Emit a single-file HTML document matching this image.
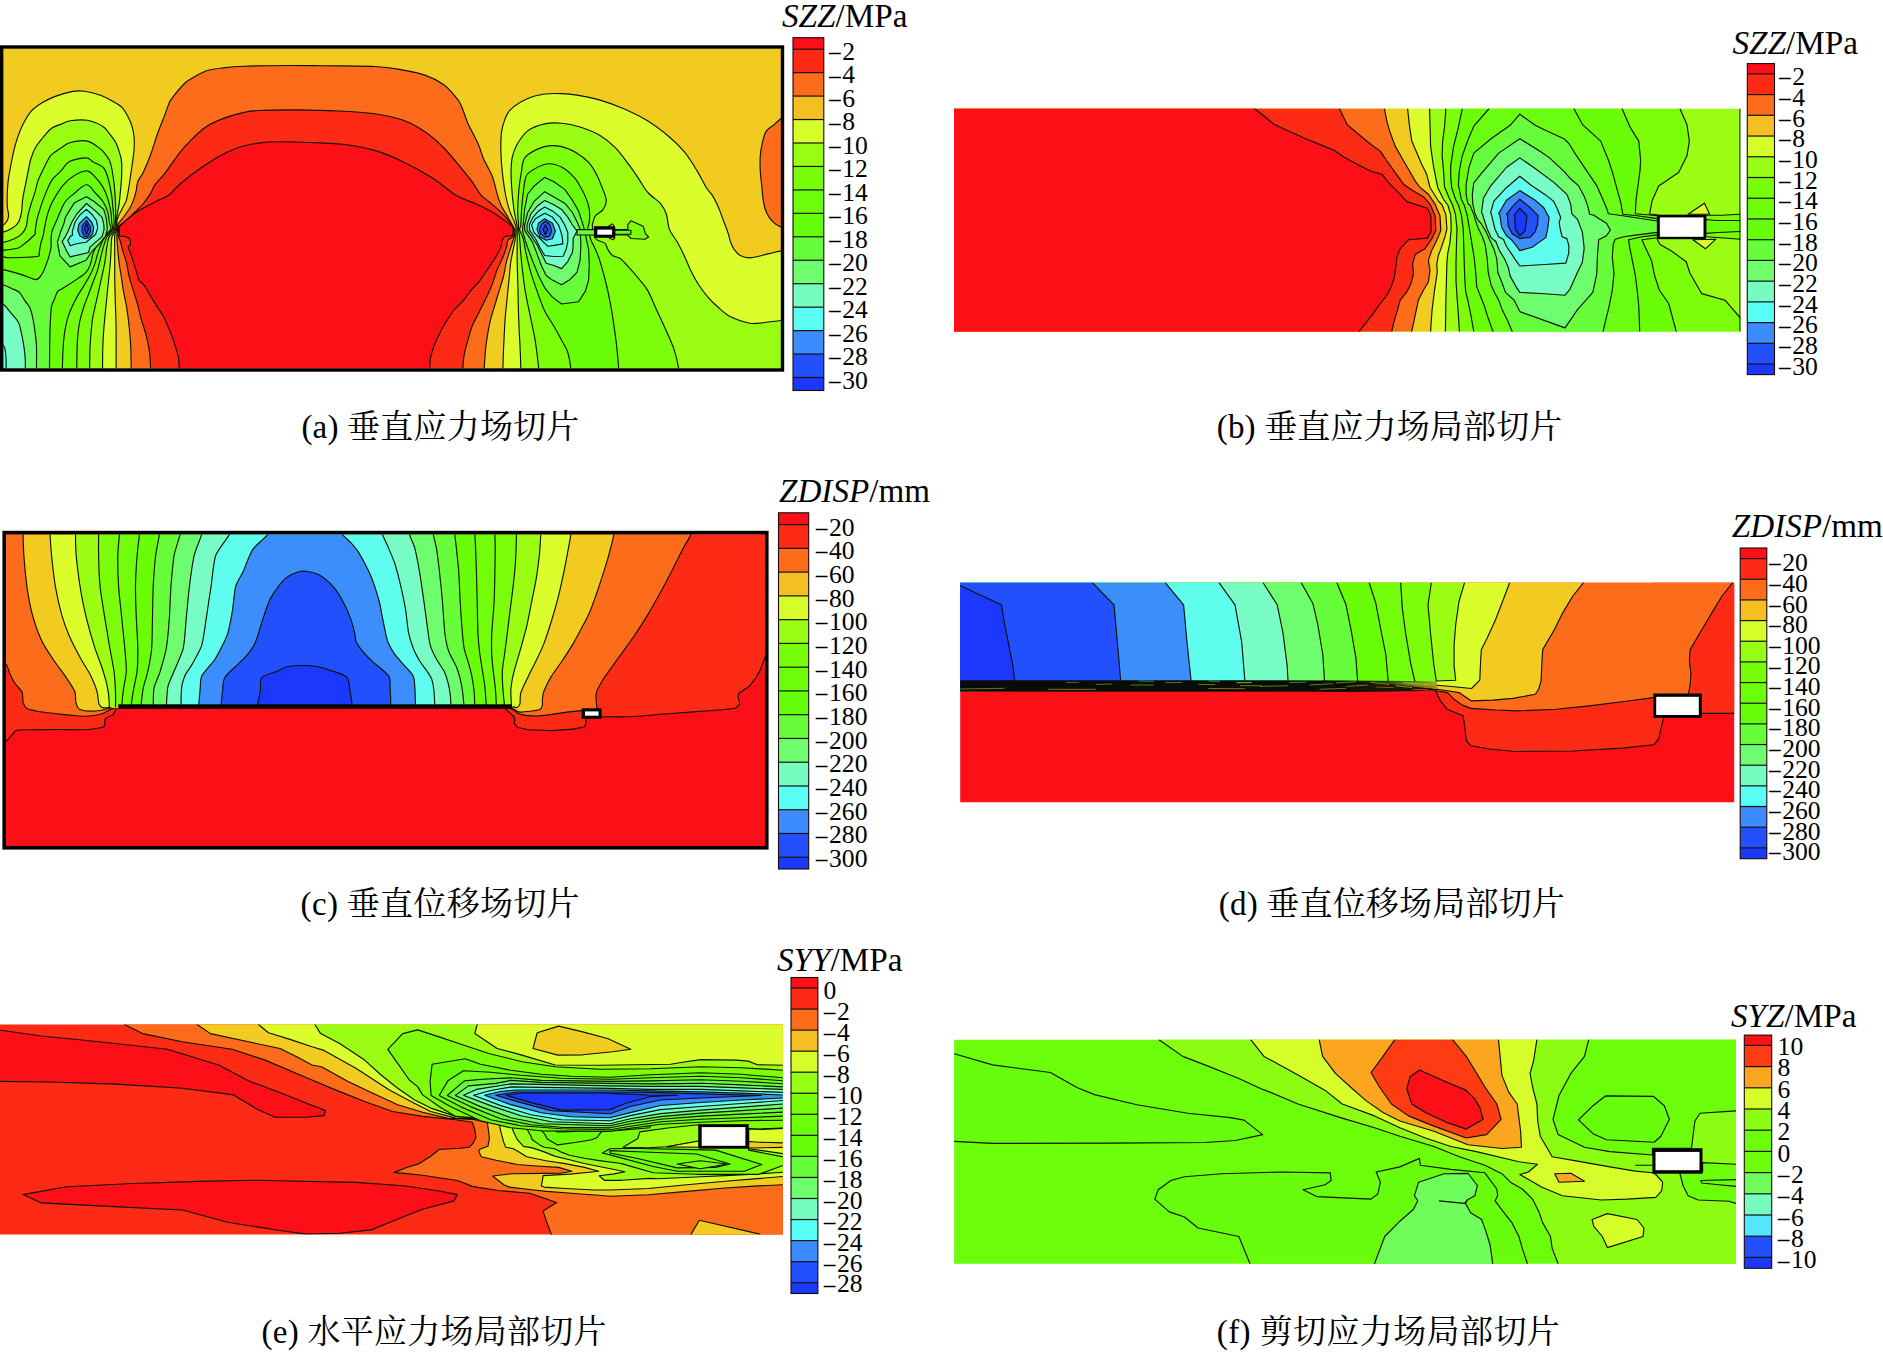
<!DOCTYPE html>
<html lang="zh"><head><meta charset="utf-8"><title>Figure</title>
<style>
html,body{margin:0;padding:0;background:#fff;}
body{width:1883px;height:1354px;overflow:hidden;}
svg{display:block;}
.t{font-family:"Liberation Serif","Noto Serif CJK SC",serif;fill:#000;}
.lab{font-size:23.5px;}
.ttl{font-size:33px;}
.cap{font-size:33px;}
</style></head><body>
<svg xmlns="http://www.w3.org/2000/svg" width="1883" height="1354" viewBox="0 0 1883 1354">
<rect x="0" y="0" width="1883" height="1354" fill="#fff"/>
<g id="panel-a">
<defs><clipPath id="clipA"><rect x="3.2" y="48.6" width="777.8" height="319.7"/></clipPath></defs>
<g clip-path="url(#clipA)">
<rect x="0" y="40" width="790" height="340" fill="#f1cb1f"/>
<path d="M-5.7,225.7 C-4.3,225.6 1.0,225.8 3.1,225.0 C5.3,224.1 6.3,222.3 7.2,220.7 C8.1,219.0 8.6,217.6 8.6,214.9 C8.6,212.3 7.3,210.2 7.2,204.9 C7.1,199.6 7.2,190.6 7.9,183.4 C8.6,176.2 10.2,168.6 11.5,161.9 C12.8,155.2 14.1,149.0 15.8,143.2 C17.4,137.5 19.0,132.7 21.5,127.5 C24.0,122.2 27.5,115.8 30.8,111.7 C34.2,107.6 37.6,105.6 41.6,103.1 C45.5,100.6 49.5,98.6 54.5,96.6 C59.5,94.7 66.7,92.5 71.7,91.6 C76.7,90.7 79.8,90.7 84.6,91.3 C89.4,91.9 95.6,93.5 100.4,95.2 C105.2,96.9 109.7,99.6 113.3,101.7 C116.9,103.7 119.5,105.0 121.9,107.4 C124.3,109.8 125.9,112.9 127.6,116.0 C129.3,119.1 130.8,122.4 131.9,126.0 C133.0,129.6 133.7,133.7 134.1,137.5 C134.4,141.3 134.3,144.9 134.1,149.0 C133.8,153.0 133.2,157.3 132.6,161.9 C132.0,166.4 131.2,171.4 130.5,176.2 C129.8,181.0 129.0,186.5 128.3,190.6 C127.6,194.6 127.3,197.5 126.2,200.6 C125.1,203.7 123.1,206.8 121.9,209.2 C120.7,211.6 119.8,213.0 119.0,214.9 C118.2,216.8 117.2,218.2 116.9,220.7 C116.5,223.1 117.1,227.1 116.7,229.6 C116.3,232.1 115.0,232.9 114.7,235.9 C114.4,238.8 114.7,240.7 114.7,247.4 C114.7,254.1 114.7,268.9 114.7,276.0 C114.8,283.2 114.9,285.6 115.0,290.4 C115.1,295.1 115.3,299.9 115.4,304.7 C115.6,309.5 115.7,314.3 115.9,319.1 C116.0,323.8 116.1,325.1 116.1,333.4 C116.2,341.6 116.1,361.5 116.1,368.5 C116.1,375.6 116.1,374.5 116.1,375.7 L-10.0,380.0 L-5.7,225.7Z" fill="#dcfd2c"/><path d="M-5.7,225.7 C-4.3,225.6 1.0,225.8 3.1,225.0 C5.3,224.1 6.3,222.3 7.2,220.7 C8.1,219.0 8.6,217.6 8.6,214.9 C8.6,212.3 7.3,210.2 7.2,204.9 C7.1,199.6 7.2,190.6 7.9,183.4 C8.6,176.2 10.2,168.6 11.5,161.9 C12.8,155.2 14.1,149.0 15.8,143.2 C17.4,137.5 19.0,132.7 21.5,127.5 C24.0,122.2 27.5,115.8 30.8,111.7 C34.2,107.6 37.6,105.6 41.6,103.1 C45.5,100.6 49.5,98.6 54.5,96.6 C59.5,94.7 66.7,92.5 71.7,91.6 C76.7,90.7 79.8,90.7 84.6,91.3 C89.4,91.9 95.6,93.5 100.4,95.2 C105.2,96.9 109.7,99.6 113.3,101.7 C116.9,103.7 119.5,105.0 121.9,107.4 C124.3,109.8 125.9,112.9 127.6,116.0 C129.3,119.1 130.8,122.4 131.9,126.0 C133.0,129.6 133.7,133.7 134.1,137.5 C134.4,141.3 134.3,144.9 134.1,149.0 C133.8,153.0 133.2,157.3 132.6,161.9 C132.0,166.4 131.2,171.4 130.5,176.2 C129.8,181.0 129.0,186.5 128.3,190.6 C127.6,194.6 127.3,197.5 126.2,200.6 C125.1,203.7 123.1,206.8 121.9,209.2 C120.7,211.6 119.8,213.0 119.0,214.9 C118.2,216.8 117.2,218.2 116.9,220.7 C116.5,223.1 117.1,227.1 116.7,229.6 C116.3,232.1 115.0,232.9 114.7,235.9 C114.4,238.8 114.7,240.7 114.7,247.4 C114.7,254.1 114.7,268.9 114.7,276.0 C114.8,283.2 114.9,285.6 115.0,290.4 C115.1,295.1 115.3,299.9 115.4,304.7 C115.6,309.5 115.7,314.3 115.9,319.1 C116.0,323.8 116.1,325.1 116.1,333.4 C116.2,341.6 116.1,361.5 116.1,368.5 C116.1,375.6 116.1,374.5 116.1,375.7" fill="none" stroke="#0c1200" stroke-width="1.15" stroke-linejoin="round" stroke-linecap="round"/>
<path d="M-5.7,232.9 C-4.3,232.7 0.0,233.0 3.1,232.1 C6.3,231.3 10.3,229.5 12.9,227.8 C15.5,226.2 17.2,224.7 18.6,222.1 C20.1,219.5 20.8,216.1 21.5,212.1 C22.2,208.0 22.0,203.7 22.9,197.7 C23.9,191.8 25.9,182.7 27.2,176.2 C28.6,169.8 29.4,163.9 30.8,159.0 C32.3,154.1 33.8,150.4 35.9,146.8 C37.9,143.2 40.4,140.6 43.0,137.5 C45.6,134.4 48.5,130.5 51.6,128.2 C54.7,125.9 58.6,125.1 61.7,123.9 C64.8,122.6 66.0,121.3 70.3,120.7 C74.6,120.1 82.0,119.3 87.5,120.3 C93.0,121.3 99.7,124.6 103.2,126.8 C106.8,128.9 106.8,130.5 109.0,133.2 C111.1,135.9 114.3,139.9 116.1,143.2 C117.9,146.6 118.8,150.2 119.7,153.3 C120.6,156.4 121.3,158.1 121.6,161.9 C121.9,165.7 121.8,171.4 121.6,176.2 C121.4,181.0 120.9,185.8 120.5,190.6 C120.0,195.3 119.6,200.6 119.0,204.9 C118.4,209.2 117.4,212.3 116.9,216.4 C116.3,220.5 116.4,226.1 115.6,229.6 C114.8,233.1 112.6,234.4 111.8,237.3 C111.1,240.3 111.4,243.3 111.1,247.4 C110.9,251.4 110.8,256.9 110.4,261.7 C110.1,266.5 109.5,271.2 109.0,276.0 C108.5,280.8 108.0,285.6 107.5,290.4 C107.1,295.1 106.6,299.9 106.1,304.7 C105.6,309.5 105.1,314.3 104.7,319.1 C104.2,323.8 103.8,328.6 103.5,333.4 C103.2,338.2 103.0,341.9 102.8,347.7 C102.6,353.6 102.6,363.9 102.5,368.5 C102.5,373.2 102.5,374.5 102.5,375.7 L-10.0,380.0 L-5.7,232.9Z" fill="#9cfd14"/><path d="M-5.7,232.9 C-4.3,232.7 0.0,233.0 3.1,232.1 C6.3,231.3 10.3,229.5 12.9,227.8 C15.5,226.2 17.2,224.7 18.6,222.1 C20.1,219.5 20.8,216.1 21.5,212.1 C22.2,208.0 22.0,203.7 22.9,197.7 C23.9,191.8 25.9,182.7 27.2,176.2 C28.6,169.8 29.4,163.9 30.8,159.0 C32.3,154.1 33.8,150.4 35.9,146.8 C37.9,143.2 40.4,140.6 43.0,137.5 C45.6,134.4 48.5,130.5 51.6,128.2 C54.7,125.9 58.6,125.1 61.7,123.9 C64.8,122.6 66.0,121.3 70.3,120.7 C74.6,120.1 82.0,119.3 87.5,120.3 C93.0,121.3 99.7,124.6 103.2,126.8 C106.8,128.9 106.8,130.5 109.0,133.2 C111.1,135.9 114.3,139.9 116.1,143.2 C117.9,146.6 118.8,150.2 119.7,153.3 C120.6,156.4 121.3,158.1 121.6,161.9 C121.9,165.7 121.8,171.4 121.6,176.2 C121.4,181.0 120.9,185.8 120.5,190.6 C120.0,195.3 119.6,200.6 119.0,204.9 C118.4,209.2 117.4,212.3 116.9,216.4 C116.3,220.5 116.4,226.1 115.6,229.6 C114.8,233.1 112.6,234.4 111.8,237.3 C111.1,240.3 111.4,243.3 111.1,247.4 C110.9,251.4 110.8,256.9 110.4,261.7 C110.1,266.5 109.5,271.2 109.0,276.0 C108.5,280.8 108.0,285.6 107.5,290.4 C107.1,295.1 106.6,299.9 106.1,304.7 C105.6,309.5 105.1,314.3 104.7,319.1 C104.2,323.8 103.8,328.6 103.5,333.4 C103.2,338.2 103.0,341.9 102.8,347.7 C102.6,353.6 102.6,363.9 102.5,368.5 C102.5,373.2 102.5,374.5 102.5,375.7" fill="none" stroke="#0c1200" stroke-width="1.15" stroke-linejoin="round" stroke-linecap="round"/>
<path d="M-4.8,242.6 C-3.3,242.5 0.9,242.8 4.0,242.2 C7.0,241.6 10.6,240.3 13.6,239.0 C16.5,237.6 19.4,236.3 21.5,234.2 C23.7,232.1 25.3,229.3 26.3,226.2 C27.4,223.1 27.1,219.6 27.9,215.8 C28.7,212.1 29.9,207.9 31.1,203.9 C32.3,199.9 33.9,195.9 35.1,191.9 C36.3,187.9 36.8,183.9 38.3,179.9 C39.8,176.0 42.3,171.3 43.9,168.0 C45.5,164.7 46.6,162.2 47.9,160.0 C49.2,157.8 49.3,156.8 51.6,154.7 C53.9,152.6 58.6,149.6 61.7,147.5 C64.8,145.5 66.0,143.6 70.3,142.5 C74.6,141.4 82.5,140.0 87.5,141.1 C92.5,142.2 97.5,146.9 100.4,149.0 C103.2,151.0 103.2,151.4 104.7,153.3 C106.2,155.1 108.1,157.6 109.3,160.0 C110.4,162.4 110.9,164.0 111.7,168.0 C112.5,172.0 113.5,178.6 114.1,183.9 C114.7,189.2 115.0,194.6 115.3,199.9 C115.5,205.2 115.8,210.9 115.7,215.8 C115.5,220.8 115.5,226.0 114.4,229.6 C113.3,233.2 110.2,234.4 109.0,237.3 C107.7,240.3 107.4,243.8 106.8,247.4 C106.2,250.9 106.0,255.0 105.4,258.8 C104.8,262.7 104.1,266.2 103.2,270.3 C102.4,274.4 101.3,278.9 100.4,283.2 C99.4,287.5 98.5,291.8 97.5,296.1 C96.5,300.4 95.5,305.2 94.6,309.0 C93.8,312.8 93.1,315.0 92.5,319.1 C91.9,323.1 91.5,328.6 91.0,333.4 C90.6,338.2 90.3,341.9 90.0,347.7 C89.8,353.6 89.7,363.9 89.6,368.5 C89.5,373.2 89.6,374.5 89.6,375.7 L-10.0,380.0 L-4.8,242.6Z" fill="#7cfd0a"/><path d="M-4.8,242.6 C-3.3,242.5 0.9,242.8 4.0,242.2 C7.0,241.6 10.6,240.3 13.6,239.0 C16.5,237.6 19.4,236.3 21.5,234.2 C23.7,232.1 25.3,229.3 26.3,226.2 C27.4,223.1 27.1,219.6 27.9,215.8 C28.7,212.1 29.9,207.9 31.1,203.9 C32.3,199.9 33.9,195.9 35.1,191.9 C36.3,187.9 36.8,183.9 38.3,179.9 C39.8,176.0 42.3,171.3 43.9,168.0 C45.5,164.7 46.6,162.2 47.9,160.0 C49.2,157.8 49.3,156.8 51.6,154.7 C53.9,152.6 58.6,149.6 61.7,147.5 C64.8,145.5 66.0,143.6 70.3,142.5 C74.6,141.4 82.5,140.0 87.5,141.1 C92.5,142.2 97.5,146.9 100.4,149.0 C103.2,151.0 103.2,151.4 104.7,153.3 C106.2,155.1 108.1,157.6 109.3,160.0 C110.4,162.4 110.9,164.0 111.7,168.0 C112.5,172.0 113.5,178.6 114.1,183.9 C114.7,189.2 115.0,194.6 115.3,199.9 C115.5,205.2 115.8,210.9 115.7,215.8 C115.5,220.8 115.5,226.0 114.4,229.6 C113.3,233.2 110.2,234.4 109.0,237.3 C107.7,240.3 107.4,243.8 106.8,247.4 C106.2,250.9 106.0,255.0 105.4,258.8 C104.8,262.7 104.1,266.2 103.2,270.3 C102.4,274.4 101.3,278.9 100.4,283.2 C99.4,287.5 98.5,291.8 97.5,296.1 C96.5,300.4 95.5,305.2 94.6,309.0 C93.8,312.8 93.1,315.0 92.5,319.1 C91.9,323.1 91.5,328.6 91.0,333.4 C90.6,338.2 90.3,341.9 90.0,347.7 C89.8,353.6 89.7,363.9 89.6,368.5 C89.5,373.2 89.6,374.5 89.6,375.7" fill="none" stroke="#0c1200" stroke-width="1.15" stroke-linejoin="round" stroke-linecap="round"/>
<path d="M-4.8,250.1 C-3.3,250.1 0.5,250.4 4.0,250.1 C7.4,249.9 13.0,249.2 15.9,248.5 C18.9,247.9 18.5,248.4 21.5,246.1 C24.6,243.9 32.0,237.4 34.3,235.0 C36.6,232.6 34.7,234.2 35.1,231.8 C35.5,229.4 35.9,224.3 36.7,220.6 C37.5,216.9 38.8,212.9 39.9,209.4 C40.9,206.0 41.7,203.5 43.1,199.9 C44.4,196.3 46.3,191.4 47.9,187.9 C49.5,184.5 50.4,182.1 52.6,179.1 C54.9,176.2 58.6,173.3 61.4,170.4 C64.2,167.4 65.3,163.7 69.4,161.6 C73.5,159.5 82.1,157.8 86.0,157.9 C90.0,157.9 90.3,160.2 93.2,161.9 C96.1,163.6 101.1,165.0 103.7,168.0 C106.2,171.0 107.2,175.3 108.5,179.9 C109.8,184.6 110.9,190.6 111.7,195.9 C112.5,201.2 112.9,207.5 113.3,211.8 C113.7,216.2 114.1,219.3 114.1,222.2 C114.0,225.2 114.4,227.1 113.2,229.6 C112.0,232.1 108.5,234.4 106.8,237.3 C105.2,240.3 104.3,243.8 103.2,247.4 C102.2,250.9 101.3,255.0 100.4,258.8 C99.4,262.7 98.7,266.5 97.5,270.3 C96.3,274.1 94.6,277.9 93.2,281.8 C91.8,285.6 90.3,289.4 88.9,293.2 C87.5,297.1 85.9,300.9 84.6,304.7 C83.3,308.5 82.0,312.6 81.0,316.2 C80.1,319.8 79.5,322.2 78.9,326.2 C78.3,330.3 77.8,333.5 77.4,340.6 C77.1,347.6 76.8,362.7 76.7,368.5 C76.6,374.4 76.7,374.5 76.7,375.7 L-10.0,380.0 L-4.8,250.1Z" fill="#72fd0a"/><path d="M-4.8,250.1 C-3.3,250.1 0.5,250.4 4.0,250.1 C7.4,249.9 13.0,249.2 15.9,248.5 C18.9,247.9 18.5,248.4 21.5,246.1 C24.6,243.9 32.0,237.4 34.3,235.0 C36.6,232.6 34.7,234.2 35.1,231.8 C35.5,229.4 35.9,224.3 36.7,220.6 C37.5,216.9 38.8,212.9 39.9,209.4 C40.9,206.0 41.7,203.5 43.1,199.9 C44.4,196.3 46.3,191.4 47.9,187.9 C49.5,184.5 50.4,182.1 52.6,179.1 C54.9,176.2 58.6,173.3 61.4,170.4 C64.2,167.4 65.3,163.7 69.4,161.6 C73.5,159.5 82.1,157.8 86.0,157.9 C90.0,157.9 90.3,160.2 93.2,161.9 C96.1,163.6 101.1,165.0 103.7,168.0 C106.2,171.0 107.2,175.3 108.5,179.9 C109.8,184.6 110.9,190.6 111.7,195.9 C112.5,201.2 112.9,207.5 113.3,211.8 C113.7,216.2 114.1,219.3 114.1,222.2 C114.0,225.2 114.4,227.1 113.2,229.6 C112.0,232.1 108.5,234.4 106.8,237.3 C105.2,240.3 104.3,243.8 103.2,247.4 C102.2,250.9 101.3,255.0 100.4,258.8 C99.4,262.7 98.7,266.5 97.5,270.3 C96.3,274.1 94.6,277.9 93.2,281.8 C91.8,285.6 90.3,289.4 88.9,293.2 C87.5,297.1 85.9,300.9 84.6,304.7 C83.3,308.5 82.0,312.6 81.0,316.2 C80.1,319.8 79.5,322.2 78.9,326.2 C78.3,330.3 77.8,333.5 77.4,340.6 C77.1,347.6 76.8,362.7 76.7,368.5 C76.6,374.4 76.7,374.5 76.7,375.7" fill="none" stroke="#0c1200" stroke-width="1.15" stroke-linejoin="round" stroke-linecap="round"/>
<path d="M-4.8,256.9 C-3.3,256.9 1.6,256.8 4.0,256.9 C6.4,257.0 4.1,257.8 9.6,257.7 C15.0,257.6 31.8,257.2 36.7,256.5 C41.6,255.8 38.4,255.4 39.1,253.3 C39.7,251.2 40.0,246.7 40.7,243.8 C41.3,240.8 42.4,238.6 43.1,235.8 C43.7,233.0 44.0,230.3 44.7,227.0 C45.3,223.7 46.0,219.6 47.1,215.8 C48.1,212.1 49.6,208.0 51.0,204.7 C52.5,201.3 54.0,198.9 55.8,195.9 C57.7,192.8 59.6,189.4 62.2,186.3 C64.9,183.2 67.7,179.7 71.8,177.2 C75.8,174.6 82.6,170.7 86.5,170.8 C90.5,170.8 93.0,174.8 95.7,177.6 C98.4,180.3 100.9,183.7 102.9,187.1 C104.9,190.6 106.4,194.2 107.7,198.3 C109.0,202.4 110.2,207.9 110.9,211.8 C111.5,215.8 111.5,219.3 111.7,222.2 C111.9,225.2 113.2,227.1 112.0,229.6 C110.8,232.1 106.6,234.6 104.7,237.3 C102.7,240.0 101.6,243.1 100.4,245.9 C99.2,248.8 98.5,251.4 97.5,254.5 C96.5,257.6 95.8,261.2 94.6,264.6 C93.4,267.9 92.0,271.3 90.3,274.6 C88.7,277.9 86.8,281.1 84.6,284.6 C82.4,288.2 79.6,292.3 77.4,296.1 C75.3,299.9 73.4,303.8 71.7,307.6 C70.0,311.4 68.6,314.7 67.4,319.1 C66.2,323.4 65.2,328.6 64.5,333.4 C63.8,338.2 63.4,341.9 63.1,347.7 C62.7,353.6 62.5,363.9 62.4,368.5 C62.2,373.2 62.4,374.5 62.4,375.7 L-10.0,380.0 L-4.8,256.9Z" fill="#6afd08"/><path d="M-4.8,256.9 C-3.3,256.9 1.6,256.8 4.0,256.9 C6.4,257.0 4.1,257.8 9.6,257.7 C15.0,257.6 31.8,257.2 36.7,256.5 C41.6,255.8 38.4,255.4 39.1,253.3 C39.7,251.2 40.0,246.7 40.7,243.8 C41.3,240.8 42.4,238.6 43.1,235.8 C43.7,233.0 44.0,230.3 44.7,227.0 C45.3,223.7 46.0,219.6 47.1,215.8 C48.1,212.1 49.6,208.0 51.0,204.7 C52.5,201.3 54.0,198.9 55.8,195.9 C57.7,192.8 59.6,189.4 62.2,186.3 C64.9,183.2 67.7,179.7 71.8,177.2 C75.8,174.6 82.6,170.7 86.5,170.8 C90.5,170.8 93.0,174.8 95.7,177.6 C98.4,180.3 100.9,183.7 102.9,187.1 C104.9,190.6 106.4,194.2 107.7,198.3 C109.0,202.4 110.2,207.9 110.9,211.8 C111.5,215.8 111.5,219.3 111.7,222.2 C111.9,225.2 113.2,227.1 112.0,229.6 C110.8,232.1 106.6,234.6 104.7,237.3 C102.7,240.0 101.6,243.1 100.4,245.9 C99.2,248.8 98.5,251.4 97.5,254.5 C96.5,257.6 95.8,261.2 94.6,264.6 C93.4,267.9 92.0,271.3 90.3,274.6 C88.7,277.9 86.8,281.1 84.6,284.6 C82.4,288.2 79.6,292.3 77.4,296.1 C75.3,299.9 73.4,303.8 71.7,307.6 C70.0,311.4 68.6,314.7 67.4,319.1 C66.2,323.4 65.2,328.6 64.5,333.4 C63.8,338.2 63.4,341.9 63.1,347.7 C62.7,353.6 62.5,363.9 62.4,368.5 C62.2,373.2 62.4,374.5 62.4,375.7" fill="none" stroke="#0c1200" stroke-width="1.15" stroke-linejoin="round" stroke-linecap="round"/>
<path d="M-5.7,268.9 C-4.3,269.0 -1.4,268.6 3.1,269.6 C7.7,270.5 16.1,272.9 21.5,274.6 C27.0,276.3 32.5,279.6 35.9,279.6 C39.2,279.6 40.1,276.4 41.6,274.6 C43.0,272.8 43.4,271.3 44.5,268.9 C45.5,266.4 46.8,263.2 47.9,259.7 C49.0,256.2 50.5,250.8 51.0,247.7 C51.6,244.7 50.9,244.0 51.0,241.4 C51.2,238.7 51.1,235.0 51.9,231.8 C52.6,228.6 54.4,225.7 55.8,222.2 C57.3,218.8 59.0,214.5 60.6,211.1 C62.2,207.6 63.1,204.4 65.4,201.5 C67.7,198.6 70.7,196.3 74.2,193.5 C77.7,190.7 83.0,184.7 86.5,184.7 C90.1,184.7 93.0,190.7 95.7,193.5 C98.4,196.3 100.9,198.4 102.9,201.5 C104.9,204.5 106.6,208.4 107.7,211.8 C108.7,215.3 108.8,219.3 109.3,222.2 C109.8,225.2 111.7,227.1 110.6,229.6 C109.5,232.1 104.7,234.8 102.5,237.3 C100.3,239.8 99.1,241.9 97.5,244.5 C95.9,247.1 94.4,249.7 93.2,253.1 C92.0,256.4 91.5,261.3 90.3,264.6 C89.1,267.8 88.2,270.1 86.0,272.4 C83.9,274.8 80.3,276.9 77.4,278.9 C74.6,280.9 71.5,283.0 68.8,284.6 C66.2,286.3 63.6,287.7 61.7,288.9 C59.7,290.1 58.6,290.1 57.4,291.8 C56.2,293.5 55.4,296.6 54.5,299.0 C53.5,301.4 52.3,302.8 51.6,306.1 C50.9,309.5 50.8,314.5 50.5,319.1 C50.2,323.6 50.1,325.1 49.9,333.4 C49.7,341.6 49.5,361.5 49.5,368.5 C49.4,375.6 49.5,374.5 49.5,375.7 L-10.0,380.0 L-5.7,268.9Z" fill="#68fd3a"/><path d="M-5.7,268.9 C-4.3,269.0 -1.4,268.6 3.1,269.6 C7.7,270.5 16.1,272.9 21.5,274.6 C27.0,276.3 32.5,279.6 35.9,279.6 C39.2,279.6 40.1,276.4 41.6,274.6 C43.0,272.8 43.4,271.3 44.5,268.9 C45.5,266.4 46.8,263.2 47.9,259.7 C49.0,256.2 50.5,250.8 51.0,247.7 C51.6,244.7 50.9,244.0 51.0,241.4 C51.2,238.7 51.1,235.0 51.9,231.8 C52.6,228.6 54.4,225.7 55.8,222.2 C57.3,218.8 59.0,214.5 60.6,211.1 C62.2,207.6 63.1,204.4 65.4,201.5 C67.7,198.6 70.7,196.3 74.2,193.5 C77.7,190.7 83.0,184.7 86.5,184.7 C90.1,184.7 93.0,190.7 95.7,193.5 C98.4,196.3 100.9,198.4 102.9,201.5 C104.9,204.5 106.6,208.4 107.7,211.8 C108.7,215.3 108.8,219.3 109.3,222.2 C109.8,225.2 111.7,227.1 110.6,229.6 C109.5,232.1 104.7,234.8 102.5,237.3 C100.3,239.8 99.1,241.9 97.5,244.5 C95.9,247.1 94.4,249.7 93.2,253.1 C92.0,256.4 91.5,261.3 90.3,264.6 C89.1,267.8 88.2,270.1 86.0,272.4 C83.9,274.8 80.3,276.9 77.4,278.9 C74.6,280.9 71.5,283.0 68.8,284.6 C66.2,286.3 63.6,287.7 61.7,288.9 C59.7,290.1 58.6,290.1 57.4,291.8 C56.2,293.5 55.4,296.6 54.5,299.0 C53.5,301.4 52.3,302.8 51.6,306.1 C50.9,309.5 50.8,314.5 50.5,319.1 C50.2,323.6 50.1,325.1 49.9,333.4 C49.7,341.6 49.5,361.5 49.5,368.5 C49.4,375.6 49.5,374.5 49.5,375.7" fill="none" stroke="#0c1200" stroke-width="1.15" stroke-linejoin="round" stroke-linecap="round"/>
<path d="M-5.8,283.6 C-4.2,283.8 1.0,284.2 3.8,285.0 C6.7,285.8 9.0,287.2 11.5,288.4 C14.1,289.6 17.0,290.2 19.2,292.2 C21.4,294.3 23.2,298.3 25.0,300.9 C26.7,303.4 28.5,304.9 29.8,307.6 C31.0,310.3 31.8,313.2 32.6,317.2 C33.5,321.2 34.4,326.8 35.0,331.6 C35.7,336.4 36.2,339.9 36.5,346.0 C36.7,352.1 36.5,363.3 36.5,368.1 C36.5,372.9 36.5,373.7 36.5,374.8 L-10.0,380.0 L-5.8,283.6Z" fill="#6efd6e"/><path d="M-5.8,283.6 C-4.2,283.8 1.0,284.2 3.8,285.0 C6.7,285.8 9.0,287.2 11.5,288.4 C14.1,289.6 17.0,290.2 19.2,292.2 C21.4,294.3 23.2,298.3 25.0,300.9 C26.7,303.4 28.5,304.9 29.8,307.6 C31.0,310.3 31.8,313.2 32.6,317.2 C33.5,321.2 34.4,326.8 35.0,331.6 C35.7,336.4 36.2,339.9 36.5,346.0 C36.7,352.1 36.5,363.3 36.5,368.1 C36.5,372.9 36.5,373.7 36.5,374.8" fill="none" stroke="#0c1200" stroke-width="1.15" stroke-linejoin="round" stroke-linecap="round"/>
<path d="M-5.8,301.9 C-4.2,302.3 1.3,303.1 3.8,304.7 C6.4,306.3 7.2,308.6 9.6,311.4 C12.0,314.3 16.4,319.0 18.2,322.0 C20.1,325.1 19.8,326.5 20.6,329.7 C21.4,332.9 22.3,336.9 23.0,341.2 C23.8,345.5 24.6,351.1 25.0,355.6 C25.4,360.1 25.4,364.9 25.4,368.1 C25.5,371.3 25.4,373.7 25.4,374.8 L-10.0,380.0 L-5.8,301.9Z" fill="#78fdc6"/><path d="M-5.8,301.9 C-4.2,302.3 1.3,303.1 3.8,304.7 C6.4,306.3 7.2,308.6 9.6,311.4 C12.0,314.3 16.4,319.0 18.2,322.0 C20.1,325.1 19.8,326.5 20.6,329.7 C21.4,332.9 22.3,336.9 23.0,341.2 C23.8,345.5 24.6,351.1 25.0,355.6 C25.4,360.1 25.4,364.9 25.4,368.1 C25.5,371.3 25.4,373.7 25.4,374.8" fill="none" stroke="#0c1200" stroke-width="1.15" stroke-linejoin="round" stroke-linecap="round"/>
<path d="M-5.8,336.4 C-4.2,338.0 1.9,342.8 3.8,346.0 C5.8,349.2 5.4,351.9 5.8,355.6 C6.2,359.3 6.2,364.9 6.2,368.1 C6.3,371.3 6.2,373.7 6.2,374.8 L-10.0,380.0 L-5.8,336.4Z" fill="#5efdee"/><path d="M-5.8,336.4 C-4.2,338.0 1.9,342.8 3.8,346.0 C5.8,349.2 5.4,351.9 5.8,355.6 C6.2,359.3 6.2,364.9 6.2,368.1 C6.3,371.3 6.2,373.7 6.2,374.8" fill="none" stroke="#0c1200" stroke-width="1.15" stroke-linejoin="round" stroke-linecap="round"/>
<path d="M86.5,196.7 L79.8,199.9 L74.2,203.1 L70.2,209.4 L65.4,217.4 L63.8,223.8 L60.6,231.8 L57.4,242.2 L59.8,255.7 L70.2,266.9 L86.0,260.3 L91.8,251.7 L100.0,243.0 L105.5,236.0 L107.3,229.4 L106.9,223.8 L106.1,217.4 L103.7,209.4 L94.1,201.5Z" fill="#6efd6e" stroke="#0c1200" stroke-width="1.15" stroke-linejoin="round"/>
<path d="M86.5,203.5 L76.6,214.2 L71.8,222.2 L67.8,231.8 L65.4,236.6 L62.2,241.4 L67.0,251.7 L70.2,256.9 L88.5,252.5 L90.1,246.9 L102.1,236.6 L104.1,229.4 L103.7,223.8 L102.1,217.4 L95.7,211.1Z" fill="#78fdc6" stroke="#0c1200" stroke-width="1.15" stroke-linejoin="round"/>
<path d="M86.5,209.4 L79.8,215.0 L75.0,222.2 L72.2,231.8 L72.6,235.0 L70.2,236.6 L67.8,240.6 L70.2,245.8 L76.6,243.8 L86.1,242.2 L90.1,239.0 L95.7,234.2 L97.7,227.8 L96.5,220.6 L92.5,215.0Z" fill="#5efdee" stroke="#0c1200" stroke-width="1.15" stroke-linejoin="round"/>
<path d="M86.5,216.6 L83.0,219.8 L79.0,223.8 L77.8,230.2 L79.8,235.8 L84.5,238.6 L89.3,237.8 L92.5,234.2 L93.7,227.8 L91.7,222.2Z" fill="#3c8efd" stroke="#0c1200" stroke-width="1.15" stroke-linejoin="round"/>
<path d="M86.5,220.6 L82.2,226.2 L82.2,231.8 L84.5,236.6 L87.7,236.6 L90.5,231.8 L90.1,226.2Z" fill="#2250fd" stroke="#0c1200" stroke-width="1.15" stroke-linejoin="round"/>
<path d="M86.5,223.8 L84.5,228.6 L86.5,234.2 L88.5,228.6Z" fill="#1c38fd" stroke="#0c1200" stroke-width="1.15" stroke-linejoin="round"/>
<path d="M117.7,229.6 C117.7,228.8 116.9,226.7 117.6,225.0 C118.3,223.2 120.0,221.9 121.9,219.2 C123.8,216.6 127.1,212.3 129.1,209.2 C131.0,206.1 132.2,203.7 133.3,200.6 C134.5,197.5 135.5,193.7 136.2,190.6 C136.9,187.5 136.5,185.1 137.7,181.9 C138.8,178.8 141.2,176.5 143.4,171.9 C145.5,167.4 148.2,161.2 150.6,154.7 C152.9,148.3 155.3,139.9 157.7,133.2 C160.1,126.5 163.0,119.6 164.9,114.6 C166.8,109.5 168.0,105.8 169.2,103.1 C170.4,100.3 169.4,101.4 172.1,98.1 C174.7,94.7 181.4,86.5 185.0,83.0 C188.6,79.6 190.0,79.3 193.6,77.3 C197.2,75.2 201.7,72.4 206.5,70.8 C211.3,69.3 216.0,68.7 222.2,68.0 C228.5,67.2 232.7,66.6 243.8,66.2 C254.8,65.8 275.5,65.6 288.7,65.5 C301.9,65.4 308.8,65.6 323.1,65.8 C337.4,66.0 361.3,65.8 374.7,66.5 C388.1,67.2 395.0,68.7 403.4,70.1 C411.8,71.5 418.2,72.7 424.9,75.1 C431.6,77.5 438.8,81.2 443.5,84.5 C448.3,87.7 450.7,91.1 453.6,94.5 C456.4,97.8 458.4,99.7 460.7,104.5 C463.1,109.3 465.0,116.7 467.9,123.2 C470.8,129.6 475.3,137.3 477.9,143.2 C480.6,149.2 481.3,153.5 483.7,159.0 C486.1,164.5 490.1,170.7 492.3,176.2 C494.4,181.7 495.2,187.2 496.6,192.0 C498.0,196.8 499.2,201.1 500.9,204.9 C502.6,208.7 504.7,211.6 506.6,214.9 C508.5,218.3 511.0,222.5 512.4,225.0 C513.8,227.4 514.6,229.0 515.0,229.8 C514.9,230.8 515.1,233.0 514.4,235.9 C513.7,238.8 512.1,243.1 510.8,247.4 C509.5,251.7 507.7,256.9 506.5,261.7 C505.3,266.5 504.8,271.2 503.6,276.0 C502.4,280.8 500.7,285.6 499.3,290.4 C497.9,295.1 496.4,299.9 495.0,304.7 C493.6,309.5 491.9,314.3 490.7,319.1 C489.5,323.8 488.7,328.6 487.8,333.4 C487.0,338.2 486.3,341.9 485.7,347.7 C485.1,353.6 484.5,363.9 484.2,368.5 C484.0,373.2 484.2,374.5 484.2,375.7 L131.2,375.7 C131.2,374.5 131.3,373.2 131.2,368.5 C131.1,363.9 131.0,353.6 130.8,347.7 C130.5,341.9 130.2,338.2 129.8,333.4 C129.4,328.6 128.9,323.8 128.3,319.1 C127.7,314.3 127.0,309.5 126.2,304.7 C125.3,299.9 124.1,295.1 123.3,290.4 C122.5,285.6 121.9,280.8 121.2,276.0 C120.4,271.2 119.6,266.5 119.0,261.7 C118.4,256.9 117.9,251.7 117.6,247.4 C117.2,243.1 116.8,238.8 116.9,235.9 C116.9,232.9 117.6,230.6 117.7,229.6Z" fill="#fd6c1a"/><path d="M117.7,229.6 C117.7,228.8 116.9,226.7 117.6,225.0 C118.3,223.2 120.0,221.9 121.9,219.2 C123.8,216.6 127.1,212.3 129.1,209.2 C131.0,206.1 132.2,203.7 133.3,200.6 C134.5,197.5 135.5,193.7 136.2,190.6 C136.9,187.5 136.5,185.1 137.7,181.9 C138.8,178.8 141.2,176.5 143.4,171.9 C145.5,167.4 148.2,161.2 150.6,154.7 C152.9,148.3 155.3,139.9 157.7,133.2 C160.1,126.5 163.0,119.6 164.9,114.6 C166.8,109.5 168.0,105.8 169.2,103.1 C170.4,100.3 169.4,101.4 172.1,98.1 C174.7,94.7 181.4,86.5 185.0,83.0 C188.6,79.6 190.0,79.3 193.6,77.3 C197.2,75.2 201.7,72.4 206.5,70.8 C211.3,69.3 216.0,68.7 222.2,68.0 C228.5,67.2 232.7,66.6 243.8,66.2 C254.8,65.8 275.5,65.6 288.7,65.5 C301.9,65.4 308.8,65.6 323.1,65.8 C337.4,66.0 361.3,65.8 374.7,66.5 C388.1,67.2 395.0,68.7 403.4,70.1 C411.8,71.5 418.2,72.7 424.9,75.1 C431.6,77.5 438.8,81.2 443.5,84.5 C448.3,87.7 450.7,91.1 453.6,94.5 C456.4,97.8 458.4,99.7 460.7,104.5 C463.1,109.3 465.0,116.7 467.9,123.2 C470.8,129.6 475.3,137.3 477.9,143.2 C480.6,149.2 481.3,153.5 483.7,159.0 C486.1,164.5 490.1,170.7 492.3,176.2 C494.4,181.7 495.2,187.2 496.6,192.0 C498.0,196.8 499.2,201.1 500.9,204.9 C502.6,208.7 504.7,211.6 506.6,214.9 C508.5,218.3 511.0,222.5 512.4,225.0 C513.8,227.4 514.6,229.0 515.0,229.8 M515.0,229.8 C514.9,230.8 515.1,233.0 514.4,235.9 C513.7,238.8 512.1,243.1 510.8,247.4 C509.5,251.7 507.7,256.9 506.5,261.7 C505.3,266.5 504.8,271.2 503.6,276.0 C502.4,280.8 500.7,285.6 499.3,290.4 C497.9,295.1 496.4,299.9 495.0,304.7 C493.6,309.5 491.9,314.3 490.7,319.1 C489.5,323.8 488.7,328.6 487.8,333.4 C487.0,338.2 486.3,341.9 485.7,347.7 C485.1,353.6 484.5,363.9 484.2,368.5 C484.0,373.2 484.2,374.5 484.2,375.7 M131.2,375.7 C131.2,374.5 131.3,373.2 131.2,368.5 C131.1,363.9 131.0,353.6 130.8,347.7 C130.5,341.9 130.2,338.2 129.8,333.4 C129.4,328.6 128.9,323.8 128.3,319.1 C127.7,314.3 127.0,309.5 126.2,304.7 C125.3,299.9 124.1,295.1 123.3,290.4 C122.5,285.6 121.9,280.8 121.2,276.0 C120.4,271.2 119.6,266.5 119.0,261.7 C118.4,256.9 117.9,251.7 117.6,247.4 C117.2,243.1 116.8,238.8 116.9,235.9 C116.9,232.9 117.6,230.6 117.7,229.6" fill="none" stroke="#0c1200" stroke-width="1.15" stroke-linejoin="round" stroke-linecap="round"/>
<path d="M118.6,229.6 C118.7,228.9 117.7,227.2 119.0,225.7 C120.3,224.2 123.6,222.9 126.2,220.7 C128.8,218.4 131.9,214.9 134.8,212.1 C137.6,209.2 140.8,206.6 143.4,203.5 C146.0,200.4 148.6,196.5 150.6,193.4 C152.5,190.3 152.5,188.2 154.9,184.8 C157.2,181.5 160.8,178.6 164.9,173.3 C169.0,168.1 175.2,158.5 179.2,153.3 C183.3,148.0 185.0,146.1 189.3,141.8 C193.6,137.5 199.6,131.3 205.1,127.5 C210.5,123.6 216.3,121.2 222.2,118.9 C228.2,116.5 234.9,114.5 240.9,113.1 C246.9,111.7 248.9,111.1 258.1,110.5 C267.3,110.0 282.4,109.8 295.9,109.8 C309.3,109.9 325.7,110.3 338.9,111.0 C352.0,111.6 364.0,112.3 374.7,113.8 C385.5,115.4 395.0,117.3 403.4,120.3 C411.8,123.3 418.2,127.2 424.9,131.8 C431.6,136.3 437.6,141.6 443.5,147.5 C449.5,153.5 456.0,161.9 460.7,167.6 C465.5,173.4 468.9,177.4 472.2,181.9 C475.6,186.5 478.0,191.5 480.8,194.9 C483.7,198.2 486.1,199.2 489.4,202.0 C492.8,204.9 497.3,208.5 500.9,212.1 C504.5,215.7 508.7,220.6 510.9,223.5 C513.1,226.5 513.5,228.8 514.0,229.8 C513.9,230.8 514.7,234.1 513.6,235.9 C512.6,237.6 509.1,238.3 507.9,240.2 C506.7,242.1 507.4,244.3 506.5,247.4 C505.5,250.5 503.9,254.8 502.2,258.8 C500.5,262.9 498.1,267.4 496.4,271.7 C494.8,276.0 493.8,280.3 492.1,284.6 C490.5,288.9 488.5,293.0 486.4,297.5 C484.2,302.1 481.6,307.1 479.2,311.9 C476.9,316.7 474.0,321.4 472.1,326.2 C470.2,331.0 469.1,335.8 467.8,340.6 C466.4,345.3 465.0,350.2 464.2,354.9 C463.3,359.6 463.0,365.1 462.8,368.5 C462.5,372.0 462.8,374.5 462.8,375.7 L150.6,375.7 C150.6,374.5 150.7,372.0 150.6,368.5 C150.4,365.1 150.3,359.3 149.8,354.9 C149.4,350.5 148.5,346.1 147.7,342.0 C146.9,337.9 145.9,334.3 144.8,330.5 C143.7,326.7 142.4,323.4 141.2,319.1 C140.0,314.7 139.0,309.5 137.7,304.7 C136.3,299.9 134.8,295.1 133.3,290.4 C131.9,285.6 130.2,280.8 129.1,276.0 C127.9,271.2 127.3,266.0 126.2,261.7 C125.1,257.4 123.6,253.6 122.6,250.2 C121.6,246.9 121.2,244.0 120.5,241.6 C119.7,239.2 118.6,237.9 118.3,235.9 C118.0,233.9 118.5,230.6 118.6,229.6Z" fill="#fd2a16"/><path d="M118.6,229.6 C118.7,228.9 117.7,227.2 119.0,225.7 C120.3,224.2 123.6,222.9 126.2,220.7 C128.8,218.4 131.9,214.9 134.8,212.1 C137.6,209.2 140.8,206.6 143.4,203.5 C146.0,200.4 148.6,196.5 150.6,193.4 C152.5,190.3 152.5,188.2 154.9,184.8 C157.2,181.5 160.8,178.6 164.9,173.3 C169.0,168.1 175.2,158.5 179.2,153.3 C183.3,148.0 185.0,146.1 189.3,141.8 C193.6,137.5 199.6,131.3 205.1,127.5 C210.5,123.6 216.3,121.2 222.2,118.9 C228.2,116.5 234.9,114.5 240.9,113.1 C246.9,111.7 248.9,111.1 258.1,110.5 C267.3,110.0 282.4,109.8 295.9,109.8 C309.3,109.9 325.7,110.3 338.9,111.0 C352.0,111.6 364.0,112.3 374.7,113.8 C385.5,115.4 395.0,117.3 403.4,120.3 C411.8,123.3 418.2,127.2 424.9,131.8 C431.6,136.3 437.6,141.6 443.5,147.5 C449.5,153.5 456.0,161.9 460.7,167.6 C465.5,173.4 468.9,177.4 472.2,181.9 C475.6,186.5 478.0,191.5 480.8,194.9 C483.7,198.2 486.1,199.2 489.4,202.0 C492.8,204.9 497.3,208.5 500.9,212.1 C504.5,215.7 508.7,220.6 510.9,223.5 C513.1,226.5 513.5,228.8 514.0,229.8 M514.0,229.8 C513.9,230.8 514.7,234.1 513.6,235.9 C512.6,237.6 509.1,238.3 507.9,240.2 C506.7,242.1 507.4,244.3 506.5,247.4 C505.5,250.5 503.9,254.8 502.2,258.8 C500.5,262.9 498.1,267.4 496.4,271.7 C494.8,276.0 493.8,280.3 492.1,284.6 C490.5,288.9 488.5,293.0 486.4,297.5 C484.2,302.1 481.6,307.1 479.2,311.9 C476.9,316.7 474.0,321.4 472.1,326.2 C470.2,331.0 469.1,335.8 467.8,340.6 C466.4,345.3 465.0,350.2 464.2,354.9 C463.3,359.6 463.0,365.1 462.8,368.5 C462.5,372.0 462.8,374.5 462.8,375.7 M150.6,375.7 C150.6,374.5 150.7,372.0 150.6,368.5 C150.4,365.1 150.3,359.3 149.8,354.9 C149.4,350.5 148.5,346.1 147.7,342.0 C146.9,337.9 145.9,334.3 144.8,330.5 C143.7,326.7 142.4,323.4 141.2,319.1 C140.0,314.7 139.0,309.5 137.7,304.7 C136.3,299.9 134.8,295.1 133.3,290.4 C131.9,285.6 130.2,280.8 129.1,276.0 C127.9,271.2 127.3,266.0 126.2,261.7 C125.1,257.4 123.6,253.6 122.6,250.2 C121.6,246.9 121.2,244.0 120.5,241.6 C119.7,239.2 118.6,237.9 118.3,235.9 C118.0,233.9 118.5,230.6 118.6,229.6" fill="none" stroke="#0c1200" stroke-width="1.15" stroke-linejoin="round" stroke-linecap="round"/>
<path d="M119.6,229.6 C119.6,229.1 118.2,228.4 119.7,226.4 C121.3,224.4 125.8,220.4 129.1,217.8 C132.3,215.2 134.3,213.5 139.1,210.6 C143.9,207.8 152.7,203.2 157.7,200.6 C162.7,198.0 165.6,197.5 169.2,194.9 C172.8,192.2 175.2,188.4 179.2,184.8 C183.3,181.2 188.8,176.9 193.6,173.3 C198.3,169.8 203.1,166.4 207.9,163.3 C212.7,160.2 216.8,157.5 222.2,154.7 C227.7,152.0 234.9,148.7 240.9,146.8 C246.9,144.9 252.5,144.1 258.1,143.2 C263.7,142.4 265.7,141.9 274.3,141.8 C283.0,141.7 298.2,142.0 310.2,142.5 C322.1,143.0 335.3,143.4 346.0,144.7 C356.8,146.0 365.1,147.5 374.7,150.4 C384.3,153.3 393.8,157.3 403.4,161.9 C412.9,166.4 423.2,172.0 432.1,177.7 C440.9,183.3 449.3,191.3 456.4,195.6 C463.6,199.9 469.1,200.7 475.1,203.5 C481.1,206.2 487.5,209.3 492.3,212.1 C497.1,214.8 500.4,217.6 503.8,219.9 C507.1,222.3 510.8,224.8 512.4,226.4 C513.9,228.0 512.9,229.2 513.0,229.8 C512.9,230.7 513.5,234.0 512.2,235.2 C510.9,236.3 506.7,235.8 505.1,236.6 C503.4,237.4 502.9,238.4 502.2,240.2 C501.5,242.0 501.7,244.7 500.7,247.4 C499.8,250.0 498.1,253.1 496.4,256.0 C494.8,258.8 492.6,261.7 490.7,264.6 C488.8,267.4 487.1,270.1 485.0,273.2 C482.8,276.3 480.0,280.6 477.8,283.2 C475.6,285.8 474.5,286.1 472.1,288.9 C469.7,291.8 466.3,297.1 463.5,300.4 C460.6,303.8 457.5,305.9 454.9,309.0 C452.2,312.1 449.6,316.2 447.7,319.1 C445.8,321.9 445.1,323.1 443.4,326.2 C441.7,329.3 439.3,334.1 437.6,337.7 C436.0,341.3 434.5,344.4 433.4,347.7 C432.2,351.1 431.1,354.3 430.5,357.8 C429.9,361.2 429.9,365.5 429.8,368.5 C429.7,371.5 429.8,374.5 429.8,375.7 L179.2,375.7 C179.2,374.5 179.4,371.5 179.2,368.5 C179.1,365.5 179.1,361.2 178.5,357.8 C177.9,354.3 176.7,351.3 175.7,347.7 C174.6,344.1 173.4,339.8 172.1,336.3 C170.8,332.7 169.2,329.6 167.8,326.2 C166.3,322.9 165.1,319.3 163.5,316.2 C161.8,313.1 159.9,310.9 157.7,307.6 C155.6,304.2 152.7,299.7 150.6,296.1 C148.4,292.5 146.7,288.7 144.8,286.1 C142.9,283.4 140.3,282.0 139.1,280.3 C137.9,278.7 138.6,279.1 137.7,276.0 C136.7,272.9 134.5,265.5 133.3,261.7 C132.2,257.9 131.3,255.5 130.5,253.1 C129.6,250.7 128.3,248.8 128.3,247.4 C128.3,245.9 130.2,245.8 130.5,244.5 C130.7,243.2 130.5,240.8 129.8,239.5 C129.1,238.2 127.9,237.2 126.2,236.6 C124.5,236.0 120.8,237.0 119.7,235.9 C118.6,234.7 119.6,230.6 119.6,229.6Z" fill="#fd0f18"/><path d="M119.6,229.6 C119.6,229.1 118.2,228.4 119.7,226.4 C121.3,224.4 125.8,220.4 129.1,217.8 C132.3,215.2 134.3,213.5 139.1,210.6 C143.9,207.8 152.7,203.2 157.7,200.6 C162.7,198.0 165.6,197.5 169.2,194.9 C172.8,192.2 175.2,188.4 179.2,184.8 C183.3,181.2 188.8,176.9 193.6,173.3 C198.3,169.8 203.1,166.4 207.9,163.3 C212.7,160.2 216.8,157.5 222.2,154.7 C227.7,152.0 234.9,148.7 240.9,146.8 C246.9,144.9 252.5,144.1 258.1,143.2 C263.7,142.4 265.7,141.9 274.3,141.8 C283.0,141.7 298.2,142.0 310.2,142.5 C322.1,143.0 335.3,143.4 346.0,144.7 C356.8,146.0 365.1,147.5 374.7,150.4 C384.3,153.3 393.8,157.3 403.4,161.9 C412.9,166.4 423.2,172.0 432.1,177.7 C440.9,183.3 449.3,191.3 456.4,195.6 C463.6,199.9 469.1,200.7 475.1,203.5 C481.1,206.2 487.5,209.3 492.3,212.1 C497.1,214.8 500.4,217.6 503.8,219.9 C507.1,222.3 510.8,224.8 512.4,226.4 C513.9,228.0 512.9,229.2 513.0,229.8 M513.0,229.8 C512.9,230.7 513.5,234.0 512.2,235.2 C510.9,236.3 506.7,235.8 505.1,236.6 C503.4,237.4 502.9,238.4 502.2,240.2 C501.5,242.0 501.7,244.7 500.7,247.4 C499.8,250.0 498.1,253.1 496.4,256.0 C494.8,258.8 492.6,261.7 490.7,264.6 C488.8,267.4 487.1,270.1 485.0,273.2 C482.8,276.3 480.0,280.6 477.8,283.2 C475.6,285.8 474.5,286.1 472.1,288.9 C469.7,291.8 466.3,297.1 463.5,300.4 C460.6,303.8 457.5,305.9 454.9,309.0 C452.2,312.1 449.6,316.2 447.7,319.1 C445.8,321.9 445.1,323.1 443.4,326.2 C441.7,329.3 439.3,334.1 437.6,337.7 C436.0,341.3 434.5,344.4 433.4,347.7 C432.2,351.1 431.1,354.3 430.5,357.8 C429.9,361.2 429.9,365.5 429.8,368.5 C429.7,371.5 429.8,374.5 429.8,375.7 M179.2,375.7 C179.2,374.5 179.4,371.5 179.2,368.5 C179.1,365.5 179.1,361.2 178.5,357.8 C177.9,354.3 176.7,351.3 175.7,347.7 C174.6,344.1 173.4,339.8 172.1,336.3 C170.8,332.7 169.2,329.6 167.8,326.2 C166.3,322.9 165.1,319.3 163.5,316.2 C161.8,313.1 159.9,310.9 157.7,307.6 C155.6,304.2 152.7,299.7 150.6,296.1 C148.4,292.5 146.7,288.7 144.8,286.1 C142.9,283.4 140.3,282.0 139.1,280.3 C137.9,278.7 138.6,279.1 137.7,276.0 C136.7,272.9 134.5,265.5 133.3,261.7 C132.2,257.9 131.3,255.5 130.5,253.1 C129.6,250.7 128.3,248.8 128.3,247.4 C128.3,245.9 130.2,245.8 130.5,244.5 C130.7,243.2 130.5,240.8 129.8,239.5 C129.1,238.2 127.9,237.2 126.2,236.6 C124.5,236.0 120.8,237.0 119.7,235.9 C118.6,234.7 119.6,230.6 119.6,229.6" fill="none" stroke="#0c1200" stroke-width="1.15" stroke-linejoin="round" stroke-linecap="round"/>
<path d="M502.9,375.7 C502.9,374.5 502.8,373.2 502.9,368.5 C503.0,363.9 503.4,353.6 503.6,347.7 C503.9,341.9 504.1,338.2 504.3,333.4 C504.6,328.6 504.7,323.8 505.1,319.1 C505.4,314.3 506.0,309.5 506.5,304.7 C507.0,299.9 507.4,295.1 507.9,290.4 C508.4,285.6 508.9,280.8 509.4,276.0 C509.8,271.2 510.1,266.5 510.8,261.7 C511.5,256.9 512.8,251.7 513.6,247.4 C514.5,243.1 515.4,238.8 515.8,235.9 C516.2,233.0 516.1,231.6 516.0,229.8 C515.9,228.0 516.5,228.2 515.4,224.8 C514.3,221.4 510.9,214.5 509.2,209.4 C507.6,204.3 506.4,199.1 505.4,194.0 C504.4,188.9 503.7,183.7 503.1,178.6 C502.4,173.5 501.9,168.3 501.5,163.2 C501.2,158.1 500.8,152.9 500.8,147.8 C500.8,142.7 500.9,137.0 501.5,132.4 C502.2,127.8 503.1,123.9 504.6,120.1 C506.2,116.2 506.9,112.9 510.8,109.3 C514.6,105.7 522.3,101.0 527.7,98.5 C533.1,96.0 537.5,95.0 543.1,94.2 C548.8,93.4 556.0,93.4 561.6,93.6 C567.2,93.8 570.6,94.1 577.0,95.1 C583.4,96.2 592.4,97.8 600.1,100.1 C607.8,102.3 615.5,105.2 623.2,108.5 C630.9,111.9 638.6,115.3 646.3,120.1 C654.0,124.8 663.0,131.6 669.4,137.0 C675.8,142.4 680.2,146.8 684.8,152.4 C689.4,158.1 693.5,165.0 697.1,170.9 C700.7,176.8 703.8,183.7 706.4,187.8 C708.9,192.0 710.5,192.2 712.5,195.6 C714.6,198.9 716.9,203.8 718.7,207.9 C720.5,212.0 721.8,216.1 723.3,220.2 C724.8,224.3 726.6,228.7 727.9,232.5 C729.2,236.4 730.0,240.5 731.0,243.3 C732.0,246.1 732.6,247.3 734.1,249.3 C735.6,251.3 737.7,254.0 740.2,255.5 C742.8,256.9 745.9,257.8 749.5,257.8 C753.1,257.8 756.6,256.6 761.8,255.5 C767.1,254.3 774.7,252.1 781.1,250.8 C787.5,249.6 797.1,248.3 800.3,247.8 L800.0,380.0 L502.9,375.7Z" fill="#dcfd2c"/><path d="M502.9,375.7 C502.9,374.5 502.8,373.2 502.9,368.5 C503.0,363.9 503.4,353.6 503.6,347.7 C503.9,341.9 504.1,338.2 504.3,333.4 C504.6,328.6 504.7,323.8 505.1,319.1 C505.4,314.3 506.0,309.5 506.5,304.7 C507.0,299.9 507.4,295.1 507.9,290.4 C508.4,285.6 508.9,280.8 509.4,276.0 C509.8,271.2 510.1,266.5 510.8,261.7 C511.5,256.9 512.8,251.7 513.6,247.4 C514.5,243.1 515.4,238.8 515.8,235.9 C516.2,233.0 516.1,231.6 516.0,229.8 C515.9,228.0 516.5,228.2 515.4,224.8 C514.3,221.4 510.9,214.5 509.2,209.4 C507.6,204.3 506.4,199.1 505.4,194.0 C504.4,188.9 503.7,183.7 503.1,178.6 C502.4,173.5 501.9,168.3 501.5,163.2 C501.2,158.1 500.8,152.9 500.8,147.8 C500.8,142.7 500.9,137.0 501.5,132.4 C502.2,127.8 503.1,123.9 504.6,120.1 C506.2,116.2 506.9,112.9 510.8,109.3 C514.6,105.7 522.3,101.0 527.7,98.5 C533.1,96.0 537.5,95.0 543.1,94.2 C548.8,93.4 556.0,93.4 561.6,93.6 C567.2,93.8 570.6,94.1 577.0,95.1 C583.4,96.2 592.4,97.8 600.1,100.1 C607.8,102.3 615.5,105.2 623.2,108.5 C630.9,111.9 638.6,115.3 646.3,120.1 C654.0,124.8 663.0,131.6 669.4,137.0 C675.8,142.4 680.2,146.8 684.8,152.4 C689.4,158.1 693.5,165.0 697.1,170.9 C700.7,176.8 703.8,183.7 706.4,187.8 C708.9,192.0 710.5,192.2 712.5,195.6 C714.6,198.9 716.9,203.8 718.7,207.9 C720.5,212.0 721.8,216.1 723.3,220.2 C724.8,224.3 726.6,228.7 727.9,232.5 C729.2,236.4 730.0,240.5 731.0,243.3 C732.0,246.1 732.6,247.3 734.1,249.3 C735.6,251.3 737.7,254.0 740.2,255.5 C742.8,256.9 745.9,257.8 749.5,257.8 C753.1,257.8 756.6,256.6 761.8,255.5 C767.1,254.3 774.7,252.1 781.1,250.8 C787.5,249.6 797.1,248.3 800.3,247.8" fill="none" stroke="#0c1200" stroke-width="1.15" stroke-linejoin="round" stroke-linecap="round"/>
<path d="M520.8,375.7 C520.8,374.5 520.9,373.2 520.8,368.5 C520.7,363.9 520.5,356.0 520.1,347.7 C519.7,339.5 519.0,328.6 518.7,319.1 C518.3,309.5 518.2,299.9 518.0,290.4 C517.7,280.8 517.4,270.8 517.2,261.7 C517.1,252.6 517.2,241.2 517.2,235.9 C517.2,230.6 517.2,231.6 517.2,229.8 C517.2,228.0 517.5,228.2 516.9,224.8 C516.4,221.4 514.8,215.8 513.9,209.4 C513.0,203.0 512.0,192.7 511.6,186.3 C511.1,179.9 511.0,175.8 511.1,170.9 C511.2,166.0 511.3,161.4 512.3,157.1 C513.3,152.7 514.4,149.1 516.9,144.7 C519.5,140.4 523.1,134.3 527.7,130.9 C532.3,127.4 539.0,125.2 544.7,123.9 C550.3,122.7 555.7,122.7 561.6,123.2 C567.5,123.7 573.7,125.0 580.1,127.0 C586.5,129.1 594.2,132.0 600.1,135.5 C606.0,139.0 610.9,143.2 615.5,147.8 C620.1,152.4 624.0,158.1 627.8,163.2 C631.7,168.3 635.3,173.7 638.6,178.6 C641.9,183.5 644.3,188.4 647.9,192.5 C651.4,196.6 657.1,199.7 660.2,203.2 C663.2,206.8 664.8,209.7 666.3,214.0 C667.9,218.4 667.6,224.8 669.4,229.4 C671.2,234.1 674.5,237.2 677.1,241.8 C679.7,246.3 682.5,252.1 684.8,257.0 C687.1,261.9 688.7,266.2 691.0,270.9 C693.3,275.5 695.8,280.4 698.7,284.7 C701.5,289.1 704.6,293.2 707.9,297.1 C711.2,300.9 714.8,304.5 718.7,307.8 C722.5,311.2 725.9,314.5 731.0,317.1 C736.1,319.6 743.9,322.3 749.5,323.2 C755.1,324.1 759.6,322.9 764.9,322.5 C770.2,322.0 775.2,321.1 781.1,320.5 C787.0,319.8 797.1,318.9 800.3,318.6 L800.0,380.0 L520.8,375.7Z" fill="#9cfd14"/><path d="M520.8,375.7 C520.8,374.5 520.9,373.2 520.8,368.5 C520.7,363.9 520.5,356.0 520.1,347.7 C519.7,339.5 519.0,328.6 518.7,319.1 C518.3,309.5 518.2,299.9 518.0,290.4 C517.7,280.8 517.4,270.8 517.2,261.7 C517.1,252.6 517.2,241.2 517.2,235.9 C517.2,230.6 517.2,231.6 517.2,229.8 C517.2,228.0 517.5,228.2 516.9,224.8 C516.4,221.4 514.8,215.8 513.9,209.4 C513.0,203.0 512.0,192.7 511.6,186.3 C511.1,179.9 511.0,175.8 511.1,170.9 C511.2,166.0 511.3,161.4 512.3,157.1 C513.3,152.7 514.4,149.1 516.9,144.7 C519.5,140.4 523.1,134.3 527.7,130.9 C532.3,127.4 539.0,125.2 544.7,123.9 C550.3,122.7 555.7,122.7 561.6,123.2 C567.5,123.7 573.7,125.0 580.1,127.0 C586.5,129.1 594.2,132.0 600.1,135.5 C606.0,139.0 610.9,143.2 615.5,147.8 C620.1,152.4 624.0,158.1 627.8,163.2 C631.7,168.3 635.3,173.7 638.6,178.6 C641.9,183.5 644.3,188.4 647.9,192.5 C651.4,196.6 657.1,199.7 660.2,203.2 C663.2,206.8 664.8,209.7 666.3,214.0 C667.9,218.4 667.6,224.8 669.4,229.4 C671.2,234.1 674.5,237.2 677.1,241.8 C679.7,246.3 682.5,252.1 684.8,257.0 C687.1,261.9 688.7,266.2 691.0,270.9 C693.3,275.5 695.8,280.4 698.7,284.7 C701.5,289.1 704.6,293.2 707.9,297.1 C711.2,300.9 714.8,304.5 718.7,307.8 C722.5,311.2 725.9,314.5 731.0,317.1 C736.1,319.6 743.9,322.3 749.5,323.2 C755.1,324.1 759.6,322.9 764.9,322.5 C770.2,322.0 775.2,321.1 781.1,320.5 C787.0,319.8 797.1,318.9 800.3,318.6" fill="none" stroke="#0c1200" stroke-width="1.15" stroke-linejoin="round" stroke-linecap="round"/>
<path d="M539.2,375.7 C539.1,374.5 539.4,374.4 538.7,368.5 C538.1,362.7 536.5,348.8 535.2,340.6 C533.8,332.3 532.5,327.4 530.9,319.1 C529.2,310.7 526.7,299.9 525.1,290.4 C523.6,280.8 522.5,270.8 521.5,261.7 C520.6,252.6 519.9,241.2 519.4,235.9 C518.9,230.6 518.5,231.6 518.4,229.8 C518.2,228.0 518.6,228.2 518.5,224.8 C518.4,221.4 517.6,215.8 517.7,209.4 C517.8,203.0 518.6,192.7 519.2,186.3 C519.9,179.9 520.9,175.0 521.6,170.9 C522.2,166.8 522.1,164.4 523.1,161.7 C524.1,159.0 524.1,157.3 527.7,154.7 C531.3,152.2 539.0,147.9 544.7,146.6 C550.3,145.2 556.2,145.5 561.6,146.6 C567.0,147.7 572.4,150.4 577.0,153.2 C581.6,156.0 586.0,159.5 589.3,163.2 C592.7,166.9 595.0,171.7 597.0,175.5 C599.1,179.4 600.1,182.2 601.6,186.3 C603.2,190.4 606.0,196.3 606.3,200.2 C606.5,204.0 605.0,206.8 603.2,209.4 C601.4,212.0 597.2,213.5 595.5,215.6 C593.8,217.6 593.7,219.9 593.2,221.7 C592.7,223.5 592.0,223.6 592.4,226.3 C592.8,229.1 593.4,235.7 595.5,238.5 C597.5,241.3 602.7,241.3 604.7,243.1 C606.8,244.9 606.5,247.2 607.8,249.3 C609.1,251.4 610.4,253.9 612.4,255.5 C614.5,257.0 617.3,256.5 620.1,258.5 C623.0,260.6 626.3,264.5 629.4,267.8 C632.5,271.1 635.5,274.7 638.6,278.6 C641.7,282.4 644.8,285.5 647.9,290.9 C650.9,296.3 654.0,304.2 657.1,310.9 C660.2,317.6 663.5,324.5 666.3,330.9 C669.2,337.3 672.0,343.2 674.0,349.4 C676.1,355.6 677.8,363.3 678.6,368.2 C679.5,373.1 679.3,376.9 679.4,378.7 L539.2,375.7Z" fill="#7cfd0a"/><path d="M539.2,375.7 C539.1,374.5 539.4,374.4 538.7,368.5 C538.1,362.7 536.5,348.8 535.2,340.6 C533.8,332.3 532.5,327.4 530.9,319.1 C529.2,310.7 526.7,299.9 525.1,290.4 C523.6,280.8 522.5,270.8 521.5,261.7 C520.6,252.6 519.9,241.2 519.4,235.9 C518.9,230.6 518.5,231.6 518.4,229.8 C518.2,228.0 518.6,228.2 518.5,224.8 C518.4,221.4 517.6,215.8 517.7,209.4 C517.8,203.0 518.6,192.7 519.2,186.3 C519.9,179.9 520.9,175.0 521.6,170.9 C522.2,166.8 522.1,164.4 523.1,161.7 C524.1,159.0 524.1,157.3 527.7,154.7 C531.3,152.2 539.0,147.9 544.7,146.6 C550.3,145.2 556.2,145.5 561.6,146.6 C567.0,147.7 572.4,150.4 577.0,153.2 C581.6,156.0 586.0,159.5 589.3,163.2 C592.7,166.9 595.0,171.7 597.0,175.5 C599.1,179.4 600.1,182.2 601.6,186.3 C603.2,190.4 606.0,196.3 606.3,200.2 C606.5,204.0 605.0,206.8 603.2,209.4 C601.4,212.0 597.2,213.5 595.5,215.6 C593.8,217.6 593.7,219.9 593.2,221.7 C592.7,223.5 592.0,223.6 592.4,226.3 C592.8,229.1 593.4,235.7 595.5,238.5 C597.5,241.3 602.7,241.3 604.7,243.1 C606.8,244.9 606.5,247.2 607.8,249.3 C609.1,251.4 610.4,253.9 612.4,255.5 C614.5,257.0 617.3,256.5 620.1,258.5 C623.0,260.6 626.3,264.5 629.4,267.8 C632.5,271.1 635.5,274.7 638.6,278.6 C641.7,282.4 644.8,285.5 647.9,290.9 C650.9,296.3 654.0,304.2 657.1,310.9 C660.2,317.6 663.5,324.5 666.3,330.9 C669.2,337.3 672.0,343.2 674.0,349.4 C676.1,355.6 677.8,363.3 678.6,368.2 C679.5,373.1 679.3,376.9 679.4,378.7" fill="none" stroke="#0c1200" stroke-width="1.15" stroke-linejoin="round" stroke-linecap="round"/>
<path d="M571.6,378.7 C571.5,376.9 571.5,372.6 570.8,368.2 C570.2,363.8 569.3,357.2 567.8,352.5 C566.2,347.8 563.9,344.5 561.6,340.2 C559.3,335.8 556.7,331.2 553.9,326.3 C551.1,321.4 547.5,316.8 544.7,310.9 C541.8,305.0 539.3,297.3 537.0,290.9 C534.7,284.5 532.6,278.6 530.8,272.4 C529.0,266.2 527.5,259.6 526.2,253.9 C524.9,248.3 524.2,242.5 523.1,238.5 C522.0,234.5 520.0,232.1 519.6,229.8 C519.2,227.5 520.5,228.2 520.8,224.8 C521.1,221.4 521.2,214.5 521.6,209.4 C521.9,204.3 522.5,199.1 523.1,194.0 C523.7,188.9 524.4,182.2 525.4,178.6 C526.4,175.0 525.8,174.9 529.3,172.4 C532.7,170.0 540.8,164.9 546.2,164.0 C551.6,163.1 557.0,164.9 561.6,167.1 C566.2,169.2 570.8,173.9 573.9,177.1 C577.0,180.3 578.0,182.7 580.1,186.3 C582.1,189.9 584.7,194.8 586.2,198.6 C587.8,202.5 588.8,205.6 589.3,209.4 C589.8,213.3 589.6,218.6 589.3,221.7 C589.1,224.8 587.9,226.4 587.8,227.9 C587.7,229.4 588.0,228.8 588.6,230.8 C589.1,232.8 590.0,237.5 590.9,240.1 C591.8,242.6 592.7,243.4 594.0,246.2 C595.2,249.0 597.0,252.6 598.6,257.0 C600.1,261.4 601.7,266.8 603.2,272.4 C604.7,278.1 606.4,284.5 607.8,290.9 C609.2,297.3 610.5,304.2 611.7,310.9 C612.8,317.6 613.8,324.5 614.7,330.9 C615.6,337.3 616.4,343.2 617.0,349.4 C617.7,355.6 618.3,363.3 618.6,368.2 C618.9,373.1 618.8,376.9 618.9,378.7 L571.6,378.7Z" fill="#6afd08"/><path d="M571.6,378.7 C571.5,376.9 571.5,372.6 570.8,368.2 C570.2,363.8 569.3,357.2 567.8,352.5 C566.2,347.8 563.9,344.5 561.6,340.2 C559.3,335.8 556.7,331.2 553.9,326.3 C551.1,321.4 547.5,316.8 544.7,310.9 C541.8,305.0 539.3,297.3 537.0,290.9 C534.7,284.5 532.6,278.6 530.8,272.4 C529.0,266.2 527.5,259.6 526.2,253.9 C524.9,248.3 524.2,242.5 523.1,238.5 C522.0,234.5 520.0,232.1 519.6,229.8 C519.2,227.5 520.5,228.2 520.8,224.8 C521.1,221.4 521.2,214.5 521.6,209.4 C521.9,204.3 522.5,199.1 523.1,194.0 C523.7,188.9 524.4,182.2 525.4,178.6 C526.4,175.0 525.8,174.9 529.3,172.4 C532.7,170.0 540.8,164.9 546.2,164.0 C551.6,163.1 557.0,164.9 561.6,167.1 C566.2,169.2 570.8,173.9 573.9,177.1 C577.0,180.3 578.0,182.7 580.1,186.3 C582.1,189.9 584.7,194.8 586.2,198.6 C587.8,202.5 588.8,205.6 589.3,209.4 C589.8,213.3 589.6,218.6 589.3,221.7 C589.1,224.8 587.9,226.4 587.8,227.9 C587.7,229.4 588.0,228.8 588.6,230.8 C589.1,232.8 590.0,237.5 590.9,240.1 C591.8,242.6 592.7,243.4 594.0,246.2 C595.2,249.0 597.0,252.6 598.6,257.0 C600.1,261.4 601.7,266.8 603.2,272.4 C604.7,278.1 606.4,284.5 607.8,290.9 C609.2,297.3 610.5,304.2 611.7,310.9 C612.8,317.6 613.8,324.5 614.7,330.9 C615.6,337.3 616.4,343.2 617.0,349.4 C617.7,355.6 618.3,363.3 618.6,368.2 C618.9,373.1 618.8,376.9 618.9,378.7" fill="none" stroke="#0c1200" stroke-width="1.15" stroke-linejoin="round" stroke-linecap="round"/>
<path d="M522.5,230.4 L523.1,224.8 L524.6,209.4 L527.7,194.0 L533.9,186.3 L544.7,177.4 L553.9,181.7 L564.7,189.4 L572.4,200.2 L578.5,210.9 L581.6,220.2 L583.9,227.9 L586.2,238.5 L588.6,249.3 L589.3,264.7 L588.6,280.1 L585.5,290.9 L578.5,301.7 L561.6,304.0 L552.4,297.1 L544.7,287.8 L538.5,275.5 L532.3,260.1 L527.7,247.8 L524.6,238.5Z" fill="#68fd3a" stroke="#0c1200" stroke-width="1.15" stroke-linejoin="round"/>
<path d="M524.6,230.4 L524.6,224.8 L527.7,212.5 L533.9,201.7 L544.7,191.7 L553.9,197.1 L564.7,203.2 L572.4,212.5 L577.0,221.7 L580.1,228.7 L580.9,244.7 L580.1,260.1 L577.0,272.4 L569.3,280.1 L561.6,284.7 L552.4,280.1 L546.2,275.5 L541.6,266.2 L537.0,253.9 L532.3,241.6Z" fill="#6efd6e" stroke="#0c1200" stroke-width="1.15" stroke-linejoin="round"/>
<path d="M527.1,230.4 L527.0,224.8 L530.8,214.0 L537.0,206.3 L544.7,200.5 L553.9,204.8 L561.6,209.4 L567.8,217.1 L572.4,224.8 L577.0,231.0 L573.1,238.5 L573.1,246.2 L572.4,252.4 L567.8,261.6 L561.6,268.6 L553.9,265.5 L546.2,263.2 L541.6,253.9 L537.0,244.7 L530.8,235.4Z" fill="#78fdc6" stroke="#0c1200" stroke-width="1.15" stroke-linejoin="round"/>
<path d="M529.6,230.4 L529.3,224.8 L533.1,217.1 L538.5,210.9 L544.7,207.1 L552.4,210.9 L560.1,217.1 L564.7,224.8 L567.8,232.5 L567.8,241.6 L566.2,249.3 L563.1,256.2 L553.9,256.5 L544.7,255.5 L540.0,247.8 L535.4,238.5Z" fill="#66fdd8" stroke="#0c1200" stroke-width="1.15" stroke-linejoin="round"/>
<path d="M531.6,224.8 L535.4,218.7 L544.7,213.3 L552.4,217.1 L558.5,224.8 L561.6,234.1 L562.4,238.5 L562.8,243.9 L553.9,245.4 L547.7,246.2 L543.1,241.6 L538.5,237.0 L533.9,232.4Z" fill="#5efdee" stroke="#0c1200" stroke-width="1.15" stroke-linejoin="round"/>
<path d="M537.0,229.4 L538.5,223.3 L544.7,218.7 L552.4,223.3 L555.4,231.0 L552.4,238.7 L546.2,240.2 L540.0,237.1Z" fill="#3c8efd" stroke="#0c1200" stroke-width="1.15" stroke-linejoin="round"/>
<path d="M539.3,229.4 L541.6,224.0 L545.4,221.0 L550.0,224.8 L551.6,231.0 L549.3,236.4 L544.7,237.1 L540.8,234.1Z" fill="#2250fd" stroke="#0c1200" stroke-width="1.15" stroke-linejoin="round"/>
<path d="M543.1,229.4 L545.4,224.8 L547.7,229.4 L545.4,234.8Z" fill="#1c38fd" stroke="#0c1200" stroke-width="1.15" stroke-linejoin="round"/>
<path d="M792.6,113.9 C790.7,114.7 784.2,116.7 781.1,118.5 C778.0,120.3 776.6,122.7 774.1,124.7 C771.7,126.8 768.4,128.0 766.4,130.9 C764.5,133.7 763.6,137.5 762.6,141.7 C761.6,145.8 760.7,150.6 760.3,155.5 C759.9,160.4 760.0,165.8 760.3,170.9 C760.5,176.0 761.3,181.2 761.8,186.3 C762.3,191.4 762.6,197.3 763.4,201.7 C764.1,206.1 764.9,209.2 766.4,212.5 C768.0,215.8 770.2,219.3 772.6,221.7 C775.0,224.2 777.7,225.8 781.1,227.1 C784.4,228.4 790.7,229.0 792.6,229.4Z" fill="#fd6c1a"/><path d="M792.6,113.9 C790.7,114.7 784.2,116.7 781.1,118.5 C778.0,120.3 776.6,122.7 774.1,124.7 C771.7,126.8 768.4,128.0 766.4,130.9 C764.5,133.7 763.6,137.5 762.6,141.7 C761.6,145.8 760.7,150.6 760.3,155.5 C759.9,160.4 760.0,165.8 760.3,170.9 C760.5,176.0 761.3,181.2 761.8,186.3 C762.3,191.4 762.6,197.3 763.4,201.7 C764.1,206.1 764.9,209.2 766.4,212.5 C768.0,215.8 770.2,219.3 772.6,221.7 C775.0,224.2 777.7,225.8 781.1,227.1 C784.4,228.4 790.7,229.0 792.6,229.4" fill="none" stroke="#0c1200" stroke-width="1.15" stroke-linejoin="round" stroke-linecap="round"/>
<path d="M577.0,229.6 L630.9,229.6 L630.9,235.0 L577.0,235.0Z" fill="#68fd3a" stroke="#0c1200" stroke-width="1.15" stroke-linejoin="round"/>
<path d="M627.8,224.7 L630.9,220.8 L643.2,226.2 L645.5,233.9 L648.6,237.0 L644.8,239.3 L630.9,238.5 L627.8,235.4Z" fill="#7cfd0a" stroke="#0c1200" stroke-width="1.15" stroke-linejoin="round"/>
<path d="M614.7,230.2 L630.9,230.2 L630.9,234.2 L614.7,234.2Z" fill="#68fd3a" stroke="#0c1200" stroke-width="1.15" stroke-linejoin="round"/>
<path d="M608.6,226.2 L612.4,223.9 L614.7,227.0 L614.7,237.8 L613.2,239.8 L609.6,238.2Z" fill="#dcfd2c" stroke="#0c1200" stroke-width="1.15" stroke-linejoin="round"/>
</g>
<rect x="594.0" y="226.2" width="20.8" height="11.6" fill="#000"/>
<rect x="597.3" y="229.6" width="14.8" height="5.1" fill="#fff"/>
<rect x="1.7" y="47" width="780.8" height="323" fill="none" stroke="#000" stroke-width="3.4"/>
</g>
<g id="panel-b">
<defs><clipPath id="clipB"><rect x="954.0" y="108.8" width="786.4" height="222.6"/></clipPath></defs>
<g clip-path="url(#clipB)">
<rect x="949.0" y="103.8" width="796.4" height="232.6" fill="#9cfd14"/>
<path d="M1445.9,102.8 L1445.9,109.0 L1444.5,127.2 L1442.6,141.6 L1442.1,156.0 L1443.5,170.4 L1444.5,186.7 L1448.8,197.3 L1452.6,205.0 L1455.5,214.6 L1457.0,229.0 L1456.5,243.4 L1456.0,262.6 L1456.0,281.8 L1457.0,296.2 L1458.4,315.4 L1459.4,331.5 L1459.4,337.4 L1760.0,337.4 L1748.2,326.7 L1740.7,318.4 L1725.0,300.2 L1701.8,293.6 L1699.6,290.0 L1690.0,273.3 L1686.2,261.8 L1671.8,251.2 L1660.2,244.5 L1657.4,239.7 L1657.4,214.7 L1649.6,214.0 L1652.1,200.8 L1658.7,185.9 L1678.6,172.6 L1686.9,156.1 L1689.4,141.1 L1686.9,124.6 L1680.2,109.3 L1680.3,102.8Z" fill="#7cfd0a" stroke="#0c1200" stroke-width="1.15" stroke-linejoin="round"/>
<path d="M1462.2,102.8 L1462.2,109.0 L1458.4,127.2 L1453.6,146.4 L1450.7,165.6 L1450.7,177.1 L1451.7,187.7 L1455.5,199.2 L1458.4,205.0 L1461.3,214.6 L1463.2,229.0 L1463.7,243.4 L1464.2,262.6 L1464.7,277.0 L1465.6,291.4 L1468.0,301.0 L1470.9,315.4 L1473.8,331.5 L1473.8,337.4 L1676.6,336.7 L1676.1,330.9 L1668.7,303.5 L1659.3,290.0 L1654.5,275.2 L1651.6,260.8 L1644.9,246.4 L1642.0,239.7 L1657.4,237.8 L1657.4,215.7 L1646.8,214.7 L1635.3,213.8 L1636.2,198.4 L1638.2,184.0 L1640.1,169.6 L1640.6,160.0 L1638.8,141.1 L1630.5,127.9 L1622.3,109.3 L1622.3,102.8Z" fill="#6afd08" stroke="#0c1200" stroke-width="1.15" stroke-linejoin="round"/>
<path d="M1488.7,102.8 L1488.7,109.0 L1473.8,126.2 L1468.0,139.7 L1462.2,156.0 L1459.4,170.4 L1458.4,184.8 L1461.3,199.2 L1464.2,205.0 L1467.0,214.6 L1469.5,229.0 L1471.8,243.4 L1474.2,257.8 L1475.7,272.2 L1476.7,286.6 L1480.5,296.2 L1484.3,305.8 L1488.2,318.3 L1493.0,331.5 L1493.0,337.4 L1639.8,336.7 L1639.7,330.9 L1638.8,306.8 L1637.2,290.0 L1635.3,275.2 L1632.4,260.8 L1629.5,246.4 L1628.6,239.7 L1642.0,236.8 L1657.4,234.9 L1657.4,218.6 L1637.2,215.7 L1622.8,214.2 L1620.9,203.2 L1617.0,188.8 L1612.2,171.5 L1608.4,160.0 L1600.7,141.1 L1582.5,124.6 L1574.2,109.3 L1574.2,102.8Z" fill="#6afd12" stroke="#0c1200" stroke-width="1.15" stroke-linejoin="round"/>
<path d="M1513.6,335.6 L1512.2,331.5 L1507.4,320.2 L1502.6,310.6 L1498.7,300.1 L1494.9,293.3 L1491.0,284.7 L1488.2,272.2 L1487.2,258.8 L1485.3,245.3 L1482.4,236.7 L1478.6,229.0 L1476.7,224.2 L1473.8,214.6 L1469.9,205.0 L1468.0,204.0 L1466.1,194.4 L1466.1,184.8 L1469.0,167.5 L1473.8,153.1 L1491.0,138.7 L1510.2,125.3 L1519.8,114.2 L1535.2,125.3 L1544.8,130.1 L1564.0,138.7 L1568.8,143.5 L1575.5,154.1 L1583.2,165.6 L1589.1,174.4 L1596.9,185.9 L1602.5,198.5 L1606.5,207.9 L1608.3,213.7 L1622.8,215.7 L1657.4,221.0 L1657.4,232.4 L1637.2,234.9 L1623.8,236.7 L1615.1,239.2 L1613.2,244.5 L1612.3,257.1 L1614.0,273.7 L1612.3,290.3 L1609.0,306.8 L1605.7,320.1 L1603.2,330.9 L1602.4,336.7Z" fill="#68fd3a" stroke="#0c1200" stroke-width="1.15" stroke-linejoin="round"/>
<path d="M1519.8,138.7 L1498.7,153.1 L1481.5,173.3 L1473.8,182.9 L1472.3,194.4 L1472.8,204.0 L1474.7,212.7 L1477.6,219.4 L1481.5,224.2 L1486.2,231.9 L1489.1,238.6 L1493.9,249.2 L1496.8,258.8 L1497.8,272.2 L1501.6,281.8 L1505.5,292.4 L1514.1,300.1 L1519.8,311.6 L1565.0,327.9 L1577.5,309.6 L1592.8,292.4 L1596.7,274.1 L1597.6,253.0 L1598.2,246.3 L1598.7,239.7 L1606.5,235.8 L1610.3,230.1 L1606.5,223.3 L1598.7,218.5 L1593.9,215.2 L1589.6,214.2 L1587.8,206.1 L1584.3,196.5 L1578.7,185.9 L1569.9,178.2 L1564.0,171.4 L1549.6,157.9 L1540.0,151.2Z" fill="#6efd6e" stroke="#0c1200" stroke-width="1.15" stroke-linejoin="round"/>
<path d="M1519.8,157.9 L1506.4,167.5 L1490.1,186.7 L1483.4,198.2 L1481.5,212.7 L1482.4,213.6 L1483.4,217.5 L1487.2,229.0 L1491.0,237.6 L1495.8,241.5 L1499.7,251.1 L1504.5,258.8 L1508.3,267.4 L1510.2,276.1 L1516.0,286.6 L1519.8,292.4 L1544.8,293.8 L1565.0,295.2 L1569.8,289.5 L1577.5,272.2 L1582.3,262.6 L1584.2,248.2 L1582.3,231.9 L1577.5,219.4 L1571.7,213.6 L1570.7,204.0 L1566.9,194.4 L1554.4,182.9 L1535.2,168.5Z" fill="#78fdc6" stroke="#0c1200" stroke-width="1.15" stroke-linejoin="round"/>
<path d="M1519.8,176.2 L1506.4,187.7 L1493.9,201.1 L1490.6,212.7 L1491.5,214.6 L1494.9,229.0 L1498.7,236.7 L1503.5,239.6 L1506.4,246.3 L1512.2,254.9 L1516.0,260.7 L1519.8,266.0 L1544.8,264.5 L1565.9,263.1 L1568.8,253.0 L1568.8,245.3 L1566.9,238.6 L1562.1,236.7 L1560.2,229.0 L1559.2,222.3 L1560.7,217.5 L1557.3,208.8 L1553.5,201.1 L1544.8,194.4 L1530.4,184.8Z" fill="#5efdee" stroke="#0c1200" stroke-width="1.15" stroke-linejoin="round"/>
<path d="M1519.8,190.6 L1506.4,200.2 L1498.7,213.6 L1499.7,214.6 L1501.6,227.1 L1506.4,235.7 L1512.2,240.5 L1519.8,250.6 L1532.3,247.2 L1539.0,242.4 L1545.8,237.6 L1547.7,229.0 L1549.1,217.5 L1543.9,207.8 L1535.2,200.2Z" fill="#3c8efd" stroke="#0c1200" stroke-width="1.15" stroke-linejoin="round"/>
<path d="M1519.8,199.2 L1512.2,206.9 L1506.4,214.6 L1507.4,214.6 L1508.3,226.1 L1512.2,233.8 L1519.8,238.6 L1530.4,237.2 L1535.2,231.9 L1537.6,224.2 L1538.1,215.6 L1530.4,207.8Z" fill="#2250fd" stroke="#0c1200" stroke-width="1.15" stroke-linejoin="round"/>
<path d="M1519.8,208.4 L1514.6,214.6 L1515.5,230.0 L1519.8,235.7 L1525.1,230.9 L1527.0,215.6Z" fill="#1c38fd" stroke="#0c1200" stroke-width="1.15" stroke-linejoin="round"/>
<path d="M940.0,102.8 L1429.6,102.8 L1429.6,109.0 L1430.6,146.4 L1433.4,165.6 L1436.8,182.9 L1437.8,187.7 L1444.0,200.2 L1447.8,205.0 L1450.7,214.6 L1451.2,229.0 L1449.8,243.4 L1447.8,253.0 L1446.9,262.6 L1446.4,281.8 L1445.9,301.0 L1445.4,331.5 L1445.4,337.4 L940.0,337.4Z" fill="#dcfd2c" stroke="#0c1200" stroke-width="1.15" stroke-linejoin="round"/>
<path d="M940.0,102.8 L1407.7,102.8 L1407.7,109.3 L1409.3,124.6 L1411.8,141.1 L1416.8,152.7 L1421.7,164.3 L1426.7,174.3 L1430.0,187.5 L1438.3,200.8 L1442.1,205.0 L1445.9,214.6 L1446.9,229.0 L1445.0,236.7 L1441.1,248.2 L1438.2,255.9 L1436.8,264.5 L1437.3,272.2 L1435.8,281.8 L1434.4,291.4 L1432.0,310.6 L1431.0,325.0 L1430.6,331.5 L1430.6,337.4 L940.0,337.4Z" fill="#f1cb1f" stroke="#0c1200" stroke-width="1.15" stroke-linejoin="round"/>
<path d="M940.0,102.8 L1384.5,102.8 L1384.5,109.3 L1386.9,121.3 L1390.2,132.8 L1395.2,146.1 L1401.8,157.7 L1408.5,169.3 L1415.1,180.9 L1420.1,187.5 L1428.4,194.2 L1435.0,204.1 L1440.0,215.7 L1440.8,230.6 L1436.7,240.6 L1431.7,250.5 L1428.4,260.4 L1430.0,270.4 L1428.4,282.0 L1423.4,290.3 L1418.4,300.2 L1415.9,311.8 L1413.5,323.4 L1411.8,330.9 L1411.8,337.4 L940.0,337.4Z" fill="#fd6c1a" stroke="#0c1200" stroke-width="1.15" stroke-linejoin="round"/>
<path d="M940.0,102.8 L1339.7,102.8 L1339.7,109.3 L1343.9,117.9 L1347.2,124.6 L1358.8,134.5 L1368.7,142.8 L1380.3,151.1 L1386.9,161.0 L1395.2,172.6 L1403.5,184.2 L1411.8,190.0 L1423.4,196.7 L1430.0,204.1 L1435.0,215.7 L1435.8,230.6 L1431.7,238.9 L1425.0,248.8 L1415.1,254.6 L1412.6,263.8 L1413.5,273.7 L1411.0,283.6 L1406.8,291.9 L1400.2,300.2 L1396.9,311.8 L1393.6,323.4 L1391.9,330.9 L1391.9,337.4 L940.0,337.4Z" fill="#fd2a16" stroke="#0c1200" stroke-width="1.15" stroke-linejoin="round"/>
<path d="M940.0,102.8 L1255.2,102.8 L1255.2,109.3 L1264.3,116.3 L1274.3,124.6 L1290.8,132.0 L1307.4,139.5 L1324.0,146.1 L1333.9,150.2 L1343.9,156.9 L1357.1,164.3 L1370.4,171.0 L1382.0,174.3 L1388.6,182.6 L1396.9,190.8 L1406.8,201.6 L1416.8,204.9 L1427.5,208.2 L1430.8,215.7 L1431.2,231.4 L1427.5,238.1 L1408.5,239.7 L1400.2,248.8 L1396.9,257.1 L1396.0,265.4 L1394.4,277.0 L1391.1,286.9 L1386.9,295.2 L1380.3,303.5 L1372.0,315.1 L1365.4,323.4 L1359.6,330.9 L1359.6,337.4 L940.0,337.4Z" fill="#fd0f18" stroke="#0c1200" stroke-width="1.15" stroke-linejoin="round"/>
<path d="M1705.9,215.2 L1721.2,215.2 L1740.4,214.2 L1742.8,214.2 L1742.8,239.2 L1740.4,239.2 L1727.5,238.2 L1705.9,236.8Z" fill="#7cfd0a" stroke="#0c1200" stroke-width="1.15" stroke-linejoin="round"/>
<path d="M1705.9,219.5 L1715.9,220.5 L1740.4,220.5 L1742.8,220.5 L1742.8,231.5 L1740.4,231.5 L1717.9,232.5 L1705.9,233.4Z" fill="#6afd08" stroke="#0c1200" stroke-width="1.15" stroke-linejoin="round"/>
<path d="M1688.1,214.2 L1704.4,203.2 L1709.7,214.2Z" fill="#dcfd2c" stroke="#0c1200" stroke-width="1.15" stroke-linejoin="round"/>
<path d="M1692.9,239.7 L1715.9,239.2 L1705.4,248.8Z" fill="#dcfd2c" stroke="#0c1200" stroke-width="1.15" stroke-linejoin="round"/>
</g>
<line x1="1739.9" x2="1739.9" y1="108.8" y2="331.4" stroke="#1a1a00" stroke-width="1"/>
<rect x="1657.4" y="214.7" width="48.5" height="24.5" fill="#000"/>
<rect x="1659.8" y="217.4" width="43.7" height="19.4" fill="#fff"/>
</g>
<g id="panel-c">
<defs><clipPath id="clipC"><rect x="6.0" y="534.4" width="759.2" height="311.8"/></clipPath></defs>
<g clip-path="url(#clipC)">
<rect x="0" y="525" width="775" height="330" fill="#fd0f18"/>
<path d="M-5.8,747.0 C-4.6,746.4 4.0,742.8 6.2,741.2 C8.4,739.6 14.1,731.8 16.3,730.6 C18.6,729.5 24.7,729.8 28.8,729.7 C32.9,729.6 51.8,729.5 57.6,729.5 C63.4,729.5 81.8,730.0 86.4,729.7 C91.0,729.4 101.8,727.9 103.7,726.8 C105.6,725.8 104.2,720.4 105.1,719.1 C106.1,717.9 112.2,715.4 113.3,714.3 C114.4,713.3 115.9,709.1 116.2,708.6 L118.0,702.4 L-10.0,702.4 L-5.8,747.0Z" fill="#fd2a16"/><path d="M-5.8,747.0 C-4.6,746.4 4.0,742.8 6.2,741.2 C8.4,739.6 14.1,731.8 16.3,730.6 C18.6,729.5 24.7,729.8 28.8,729.7 C32.9,729.6 51.8,729.5 57.6,729.5 C63.4,729.5 81.8,730.0 86.4,729.7 C91.0,729.4 101.8,727.9 103.7,726.8 C105.6,725.8 104.2,720.4 105.1,719.1 C106.1,717.9 112.2,715.4 113.3,714.3 C114.4,713.3 115.9,709.1 116.2,708.6" fill="none" stroke="#0c1200" stroke-width="1.15" stroke-linejoin="round" stroke-linecap="round"/>
<rect x="0" y="525" width="775" height="181.39999999999998" fill="#fd2a16"/>
<path d="M596.3,700.6 L597.8,716.7 L601.7,716.7 L628.6,716.7 L659.4,714.4 L690.2,712.1 L721.0,709.8 L734.9,708.3 L739.5,703.6 L739.5,700.6Z" fill="#fd2a16" stroke="#0c1200" stroke-width="0" stroke-linejoin="round"/>
<path d="M601.7,716.7 C604.4,716.7 622.8,717.0 628.6,716.7 C634.4,716.5 653.2,714.9 659.4,714.4 C665.6,714.0 684.1,712.6 690.2,712.1 C696.4,711.7 716.5,710.2 721.0,709.8 C725.5,709.4 733.0,708.9 734.9,708.3 C736.7,707.7 739.2,704.9 739.5,703.6 C739.8,702.4 738.0,697.0 738.0,696.0 C738.0,694.9 738.4,693.8 739.5,692.9 C740.6,691.9 747.2,688.1 748.7,686.7 C750.3,685.3 753.8,680.5 754.9,679.0 C756.0,677.5 758.8,672.8 759.5,671.3 C760.3,669.8 762.1,665.0 762.6,663.6 C763.1,662.2 764.0,659.6 764.9,657.5 C765.8,655.3 771.1,643.6 771.8,642.0 L782.6,642.0 L782.6,740.6 L601.7,740.6Z" fill="#fd0f18"/><path d="M601.7,716.7 C604.4,716.7 622.8,717.0 628.6,716.7 C634.4,716.5 653.2,714.9 659.4,714.4 C665.6,714.0 684.1,712.6 690.2,712.1 C696.4,711.7 716.5,710.2 721.0,709.8 C725.5,709.4 733.0,708.9 734.9,708.3 C736.7,707.7 739.2,704.9 739.5,703.6 C739.8,702.4 738.0,697.0 738.0,696.0 C738.0,694.9 738.4,693.8 739.5,692.9 C740.6,691.9 747.2,688.1 748.7,686.7 C750.3,685.3 753.8,680.5 754.9,679.0 C756.0,677.5 758.8,672.8 759.5,671.3 C760.3,669.8 762.1,665.0 762.6,663.6 C763.1,662.2 764.0,659.6 764.9,657.5 C765.8,655.3 771.1,643.6 771.8,642.0" fill="none" stroke="#0c1200" stroke-width="1.15" stroke-linejoin="round" stroke-linecap="round"/>
<path d="M504.6,707.5 L505.4,709.0 L510.0,712.9 L514.6,717.5 L514.6,723.7 L517.7,727.5 L528.5,729.8 L551.6,730.6 L573.2,729.1 L584.7,726.8 L586.3,722.1 L585.5,718.7 L585.5,709.8 L520.8,708.3Z" fill="#fd2a16" stroke="#0c1200" stroke-width="1.15" stroke-linejoin="round"/>
<path d="M-5.8,655.8 C-4.4,656.8 4.4,662.4 6.2,664.4 C8.0,666.4 8.6,670.9 9.6,673.0 C10.6,675.2 12.9,680.4 14.4,682.6 C15.9,684.9 21.1,690.0 22.1,692.2 C23.1,694.5 22.5,699.9 23.0,701.9 C23.6,703.8 25.1,707.5 26.9,708.6 C28.7,709.7 34.8,710.8 38.4,711.5 C42.0,712.1 53.1,713.3 57.6,713.9 C62.1,714.4 73.5,715.5 76.8,715.8 C80.2,716.0 83.6,716.4 86.4,716.2 C89.2,716.1 98.2,715.0 100.8,714.3 C103.4,713.7 106.8,711.3 108.5,710.5 C110.2,709.7 114.4,707.9 115.2,707.6 L118.0,706.4 L512.0,706.4 L508.5,707.5 C509.0,707.8 511.7,709.0 513.1,709.8 C514.5,710.6 518.1,713.7 520.8,714.4 C523.5,715.1 532.6,716.0 536.2,716.0 C539.8,716.0 548.0,714.9 551.6,714.4 C555.2,714.0 563.5,712.6 567.0,712.1 C570.5,711.7 579.9,710.8 581.6,710.6 L597.0,709.0 C597.0,708.2 596.4,704.0 596.3,702.1 C596.2,700.2 595.6,695.4 596.3,692.9 C597.0,690.4 600.5,683.8 602.4,680.5 C604.4,677.3 610.5,668.9 613.2,665.1 C615.9,661.4 622.8,652.0 625.5,648.2 C628.2,644.4 633.8,636.6 636.3,632.8 C638.8,629.0 644.4,620.4 647.1,615.9 C649.8,611.4 656.5,599.5 659.4,594.3 C662.3,589.1 669.0,576.4 671.7,571.2 C674.4,566.0 680.3,554.0 682.5,549.6 C684.8,545.3 690.0,537.1 691.0,534.2 C692.0,531.4 691.0,526.1 691.0,525.0 L-10.0,525.0 L-5.8,655.8Z" fill="#fd6c1a"/><path d="M-5.8,655.8 C-4.4,656.8 4.4,662.4 6.2,664.4 C8.0,666.4 8.6,670.9 9.6,673.0 C10.6,675.2 12.9,680.4 14.4,682.6 C15.9,684.9 21.1,690.0 22.1,692.2 C23.1,694.5 22.5,699.9 23.0,701.9 C23.6,703.8 25.1,707.5 26.9,708.6 C28.7,709.7 34.8,710.8 38.4,711.5 C42.0,712.1 53.1,713.3 57.6,713.9 C62.1,714.4 73.5,715.5 76.8,715.8 C80.2,716.0 83.6,716.4 86.4,716.2 C89.2,716.1 98.2,715.0 100.8,714.3 C103.4,713.7 106.8,711.3 108.5,710.5 C110.2,709.7 114.4,707.9 115.2,707.6 M508.5,707.5 C509.0,707.8 511.7,709.0 513.1,709.8 C514.5,710.6 518.1,713.7 520.8,714.4 C523.5,715.1 532.6,716.0 536.2,716.0 C539.8,716.0 548.0,714.9 551.6,714.4 C555.2,714.0 563.5,712.6 567.0,712.1 C570.5,711.7 579.9,710.8 581.6,710.6 M597.0,709.0 C597.0,708.2 596.4,704.0 596.3,702.1 C596.2,700.2 595.6,695.4 596.3,692.9 C597.0,690.4 600.5,683.8 602.4,680.5 C604.4,677.3 610.5,668.9 613.2,665.1 C615.9,661.4 622.8,652.0 625.5,648.2 C628.2,644.4 633.8,636.6 636.3,632.8 C638.8,629.0 644.4,620.4 647.1,615.9 C649.8,611.4 656.5,599.5 659.4,594.3 C662.3,589.1 669.0,576.4 671.7,571.2 C674.4,566.0 680.3,554.0 682.5,549.6 C684.8,545.3 690.0,537.1 691.0,534.2 C692.0,531.4 691.0,526.1 691.0,525.0" fill="none" stroke="#0c1200" stroke-width="1.15" stroke-linejoin="round" stroke-linecap="round"/>
<path d="M23.1,525.0 C23.1,526.1 23.0,530.6 23.1,534.2 C23.2,537.8 23.4,549.7 23.9,555.8 C24.3,561.9 26.0,579.8 26.9,586.6 C27.9,593.4 30.6,608.0 32.3,614.3 C34.0,620.6 39.1,635.1 41.6,640.5 C44.1,645.9 51.0,656.2 53.9,660.5 C56.8,664.8 63.8,673.9 66.2,677.5 C68.6,681.1 73.6,688.5 74.7,691.3 C75.8,694.2 75.4,699.8 75.8,701.9 C76.3,703.9 77.5,707.5 78.7,708.6 C80.0,709.6 84.4,710.7 86.4,711.0 C88.4,711.2 93.9,711.1 96.0,711.0 C98.1,710.8 102.9,709.9 104.7,709.5 C106.4,709.1 110.6,707.8 111.4,707.6 L511.6,707.5 C512.1,707.9 515.1,710.0 516.2,710.6 C517.3,711.1 518.1,712.2 520.8,712.1 C523.5,712.0 536.8,710.6 539.3,709.8 C541.8,709.0 542.0,706.4 542.4,705.2 C542.7,703.9 542.2,700.6 542.4,699.0 C542.5,697.4 542.8,694.0 543.9,691.3 C545.0,688.6 549.4,679.5 551.6,675.9 C553.8,672.3 559.9,664.3 562.4,660.5 C564.9,656.8 570.8,647.5 573.2,643.6 C575.5,639.6 580.4,630.4 582.4,626.6 C584.4,622.9 588.5,615.0 590.1,611.2 C591.7,607.5 594.8,598.4 596.3,594.3 C597.7,590.2 601.0,580.3 602.4,575.8 C603.9,571.3 607.2,560.7 608.6,555.8 C609.9,550.9 613.4,537.8 614.0,534.2 C614.6,530.6 614.0,526.1 614.0,525.0Z" fill="#f1cb1f"/><path d="M23.1,525.0 C23.1,526.1 23.0,530.6 23.1,534.2 C23.2,537.8 23.4,549.7 23.9,555.8 C24.3,561.9 26.0,579.8 26.9,586.6 C27.9,593.4 30.6,608.0 32.3,614.3 C34.0,620.6 39.1,635.1 41.6,640.5 C44.1,645.9 51.0,656.2 53.9,660.5 C56.8,664.8 63.8,673.9 66.2,677.5 C68.6,681.1 73.6,688.5 74.7,691.3 C75.8,694.2 75.4,699.8 75.8,701.9 C76.3,703.9 77.5,707.5 78.7,708.6 C80.0,709.6 84.4,710.7 86.4,711.0 C88.4,711.2 93.9,711.1 96.0,711.0 C98.1,710.8 102.9,709.9 104.7,709.5 C106.4,709.1 110.6,707.8 111.4,707.6 M511.6,707.5 C512.1,707.9 515.1,710.0 516.2,710.6 C517.3,711.1 518.1,712.2 520.8,712.1 C523.5,712.0 536.8,710.6 539.3,709.8 C541.8,709.0 542.0,706.4 542.4,705.2 C542.7,703.9 542.2,700.6 542.4,699.0 C542.5,697.4 542.8,694.0 543.9,691.3 C545.0,688.6 549.4,679.5 551.6,675.9 C553.8,672.3 559.9,664.3 562.4,660.5 C564.9,656.8 570.8,647.5 573.2,643.6 C575.5,639.6 580.4,630.4 582.4,626.6 C584.4,622.9 588.5,615.0 590.1,611.2 C591.7,607.5 594.8,598.4 596.3,594.3 C597.7,590.2 601.0,580.3 602.4,575.8 C603.9,571.3 607.2,560.7 608.6,555.8 C609.9,550.9 613.4,537.8 614.0,534.2 C614.6,530.6 614.0,526.1 614.0,525.0" fill="none" stroke="#0c1200" stroke-width="1.15" stroke-linejoin="round" stroke-linecap="round"/>
<path d="M50.1,525.0 C50.1,526.1 49.9,530.6 50.0,534.2 C50.2,537.8 51.0,549.7 51.6,555.8 C52.2,561.9 54.3,579.8 55.4,586.6 C56.6,593.4 60.0,608.6 61.6,614.3 C63.2,620.1 67.1,630.9 69.3,635.9 C71.5,640.9 77.6,652.8 80.1,657.5 C82.6,662.1 88.9,672.0 90.9,675.9 C92.8,679.9 96.1,688.1 97.0,691.3 C98.0,694.6 98.2,701.9 98.9,703.8 C99.6,705.7 101.4,707.2 102.7,707.6 C104.1,708.1 109.5,707.6 110.4,707.6 L513.1,706.7 C513.5,706.8 516.1,707.9 517.0,707.5 C517.8,707.1 519.6,705.4 520.0,703.6 C520.5,701.9 519.8,696.1 520.8,692.9 C521.8,689.6 526.7,679.7 528.5,675.9 C530.3,672.2 534.4,664.3 536.2,660.5 C538.0,656.8 542.1,648.3 543.9,643.6 C545.7,638.9 550.0,625.7 551.6,620.5 C553.2,615.3 556.5,603.8 557.8,598.9 C559.0,594.1 561.3,583.9 562.4,578.9 C563.5,573.9 566.0,561.0 567.0,555.8 C568.0,550.6 570.4,537.8 570.9,534.2 C571.3,530.6 570.9,526.1 570.9,525.0Z" fill="#dcfd2c"/><path d="M50.1,525.0 C50.1,526.1 49.9,530.6 50.0,534.2 C50.2,537.8 51.0,549.7 51.6,555.8 C52.2,561.9 54.3,579.8 55.4,586.6 C56.6,593.4 60.0,608.6 61.6,614.3 C63.2,620.1 67.1,630.9 69.3,635.9 C71.5,640.9 77.6,652.8 80.1,657.5 C82.6,662.1 88.9,672.0 90.9,675.9 C92.8,679.9 96.1,688.1 97.0,691.3 C98.0,694.6 98.2,701.9 98.9,703.8 C99.6,705.7 101.4,707.2 102.7,707.6 C104.1,708.1 109.5,707.6 110.4,707.6 M513.1,706.7 C513.5,706.8 516.1,707.9 517.0,707.5 C517.8,707.1 519.6,705.4 520.0,703.6 C520.5,701.9 519.8,696.1 520.8,692.9 C521.8,689.6 526.7,679.7 528.5,675.9 C530.3,672.2 534.4,664.3 536.2,660.5 C538.0,656.8 542.1,648.3 543.9,643.6 C545.7,638.9 550.0,625.7 551.6,620.5 C553.2,615.3 556.5,603.8 557.8,598.9 C559.0,594.1 561.3,583.9 562.4,578.9 C563.5,573.9 566.0,561.0 567.0,555.8 C568.0,550.6 570.4,537.8 570.9,534.2 C571.3,530.6 570.9,526.1 570.9,525.0" fill="none" stroke="#0c1200" stroke-width="1.15" stroke-linejoin="round" stroke-linecap="round"/>
<path d="M75.5,525.0 C75.5,526.1 75.4,530.6 75.5,534.2 C75.5,537.8 75.7,549.7 76.2,555.8 C76.8,561.9 78.9,579.4 80.1,586.6 C81.2,593.8 84.6,610.6 86.2,617.4 C87.9,624.2 92.2,639.4 94.0,645.1 C95.7,650.9 100.2,662.4 101.7,666.7 C103.1,671.0 105.5,678.9 106.3,682.1 C107.1,685.3 108.2,691.5 108.6,694.4 C108.9,697.3 109.3,705.3 109.3,706.7 L511.6,706.7 C511.5,704.9 510.7,694.6 510.8,691.3 C510.9,688.1 511.8,681.9 512.3,679.0 C512.9,676.1 514.4,670.3 515.4,666.7 C516.4,663.1 519.5,653.1 520.8,648.2 C522.1,643.4 525.7,630.5 527.0,625.1 C528.2,619.7 530.5,607.4 531.6,602.0 C532.7,596.6 535.3,584.3 536.2,578.9 C537.1,573.5 538.7,561.0 539.3,555.8 C539.8,550.6 540.6,537.8 540.8,534.2 C541.0,530.6 540.8,526.1 540.8,525.0Z" fill="#9cfd14"/><path d="M75.5,525.0 C75.5,526.1 75.4,530.6 75.5,534.2 C75.5,537.8 75.7,549.7 76.2,555.8 C76.8,561.9 78.9,579.4 80.1,586.6 C81.2,593.8 84.6,610.6 86.2,617.4 C87.9,624.2 92.2,639.4 94.0,645.1 C95.7,650.9 100.2,662.4 101.7,666.7 C103.1,671.0 105.5,678.9 106.3,682.1 C107.1,685.3 108.2,691.5 108.6,694.4 C108.9,697.3 109.3,705.3 109.3,706.7 M511.6,706.7 C511.5,704.9 510.7,694.6 510.8,691.3 C510.9,688.1 511.8,681.9 512.3,679.0 C512.9,676.1 514.4,670.3 515.4,666.7 C516.4,663.1 519.5,653.1 520.8,648.2 C522.1,643.4 525.7,630.5 527.0,625.1 C528.2,619.7 530.5,607.4 531.6,602.0 C532.7,596.6 535.3,584.3 536.2,578.9 C537.1,573.5 538.7,561.0 539.3,555.8 C539.8,550.6 540.6,537.8 540.8,534.2 C541.0,530.6 540.8,526.1 540.8,525.0" fill="none" stroke="#0c1200" stroke-width="1.15" stroke-linejoin="round" stroke-linecap="round"/>
<path d="M98.6,525.0 C98.6,526.1 98.6,530.6 98.6,534.2 C98.6,537.8 98.4,549.7 98.6,555.8 C98.7,561.9 99.4,579.4 100.1,586.6 C100.8,593.8 103.7,610.6 104.7,617.4 C105.8,624.2 108.3,638.8 109.3,645.1 C110.4,651.4 113.3,665.9 114.0,671.3 C114.7,676.7 115.3,687.2 115.5,691.3 C115.7,695.5 115.5,704.9 115.5,706.7 L504.6,706.7 C504.5,704.9 503.4,695.5 503.1,691.3 C502.8,687.2 502.1,676.3 502.3,671.3 C502.6,666.3 504.6,654.5 505.4,648.2 C506.2,641.9 508.4,624.6 509.2,617.4 C510.1,610.2 512.4,592.9 513.1,586.6 C513.8,580.3 515.0,569.6 515.4,563.5 C515.8,557.4 516.4,538.7 516.5,534.2 C516.6,529.7 516.5,526.1 516.5,525.0Z" fill="#7cfd0a"/><path d="M98.6,525.0 C98.6,526.1 98.6,530.6 98.6,534.2 C98.6,537.8 98.4,549.7 98.6,555.8 C98.7,561.9 99.4,579.4 100.1,586.6 C100.8,593.8 103.7,610.6 104.7,617.4 C105.8,624.2 108.3,638.8 109.3,645.1 C110.4,651.4 113.3,665.9 114.0,671.3 C114.7,676.7 115.3,687.2 115.5,691.3 C115.7,695.5 115.5,704.9 115.5,706.7 M504.6,706.7 C504.5,704.9 503.4,695.5 503.1,691.3 C502.8,687.2 502.1,676.3 502.3,671.3 C502.6,666.3 504.6,654.5 505.4,648.2 C506.2,641.9 508.4,624.6 509.2,617.4 C510.1,610.2 512.4,592.9 513.1,586.6 C513.8,580.3 515.0,569.6 515.4,563.5 C515.8,557.4 516.4,538.7 516.5,534.2 C516.6,529.7 516.5,526.1 516.5,525.0" fill="none" stroke="#0c1200" stroke-width="1.15" stroke-linejoin="round" stroke-linecap="round"/>
<path d="M119.4,525.0 C119.4,526.1 119.5,530.6 119.4,534.2 C119.2,537.8 117.9,549.7 117.8,555.8 C117.7,561.9 118.1,579.4 118.6,586.6 C119.0,593.8 121.0,610.2 121.7,617.4 C122.4,624.6 124.2,641.9 124.8,648.2 C125.3,654.5 126.5,666.3 126.3,671.3 C126.1,676.3 123.7,687.2 123.2,691.3 C122.7,695.5 121.8,704.9 121.7,706.7 L496.4,706.7 C496.3,704.9 496.0,695.5 495.6,691.3 C495.3,687.2 493.8,675.4 493.3,671.3 C492.9,667.2 492.0,660.4 491.8,655.9 C491.6,651.4 491.5,639.1 491.8,632.8 C492.1,626.5 493.8,609.2 494.1,602.0 C494.5,594.8 494.8,577.5 494.9,571.2 C495.0,564.9 495.2,552.4 495.2,548.1 C495.2,543.8 494.9,536.9 494.9,534.2 C494.8,531.5 494.9,526.1 494.9,525.0Z" fill="#72fd0a"/><path d="M119.4,525.0 C119.4,526.1 119.5,530.6 119.4,534.2 C119.2,537.8 117.9,549.7 117.8,555.8 C117.7,561.9 118.1,579.4 118.6,586.6 C119.0,593.8 121.0,610.2 121.7,617.4 C122.4,624.6 124.2,641.9 124.8,648.2 C125.3,654.5 126.5,666.3 126.3,671.3 C126.1,676.3 123.7,687.2 123.2,691.3 C122.7,695.5 121.8,704.9 121.7,706.7 M496.4,706.7 C496.3,704.9 496.0,695.5 495.6,691.3 C495.3,687.2 493.8,675.4 493.3,671.3 C492.9,667.2 492.0,660.4 491.8,655.9 C491.6,651.4 491.5,639.1 491.8,632.8 C492.1,626.5 493.8,609.2 494.1,602.0 C494.5,594.8 494.8,577.5 494.9,571.2 C495.0,564.9 495.2,552.4 495.2,548.1 C495.2,543.8 494.9,536.9 494.9,534.2 C494.8,531.5 494.9,526.1 494.9,525.0" fill="none" stroke="#0c1200" stroke-width="1.15" stroke-linejoin="round" stroke-linecap="round"/>
<path d="M139.4,525.0 C139.4,526.1 139.6,530.6 139.4,534.2 C139.1,537.8 137.5,549.7 137.1,555.8 C136.6,561.9 135.6,579.4 135.5,586.6 C135.4,593.8 136.0,610.2 136.3,617.4 C136.6,624.6 137.8,641.9 137.8,648.2 C137.9,654.5 137.6,666.3 137.1,671.3 C136.5,676.3 133.9,687.2 133.2,691.3 C132.5,695.5 131.2,704.9 130.9,706.7 L486.4,706.7 C486.2,704.4 485.3,690.8 484.9,686.7 C484.4,682.6 483.2,675.4 482.6,671.3 C481.9,667.2 480.0,655.8 479.5,651.3 C478.9,646.8 478.2,638.6 477.9,632.8 C477.7,627.1 477.3,609.2 477.2,602.0 C477.0,594.8 476.6,577.5 476.4,571.2 C476.2,564.9 475.8,552.4 475.6,548.1 C475.4,543.8 474.9,536.9 474.9,534.2 C474.8,531.5 474.9,526.1 474.9,525.0Z" fill="#6afd08"/><path d="M139.4,525.0 C139.4,526.1 139.6,530.6 139.4,534.2 C139.1,537.8 137.5,549.7 137.1,555.8 C136.6,561.9 135.6,579.4 135.5,586.6 C135.4,593.8 136.0,610.2 136.3,617.4 C136.6,624.6 137.8,641.9 137.8,648.2 C137.9,654.5 137.6,666.3 137.1,671.3 C136.5,676.3 133.9,687.2 133.2,691.3 C132.5,695.5 131.2,704.9 130.9,706.7 M486.4,706.7 C486.2,704.4 485.3,690.8 484.9,686.7 C484.4,682.6 483.2,675.4 482.6,671.3 C481.9,667.2 480.0,655.8 479.5,651.3 C478.9,646.8 478.2,638.6 477.9,632.8 C477.7,627.1 477.3,609.2 477.2,602.0 C477.0,594.8 476.6,577.5 476.4,571.2 C476.2,564.9 475.8,552.4 475.6,548.1 C475.4,543.8 474.9,536.9 474.9,534.2 C474.8,531.5 474.9,526.1 474.9,525.0" fill="none" stroke="#0c1200" stroke-width="1.15" stroke-linejoin="round" stroke-linecap="round"/>
<path d="M159.4,525.0 C159.4,526.1 159.8,530.6 159.4,534.2 C159.0,537.8 156.3,549.7 155.6,555.8 C154.8,561.9 153.6,579.4 153.2,586.6 C152.9,593.8 152.6,610.2 152.5,617.4 C152.3,624.6 152.2,641.9 151.7,648.2 C151.2,654.5 148.8,666.6 147.8,671.3 C146.9,676.0 144.0,684.1 143.2,688.2 C142.4,692.4 141.2,704.6 140.9,706.7 L474.9,706.7 C474.8,704.9 474.4,694.9 474.1,691.3 C473.7,687.7 472.4,679.2 471.8,675.9 C471.1,672.7 469.6,666.8 468.7,663.6 C467.8,660.4 464.9,652.7 464.1,648.2 C463.3,643.7 462.2,630.5 461.8,625.1 C461.3,619.7 460.6,608.3 460.2,602.0 C459.9,595.7 459.1,577.5 458.7,571.2 C458.2,564.9 456.8,552.4 456.4,548.1 C455.9,543.8 455.0,536.9 454.8,534.2 C454.7,531.5 454.8,526.1 454.8,525.0Z" fill="#68fd3a"/><path d="M159.4,525.0 C159.4,526.1 159.8,530.6 159.4,534.2 C159.0,537.8 156.3,549.7 155.6,555.8 C154.8,561.9 153.6,579.4 153.2,586.6 C152.9,593.8 152.6,610.2 152.5,617.4 C152.3,624.6 152.2,641.9 151.7,648.2 C151.2,654.5 148.8,666.6 147.8,671.3 C146.9,676.0 144.0,684.1 143.2,688.2 C142.4,692.4 141.2,704.6 140.9,706.7 M474.9,706.7 C474.8,704.9 474.4,694.9 474.1,691.3 C473.7,687.7 472.4,679.2 471.8,675.9 C471.1,672.7 469.6,666.8 468.7,663.6 C467.8,660.4 464.9,652.7 464.1,648.2 C463.3,643.7 462.2,630.5 461.8,625.1 C461.3,619.7 460.6,608.3 460.2,602.0 C459.9,595.7 459.1,577.5 458.7,571.2 C458.2,564.9 456.8,552.4 456.4,548.1 C455.9,543.8 455.0,536.9 454.8,534.2 C454.7,531.5 454.8,526.1 454.8,525.0" fill="none" stroke="#0c1200" stroke-width="1.15" stroke-linejoin="round" stroke-linecap="round"/>
<path d="M180.2,525.0 C180.2,526.1 180.9,530.6 180.2,534.2 C179.5,537.8 175.1,549.7 174.0,555.8 C173.0,561.9 171.5,579.4 170.9,586.6 C170.4,593.8 169.9,610.2 169.4,617.4 C168.9,624.6 167.4,641.9 166.3,648.2 C165.3,654.5 161.6,666.6 160.2,671.3 C158.7,676.0 154.8,684.1 154.0,688.2 C153.2,692.4 153.3,704.6 153.2,706.7 L464.1,706.7 C463.9,704.9 463.0,694.6 462.5,691.3 C462.1,688.1 460.9,681.9 460.2,679.0 C459.5,676.1 457.7,669.9 456.4,666.7 C455.0,663.5 450.0,655.2 448.7,651.3 C447.3,647.3 445.5,638.6 444.8,632.8 C444.1,627.1 443.1,609.2 442.5,602.0 C441.9,594.8 440.1,577.5 439.4,571.2 C438.7,564.9 437.1,552.4 436.4,548.1 C435.6,543.8 433.6,536.9 433.3,534.2 C432.9,531.5 433.3,526.1 433.3,525.0Z" fill="#6efd6e"/><path d="M180.2,525.0 C180.2,526.1 180.9,530.6 180.2,534.2 C179.5,537.8 175.1,549.7 174.0,555.8 C173.0,561.9 171.5,579.4 170.9,586.6 C170.4,593.8 169.9,610.2 169.4,617.4 C168.9,624.6 167.4,641.9 166.3,648.2 C165.3,654.5 161.6,666.6 160.2,671.3 C158.7,676.0 154.8,684.1 154.0,688.2 C153.2,692.4 153.3,704.6 153.2,706.7 M464.1,706.7 C463.9,704.9 463.0,694.6 462.5,691.3 C462.1,688.1 460.9,681.9 460.2,679.0 C459.5,676.1 457.7,669.9 456.4,666.7 C455.0,663.5 450.0,655.2 448.7,651.3 C447.3,647.3 445.5,638.6 444.8,632.8 C444.1,627.1 443.1,609.2 442.5,602.0 C441.9,594.8 440.1,577.5 439.4,571.2 C438.7,564.9 437.1,552.4 436.4,548.1 C435.6,543.8 433.6,536.9 433.3,534.2 C432.9,531.5 433.3,526.1 433.3,525.0" fill="none" stroke="#0c1200" stroke-width="1.15" stroke-linejoin="round" stroke-linecap="round"/>
<path d="M201.8,525.0 C201.8,526.1 202.6,530.6 201.8,534.2 C200.9,537.8 195.5,549.7 194.1,555.8 C192.6,561.9 190.3,579.4 189.4,586.6 C188.5,593.8 187.1,610.2 186.3,617.4 C185.6,624.6 184.7,641.9 183.3,648.2 C181.8,654.5 175.8,666.8 174.0,671.3 C172.2,675.8 168.8,682.6 167.9,686.7 C167.0,690.8 166.5,704.4 166.3,706.7 L451.0,706.7 C450.9,705.3 450.6,697.3 450.2,694.4 C449.9,691.5 448.6,684.8 447.9,682.1 C447.2,679.4 445.4,674.0 444.1,671.3 C442.7,668.6 438.0,662.0 436.4,659.0 C434.7,655.9 431.3,649.1 430.2,645.1 C429.1,641.2 427.8,630.1 427.1,625.1 C426.4,620.1 424.9,608.3 424.0,602.0 C423.1,595.7 420.5,577.5 419.4,571.2 C418.3,564.9 416.0,552.4 414.8,548.1 C413.6,543.8 410.0,536.9 409.4,534.2 C408.8,531.5 409.4,526.1 409.4,525.0Z" fill="#78fdc6"/><path d="M201.8,525.0 C201.8,526.1 202.6,530.6 201.8,534.2 C200.9,537.8 195.5,549.7 194.1,555.8 C192.6,561.9 190.3,579.4 189.4,586.6 C188.5,593.8 187.1,610.2 186.3,617.4 C185.6,624.6 184.7,641.9 183.3,648.2 C181.8,654.5 175.8,666.8 174.0,671.3 C172.2,675.8 168.8,682.6 167.9,686.7 C167.0,690.8 166.5,704.4 166.3,706.7 M451.0,706.7 C450.9,705.3 450.6,697.3 450.2,694.4 C449.9,691.5 448.6,684.8 447.9,682.1 C447.2,679.4 445.4,674.0 444.1,671.3 C442.7,668.6 438.0,662.0 436.4,659.0 C434.7,655.9 431.3,649.1 430.2,645.1 C429.1,641.2 427.8,630.1 427.1,625.1 C426.4,620.1 424.9,608.3 424.0,602.0 C423.1,595.7 420.5,577.5 419.4,571.2 C418.3,564.9 416.0,552.4 414.8,548.1 C413.6,543.8 410.0,536.9 409.4,534.2 C408.8,531.5 409.4,526.1 409.4,525.0" fill="none" stroke="#0c1200" stroke-width="1.15" stroke-linejoin="round" stroke-linecap="round"/>
<path d="M229.5,525.0 C229.5,526.1 231.1,530.6 229.5,534.2 C227.9,537.8 217.8,549.7 215.6,555.8 C213.5,561.9 212.1,579.4 211.0,586.6 C209.9,593.8 207.4,610.6 206.4,617.4 C205.3,624.2 203.4,639.7 201.8,645.1 C200.1,650.5 194.5,660.0 192.5,663.6 C190.5,667.2 186.1,673.2 184.8,675.9 C183.6,678.6 182.2,683.1 181.7,686.7 C181.3,690.3 181.0,704.4 181.0,706.7 L434.8,706.7 C434.7,704.9 434.4,694.6 434.0,691.3 C433.7,688.1 432.5,681.3 431.7,679.0 C430.9,676.7 428.5,673.5 427.1,671.3 C425.7,669.2 421.0,663.2 419.4,660.5 C417.8,657.8 414.5,651.4 413.2,648.2 C412.0,645.0 409.5,637.3 408.6,632.8 C407.7,628.3 406.4,615.1 405.6,609.7 C404.7,604.3 402.2,592.0 400.9,586.6 C399.7,581.2 396.2,568.0 394.8,563.5 C393.3,559.0 390.0,551.5 388.6,548.1 C387.2,544.7 383.2,536.9 382.4,534.2 C381.7,531.5 382.4,526.1 382.4,525.0Z" fill="#5efdee"/><path d="M229.5,525.0 C229.5,526.1 231.1,530.6 229.5,534.2 C227.9,537.8 217.8,549.7 215.6,555.8 C213.5,561.9 212.1,579.4 211.0,586.6 C209.9,593.8 207.4,610.6 206.4,617.4 C205.3,624.2 203.4,639.7 201.8,645.1 C200.1,650.5 194.5,660.0 192.5,663.6 C190.5,667.2 186.1,673.2 184.8,675.9 C183.6,678.6 182.2,683.1 181.7,686.7 C181.3,690.3 181.0,704.4 181.0,706.7 M434.8,706.7 C434.7,704.9 434.4,694.6 434.0,691.3 C433.7,688.1 432.5,681.3 431.7,679.0 C430.9,676.7 428.5,673.5 427.1,671.3 C425.7,669.2 421.0,663.2 419.4,660.5 C417.8,657.8 414.5,651.4 413.2,648.2 C412.0,645.0 409.5,637.3 408.6,632.8 C407.7,628.3 406.4,615.1 405.6,609.7 C404.7,604.3 402.2,592.0 400.9,586.6 C399.7,581.2 396.2,568.0 394.8,563.5 C393.3,559.0 390.0,551.5 388.6,548.1 C387.2,544.7 383.2,536.9 382.4,534.2 C381.7,531.5 382.4,526.1 382.4,525.0" fill="none" stroke="#0c1200" stroke-width="1.15" stroke-linejoin="round" stroke-linecap="round"/>
<path d="M268.0,525.0 C268.0,526.1 269.8,531.4 268.0,534.2 C266.2,537.1 255.5,545.3 252.6,549.6 C249.7,554.0 245.3,566.9 243.3,571.2 C241.4,575.5 236.9,582.1 235.6,586.6 C234.4,591.1 233.4,604.3 232.6,609.7 C231.7,615.1 229.2,628.5 227.9,632.8 C226.7,637.1 223.4,643.4 221.8,646.7 C220.2,649.9 216.4,657.1 214.1,660.5 C211.7,663.9 203.4,672.7 201.8,675.9 C200.1,679.2 200.6,684.7 200.2,688.2 C199.9,691.8 198.8,704.6 198.7,706.7 L415.6,706.7 C415.5,704.4 415.1,690.3 414.8,686.7 C414.5,683.1 414.5,678.4 413.2,675.9 C412.0,673.4 406.2,667.7 404.0,665.1 C401.9,662.6 396.6,656.9 394.8,654.4 C393.0,651.9 389.7,646.1 388.6,643.6 C387.5,641.1 386.2,635.9 385.5,632.8 C384.8,629.8 383.2,621.0 382.4,617.4 C381.7,613.8 380.3,605.6 379.4,602.0 C378.5,598.4 375.8,589.8 374.8,586.6 C373.7,583.4 371.4,577.2 370.1,574.3 C368.9,571.4 365.4,564.7 364.0,562.0 C362.5,559.3 359.4,553.5 357.8,551.2 C356.2,548.8 351.9,543.9 350.1,541.9 C348.3,540.0 343.3,536.2 342.4,534.2 C341.5,532.3 342.4,526.1 342.4,525.0Z" fill="#3c8efd"/><path d="M268.0,525.0 C268.0,526.1 269.8,531.4 268.0,534.2 C266.2,537.1 255.5,545.3 252.6,549.6 C249.7,554.0 245.3,566.9 243.3,571.2 C241.4,575.5 236.9,582.1 235.6,586.6 C234.4,591.1 233.4,604.3 232.6,609.7 C231.7,615.1 229.2,628.5 227.9,632.8 C226.7,637.1 223.4,643.4 221.8,646.7 C220.2,649.9 216.4,657.1 214.1,660.5 C211.7,663.9 203.4,672.7 201.8,675.9 C200.1,679.2 200.6,684.7 200.2,688.2 C199.9,691.8 198.8,704.6 198.7,706.7 M415.6,706.7 C415.5,704.4 415.1,690.3 414.8,686.7 C414.5,683.1 414.5,678.4 413.2,675.9 C412.0,673.4 406.2,667.7 404.0,665.1 C401.9,662.6 396.6,656.9 394.8,654.4 C393.0,651.9 389.7,646.1 388.6,643.6 C387.5,641.1 386.2,635.9 385.5,632.8 C384.8,629.8 383.2,621.0 382.4,617.4 C381.7,613.8 380.3,605.6 379.4,602.0 C378.5,598.4 375.8,589.8 374.8,586.6 C373.7,583.4 371.4,577.2 370.1,574.3 C368.9,571.4 365.4,564.7 364.0,562.0 C362.5,559.3 359.4,553.5 357.8,551.2 C356.2,548.8 351.9,543.9 350.1,541.9 C348.3,540.0 343.3,536.2 342.4,534.2 C341.5,532.3 342.4,526.1 342.4,525.0" fill="none" stroke="#0c1200" stroke-width="1.15" stroke-linejoin="round" stroke-linecap="round"/>
<path d="M221.0,706.7 C221.2,704.7 222.0,695.2 222.5,691.3 C223.1,687.4 222.7,681.2 224.8,677.5 C227.0,673.8 235.8,666.5 238.7,663.6 C241.6,660.7 244.4,658.4 246.4,655.9 C248.5,653.4 252.5,648.2 254.1,645.1 C255.8,642.0 257.5,636.5 258.7,632.8 C260.0,629.1 261.7,622.1 263.4,617.4 C265.0,612.7 268.2,602.5 271.1,597.4 C273.9,592.2 281.0,582.4 284.9,578.9 C288.9,575.4 296.4,571.8 300.8,571.2 C305.2,570.6 313.4,572.2 317.8,574.3 C322.1,576.3 329.9,583.1 333.2,586.6 C336.5,590.1 340.2,596.4 342.4,600.5 C344.7,604.6 348.5,613.1 350.1,617.4 C351.8,621.7 353.9,629.5 354.7,632.8 C355.6,636.1 355.0,639.4 356.3,642.0 C357.5,644.7 361.7,650.2 364.0,652.8 C366.2,655.5 369.9,659.0 373.2,662.1 C376.5,665.2 386.4,672.4 388.6,675.9 C390.9,679.4 389.8,684.1 390.1,688.2 C390.5,692.4 390.8,704.3 390.9,706.7Z" fill="#2250fd"/><path d="M221.0,706.7 C221.2,704.7 222.0,695.2 222.5,691.3 C223.1,687.4 222.7,681.2 224.8,677.5 C227.0,673.8 235.8,666.5 238.7,663.6 C241.6,660.7 244.4,658.4 246.4,655.9 C248.5,653.4 252.5,648.2 254.1,645.1 C255.8,642.0 257.5,636.5 258.7,632.8 C260.0,629.1 261.7,622.1 263.4,617.4 C265.0,612.7 268.2,602.5 271.1,597.4 C273.9,592.2 281.0,582.4 284.9,578.9 C288.9,575.4 296.4,571.8 300.8,571.2 C305.2,570.6 313.4,572.2 317.8,574.3 C322.1,576.3 329.9,583.1 333.2,586.6 C336.5,590.1 340.2,596.4 342.4,600.5 C344.7,604.6 348.5,613.1 350.1,617.4 C351.8,621.7 353.9,629.5 354.7,632.8 C355.6,636.1 355.0,639.4 356.3,642.0 C357.5,644.7 361.7,650.2 364.0,652.8 C366.2,655.5 369.9,659.0 373.2,662.1 C376.5,665.2 386.4,672.4 388.6,675.9 C390.9,679.4 389.8,684.1 390.1,688.2 C390.5,692.4 390.8,704.3 390.9,706.7" fill="none" stroke="#0c1200" stroke-width="1.15" stroke-linejoin="round" stroke-linecap="round"/>
<path d="M257.2,706.7 C257.6,704.7 259.7,695.2 260.3,691.3 C260.9,687.4 259.6,680.1 261.8,677.5 C264.1,674.8 273.9,672.7 277.2,671.3 C280.6,669.9 283.6,667.5 287.0,666.7 C290.3,665.9 298.3,665.5 302.4,665.5 C306.5,665.5 313.7,665.9 317.8,666.7 C321.9,667.5 329.3,669.9 333.2,671.3 C337.1,672.7 344.8,674.8 347.0,677.5 C349.3,680.1 349.4,687.4 350.1,691.3 C350.8,695.2 352.1,704.7 352.4,706.7Z" fill="#1c38fd"/><path d="M257.2,706.7 C257.6,704.7 259.7,695.2 260.3,691.3 C260.9,687.4 259.6,680.1 261.8,677.5 C264.1,674.8 273.9,672.7 277.2,671.3 C280.6,669.9 283.6,667.5 287.0,666.7 C290.3,665.9 298.3,665.5 302.4,665.5 C306.5,665.5 313.7,665.9 317.8,666.7 C321.9,667.5 329.3,669.9 333.2,671.3 C337.1,672.7 344.8,674.8 347.0,677.5 C349.3,680.1 349.4,687.4 350.1,691.3 C350.8,695.2 352.1,704.7 352.4,706.7" fill="none" stroke="#0c1200" stroke-width="1.15" stroke-linejoin="round" stroke-linecap="round"/>
<rect x="118.3" y="704.3" width="393.7" height="4.6" fill="#000"/>
</g>
<rect x="581.6" y="708.3" width="20.0" height="10.5" fill="#000"/>
<rect x="585.0" y="711.4" width="13.6" height="4.3" fill="#fff"/>
<rect x="4.2" y="532.6" width="762.6" height="315.2" fill="none" stroke="#000" stroke-width="3.6"/>
</g>
<g id="panel-d">
<defs><clipPath id="clipD"><rect x="960.2" y="582.7" width="774.0" height="219.6"/></clipPath></defs>
<g clip-path="url(#clipD)">
<rect x="955.2" y="577.7" width="784.0" height="229.6" fill="#fd0f18"/>
<path d="M1653.0,576.7 L1745.0,576.7 L1736.6,713.4 L1701.8,713.4 L1653.0,713.4Z" fill="#fd2a16"/><path d="M1736.6,713.4 L1701.8,713.4" fill="none" stroke="#0c1200" stroke-width="1.15" stroke-linejoin="round" stroke-linecap="round"/>
<path d="M1435.5,690.2 L1440.4,700.9 L1447.1,709.2 L1463.2,715.8 L1464.8,727.4 L1466.5,740.7 L1470.7,745.7 L1489.7,749.0 L1514.6,751.5 L1572.5,751.0 L1622.3,748.1 L1653.7,744.8 L1658.7,739.0 L1661.2,727.4 L1663.7,717.8 L1663.7,691.0 L1435.5,690.2Z" fill="#fd2a16"/><path d="M1435.5,690.2 L1440.4,700.9 L1447.1,709.2 L1463.2,715.8 L1464.8,727.4 L1466.5,740.7 L1470.7,745.7 L1489.7,749.0 L1514.6,751.5 L1572.5,751.0 L1622.3,748.1 L1653.7,744.8 L1658.7,739.0 L1661.2,727.4 L1663.7,717.8" fill="none" stroke="#0c1200" stroke-width="1.15" stroke-linejoin="round" stroke-linecap="round"/>
<path d="M950.0,691.6 L950.0,576.7 L1732.5,576.7 L1732.5,582.8 L1721.7,596.5 L1711.7,613.1 L1701.8,629.7 L1690.2,649.6 L1689.4,661.2 L1691.0,674.4 L1690.2,684.4 L1688.5,693.5 L1653.4,697.6 L1622.3,701.8 L1589.1,705.9 L1556.0,709.2 L1517.0,710.9 L1495.5,710.0 L1470.7,708.4 L1462.4,705.1 L1454.1,699.3 L1447.5,692.6 L1437.1,691.0 L950.0,691.6Z" fill="#fd6c1a"/><path d="M1732.5,576.7 L1732.5,582.8 L1721.7,596.5 L1711.7,613.1 L1701.8,629.7 L1690.2,649.6 L1689.4,661.2 L1691.0,674.4 L1690.2,684.4 L1688.5,693.5 M1653.4,697.6 L1622.3,701.8 L1589.1,705.9 L1556.0,709.2 L1517.0,710.9 L1495.5,710.0 L1470.7,708.4 L1462.4,705.1 L1454.1,699.3 L1447.5,692.6 L1437.1,691.0" fill="none" stroke="#0c1200" stroke-width="1.15" stroke-linejoin="round" stroke-linecap="round"/>
<path d="M950.0,691.6 L950.0,576.7 L1583.3,576.7 L1583.3,582.8 L1572.5,596.5 L1562.6,613.1 L1554.3,629.7 L1542.7,649.6 L1541.9,662.8 L1541.1,681.0 L1538.6,689.3 L1535.3,694.3 L1512.9,698.4 L1493.0,700.1 L1471.5,700.9 L1459.0,692.6 L1449.1,691.0 L1437.1,689.3 L950.0,691.6Z" fill="#f1cb1f"/><path d="M1583.3,576.7 L1583.3,582.8 L1572.5,596.5 L1562.6,613.1 L1554.3,629.7 L1542.7,649.6 L1541.9,662.8 L1541.1,681.0 L1538.6,689.3 L1535.3,694.3 L1512.9,698.4 L1493.0,700.1 L1471.5,700.9 L1459.0,692.6 L1449.1,691.0 L1437.1,689.3" fill="none" stroke="#0c1200" stroke-width="1.15" stroke-linejoin="round" stroke-linecap="round"/>
<path d="M950.0,691.6 L950.0,576.7 L1509.6,576.7 L1509.6,582.8 L1503.8,598.2 L1495.5,619.7 L1487.2,638.0 L1481.4,649.6 L1480.6,661.2 L1479.8,680.2 L1471.5,688.5 L1454.1,686.8 L1437.1,685.2 L950.0,691.6Z" fill="#dcfd2c"/><path d="M1509.6,576.7 L1509.6,582.8 L1503.8,598.2 L1495.5,619.7 L1487.2,638.0 L1481.4,649.6 L1480.6,661.2 L1479.8,680.2 L1471.5,688.5 L1454.1,686.8 L1437.1,685.2" fill="none" stroke="#0c1200" stroke-width="1.15" stroke-linejoin="round" stroke-linecap="round"/>
<path d="M950.0,691.6 L950.0,576.7 L1464.5,576.7 L1464.5,582.8 L1459.0,601.5 L1455.7,624.7 L1454.1,644.6 L1454.1,666.1 L1455.7,680.2 L1436.3,681.0 L950.0,691.6Z" fill="#9cfd14"/><path d="M1464.5,576.7 L1464.5,582.8 L1459.0,601.5 L1455.7,624.7 L1454.1,644.6 L1454.1,666.1 L1455.7,680.2 L1436.3,681.0" fill="none" stroke="#0c1200" stroke-width="1.15" stroke-linejoin="round" stroke-linecap="round"/>
<path d="M950.0,691.6 L950.0,576.7 L1431.3,576.7 L1431.3,582.8 L1428.0,604.8 L1430.5,633.0 L1433.8,664.5 L1436.3,681.0 L950.0,691.6Z" fill="#7cfd0a"/><path d="M1431.3,576.7 L1431.3,582.8 L1428.0,604.8 L1430.5,633.0 L1433.8,664.5 L1436.3,681.0" fill="none" stroke="#0c1200" stroke-width="1.15" stroke-linejoin="round" stroke-linecap="round"/>
<path d="M950.0,691.6 L950.0,576.7 L1400.7,576.7 L1400.7,582.8 L1402.3,608.1 L1405.6,633.0 L1410.6,662.8 L1414.8,681.0 L950.0,691.6Z" fill="#72fd0a"/><path d="M1400.7,576.7 L1400.7,582.8 L1402.3,608.1 L1405.6,633.0 L1410.6,662.8 L1414.8,681.0" fill="none" stroke="#0c1200" stroke-width="1.15" stroke-linejoin="round" stroke-linecap="round"/>
<path d="M950.0,691.6 L950.0,576.7 L1369.2,576.7 L1369.2,582.8 L1375.8,603.2 L1380.8,629.7 L1385.8,654.5 L1388.2,681.0 L950.0,691.6Z" fill="#6afd08"/><path d="M1369.2,576.7 L1369.2,582.8 L1375.8,603.2 L1380.8,629.7 L1385.8,654.5 L1388.2,681.0" fill="none" stroke="#0c1200" stroke-width="1.15" stroke-linejoin="round" stroke-linecap="round"/>
<path d="M950.0,691.6 L950.0,576.7 L1336.9,576.7 L1336.9,582.8 L1346.0,604.8 L1351.0,629.7 L1355.9,657.9 L1357.6,681.0 L950.0,691.6Z" fill="#68fd3a"/><path d="M1336.9,576.7 L1336.9,582.8 L1346.0,604.8 L1351.0,629.7 L1355.9,657.9 L1357.6,681.0" fill="none" stroke="#0c1200" stroke-width="1.15" stroke-linejoin="round" stroke-linecap="round"/>
<path d="M950.0,691.6 L950.0,576.7 L1301.2,576.7 L1301.2,582.8 L1312.8,603.2 L1317.8,624.7 L1322.8,654.5 L1324.5,681.0 L950.0,691.6Z" fill="#6efd6e"/><path d="M1301.2,576.7 L1301.2,582.8 L1312.8,603.2 L1317.8,624.7 L1322.8,654.5 L1324.5,681.0" fill="none" stroke="#0c1200" stroke-width="1.15" stroke-linejoin="round" stroke-linecap="round"/>
<path d="M950.0,691.6 L950.0,576.7 L1263.1,576.7 L1263.1,582.8 L1277.2,604.8 L1283.0,633.0 L1287.2,666.1 L1288.0,681.0 L950.0,691.6Z" fill="#78fdc6"/><path d="M1263.1,576.7 L1263.1,582.8 L1277.2,604.8 L1283.0,633.0 L1287.2,666.1 L1288.0,681.0" fill="none" stroke="#0c1200" stroke-width="1.15" stroke-linejoin="round" stroke-linecap="round"/>
<path d="M950.0,691.6 L950.0,576.7 L1219.2,576.7 L1219.2,582.8 L1235.0,604.8 L1241.6,641.3 L1244.9,681.0 L950.0,691.6Z" fill="#5efdee"/><path d="M1219.2,576.7 L1219.2,582.8 L1235.0,604.8 L1241.6,641.3 L1244.9,681.0" fill="none" stroke="#0c1200" stroke-width="1.15" stroke-linejoin="round" stroke-linecap="round"/>
<path d="M950.0,691.6 L950.0,576.7 L1165.4,576.7 L1165.4,582.8 L1183.6,604.8 L1186.9,641.3 L1191.1,681.0 L950.0,691.6Z" fill="#3c8efd"/><path d="M1165.4,576.7 L1165.4,582.8 L1183.6,604.8 L1186.9,641.3 L1191.1,681.0" fill="none" stroke="#0c1200" stroke-width="1.15" stroke-linejoin="round" stroke-linecap="round"/>
<path d="M950.0,691.6 L950.0,576.7 L1092.5,576.7 L1092.5,582.8 L1114.0,604.8 L1117.3,641.3 L1120.7,681.0 L950.0,691.6Z" fill="#2250fd"/><path d="M1092.5,576.7 L1092.5,582.8 L1114.0,604.8 L1117.3,641.3 L1120.7,681.0" fill="none" stroke="#0c1200" stroke-width="1.15" stroke-linejoin="round" stroke-linecap="round"/>
<path d="M950.0,691.6 L946.7,580.0 L960.3,585.8 L1001.4,604.8 L1004.7,624.7 L1013.0,666.1 L1014.6,681.0 L950.0,691.6Z" fill="#1c38fd"/><path d="M946.7,580.0 L960.3,585.8 L1001.4,604.8 L1004.7,624.7 L1013.0,666.1 L1014.6,681.0" fill="none" stroke="#0c1200" stroke-width="1.15" stroke-linejoin="round" stroke-linecap="round"/>
<defs><linearGradient id="gD" gradientUnits="userSpaceOnUse" x1="1346.0" y1="0" x2="1437.1" y2="0"><stop offset="0" stop-color="#0a0d05" stop-opacity="1"/><stop offset="0.45" stop-color="#141a05" stop-opacity="0.8"/><stop offset="1" stop-color="#1e2005" stop-opacity="0.35"/></linearGradient></defs>
<path d="M950.0,680.2 L1262.0,680.2 L1346.0,680.4 L1436.3,681.2 L1437.9,690.0 L1412.3,691.5 L1346.0,691.8 L1262.0,691.8 L950.0,691.8Z" fill="url(#gD)" stroke="#0c1200" stroke-width="0" stroke-linejoin="round"/>
<path d="M1322.8,681.0 L1379.1,683.2 L1437.1,689.7" fill="none" stroke="#0c1004" stroke-width="1.1" opacity="0.8"/>
<path d="M1322.8,682.4 L1379.1,684.2 L1437.1,689.7" fill="none" stroke="#0c1004" stroke-width="1.1" opacity="0.8"/>
<path d="M1322.8,683.7 L1379.1,685.2 L1437.1,689.7" fill="none" stroke="#0c1004" stroke-width="1.1" opacity="0.8"/>
<path d="M1322.8,685.0 L1379.1,686.2 L1437.1,689.7" fill="none" stroke="#0c1004" stroke-width="1.1" opacity="0.8"/>
<path d="M1322.8,686.4 L1379.1,687.2 L1437.1,689.7" fill="none" stroke="#0c1004" stroke-width="1.1" opacity="0.8"/>
<path d="M1322.8,687.7 L1379.1,688.2 L1437.1,689.7" fill="none" stroke="#0c1004" stroke-width="1.1" opacity="0.8"/>
<path d="M1322.8,689.0 L1379.1,689.2 L1437.1,689.7" fill="none" stroke="#0c1004" stroke-width="1.1" opacity="0.8"/>
<path d="M1322.8,690.3 L1379.1,690.2 L1437.1,689.7" fill="none" stroke="#0c1004" stroke-width="1.1" opacity="0.8"/>
<path d="M1322.8,691.5 L1379.1,691.0 L1437.1,689.7" fill="none" stroke="#0c1004" stroke-width="1.1" opacity="0.8"/>
<line x1="959.9" y1="689.0" x2="1004.7" y2="688.3" stroke="#9aa044" stroke-width="0.9" opacity="0.75"/>
<line x1="1047.8" y1="689.3" x2="1095.8" y2="689.3" stroke="#c8963c" stroke-width="0.9" opacity="0.75"/>
<line x1="1066.0" y1="682.4" x2="1079.2" y2="682.4" stroke="#3aa0a0" stroke-width="0.9" opacity="0.75"/>
<line x1="1095.8" y1="684.4" x2="1112.4" y2="684.0" stroke="#70b020" stroke-width="0.9" opacity="0.75"/>
<line x1="1130.6" y1="685.0" x2="1153.8" y2="685.0" stroke="#70b020" stroke-width="0.9" opacity="0.75"/>
<line x1="1138.9" y1="681.0" x2="1153.8" y2="681.4" stroke="#3ab0a0" stroke-width="0.9" opacity="0.75"/>
<line x1="1165.4" y1="682.7" x2="1182.0" y2="682.4" stroke="#58c040" stroke-width="0.9" opacity="0.75"/>
<line x1="1198.5" y1="684.4" x2="1215.1" y2="684.7" stroke="#80b828" stroke-width="0.9" opacity="0.75"/>
<line x1="1208.5" y1="681.0" x2="1220.1" y2="681.4" stroke="#50c070" stroke-width="0.9" opacity="0.75"/>
<line x1="1236.7" y1="682.7" x2="1251.6" y2="682.7" stroke="#80c020" stroke-width="0.9" opacity="0.75"/>
<line x1="1208.5" y1="688.5" x2="1244.9" y2="688.7" stroke="#c89030" stroke-width="0.9" opacity="0.75"/>
<line x1="1240.0" y1="685.7" x2="1261.5" y2="685.7" stroke="#90b020" stroke-width="0.9" opacity="0.75"/>
<line x1="1236.6" y1="682.7" x2="1251.5" y2="682.4" stroke="#70c040" stroke-width="0.9" opacity="0.75"/>
<line x1="1259.8" y1="686.4" x2="1288.0" y2="685.7" stroke="#88b828" stroke-width="0.9" opacity="0.75"/>
<line x1="1289.7" y1="682.7" x2="1306.2" y2="682.0" stroke="#60c030" stroke-width="0.9" opacity="0.75"/>
<line x1="1309.5" y1="685.0" x2="1332.7" y2="683.7" stroke="#78c020" stroke-width="0.9" opacity="0.75"/>
<line x1="1319.5" y1="689.3" x2="1346.0" y2="688.3" stroke="#c89030" stroke-width="0.9" opacity="0.75"/>
<line x1="1336.0" y1="683.0" x2="1355.9" y2="681.7" stroke="#70d020" stroke-width="0.9" opacity="0.75"/>
<line x1="1346.0" y1="686.4" x2="1367.5" y2="685.0" stroke="#b0a030" stroke-width="0.9" opacity="0.75"/>
<line x1="1370.8" y1="682.4" x2="1389.1" y2="684.4" stroke="#90d020" stroke-width="0.9" opacity="0.75"/>
<line x1="1375.8" y1="687.0" x2="1394.0" y2="687.7" stroke="#c07028" stroke-width="0.9" opacity="0.75"/>
<line x1="1395.7" y1="685.7" x2="1412.3" y2="687.7" stroke="#d8c030" stroke-width="0.9" opacity="0.75"/>
<line x1="1402.3" y1="682.7" x2="1428.8" y2="684.7" stroke="#b8e030" stroke-width="0.9" opacity="0.75"/>
<line x1="1412.3" y1="689.3" x2="1428.8" y2="689.7" stroke="#e06020" stroke-width="0.9" opacity="0.75"/>
</g>
<rect x="1653.4" y="693.5" width="48.4" height="24.4" fill="#000"/>
<rect x="1656.2" y="696.8" width="42.6" height="18.2" fill="#fff"/>
</g>
<g id="panel-e">
<defs><clipPath id="clipE"><rect x="0.0" y="1024.4" width="782.8" height="210.0"/></clipPath></defs>
<g clip-path="url(#clipE)">
<rect x="-5" y="1019.4000000000001" width="792.8" height="220.0" fill="#fd2a16"/>
<path d="M-9.9,1028.6 L0.8,1030.3 L41.4,1036.0 L99.4,1041.8 L167.3,1049.3 L218.7,1065.0 L248.5,1080.8 L281.7,1093.2 L306.6,1103.2 L325.6,1110.6 L324.0,1115.6 L306.6,1117.2 L275.1,1117.2 L256.8,1109.0 L233.6,1094.9 L182.3,1088.2 L116.0,1084.1 L49.7,1082.0 L0.8,1081.3 L-9.9,1081.3Z" fill="#fd0f18" stroke="#0c1200" stroke-width="1.15" stroke-linejoin="round"/>
<path d="M23.2,1194.6 L66.3,1186.8 L132.6,1183.5 L198.8,1181.4 L256.8,1180.2 L290.0,1181.0 L356.3,1182.4 L406.0,1186.0 L439.1,1191.0 L457.4,1194.6 L454.0,1200.9 L422.6,1209.2 L406.0,1215.8 L389.4,1222.5 L371.2,1229.9 L339.7,1233.2 L306.6,1234.1 L281.7,1230.7 L228.7,1222.5 L182.3,1210.0 L99.4,1205.9 L41.4,1202.9Z" fill="#fd0f18" stroke="#0c1200" stroke-width="1.15" stroke-linejoin="round"/>
<path d="M124.3,1016.4 L124.3,1024.5 L142.5,1033.6 L182.3,1041.8 L232.0,1049.3 L265.1,1060.1 L312.0,1080.0 L339.7,1091.6 L364.6,1101.5 L392.7,1111.5 L422.6,1116.4 L455.7,1119.7 L472.1,1122.3 L474.5,1128.0 L475.9,1137.6 L473.0,1143.4 L469.2,1147.2 L459.6,1148.2 L439.1,1149.5 L430.8,1156.2 L419.2,1163.6 L406.0,1167.8 L394.4,1172.4 L422.6,1175.2 L455.7,1180.2 L459.6,1181.3 L473.0,1186.6 L498.0,1190.5 L529.7,1193.3 L556.6,1202.5 L543.1,1211.1 L546.0,1220.2 L551.3,1234.1 L553.2,1241.3 L792.8,1242.4 L792.8,1016.4Z" fill="#fd6c1a" stroke="#0c1200" stroke-width="1.15" stroke-linejoin="round"/>
<path d="M197.2,1016.4 L197.2,1024.5 L210.4,1033.6 L248.5,1041.8 L280.0,1048.5 L298.2,1057.6 L312.0,1065.0 L321.5,1066.7 L348.0,1081.6 L372.9,1093.2 L397.7,1104.8 L422.6,1112.3 L447.4,1118.1 L474.0,1119.4 L487.4,1122.8 L488.4,1130.0 L489.4,1138.6 L487.9,1146.3 L479.8,1149.2 L478.8,1151.1 L481.2,1156.8 L496.1,1160.2 L517.2,1164.5 L536.4,1166.0 L558.5,1167.4 L571.9,1171.2 L560.4,1173.2 L541.2,1173.4 L512.4,1173.7 L492.7,1176.0 L503.8,1184.7 L509.5,1187.1 L529.7,1189.5 L546.0,1191.4 L565.2,1192.8 L584.4,1194.3 L598.8,1195.2 L610.0,1196.2 L648.4,1194.8 L686.8,1191.4 L725.2,1188.0 L754.0,1186.1 L782.8,1184.7 L792.4,1184.3 L792.8,1016.4Z" fill="#f1cb1f" stroke="#0c1200" stroke-width="1.15" stroke-linejoin="round"/>
<path d="M258.5,1016.4 L258.5,1024.5 L268.4,1032.7 L290.0,1039.4 L312.0,1046.8 L323.1,1050.1 L356.3,1068.4 L389.4,1089.9 L414.3,1103.2 L430.8,1111.5 L455.7,1118.1 L486.5,1119.4 L499.0,1123.2 L500.9,1131.9 L503.8,1142.4 L505.7,1147.2 L513.4,1148.7 L519.1,1152.0 L526.8,1156.8 L546.0,1160.7 L565.2,1163.6 L584.4,1167.4 L598.8,1171.2 L589.2,1172.2 L570.0,1174.1 L543.1,1175.6 L542.2,1181.8 L541.2,1185.7 L544.1,1187.1 L565.2,1188.5 L594.0,1190.0 L610.0,1190.0 L648.4,1188.5 L686.8,1184.7 L725.2,1181.3 L754.0,1178.9 L782.8,1176.5 L792.4,1176.2 L792.8,1016.4Z" fill="#dcfd2c" stroke="#0c1200" stroke-width="1.15" stroke-linejoin="round"/>
<path d="M314.9,1016.4 L314.9,1024.5 L320.6,1033.6 L339.7,1043.5 L364.6,1060.1 L381.1,1075.0 L397.7,1088.2 L414.3,1099.8 L430.8,1108.1 L455.7,1116.4 L504.1,1121.2 L511.5,1124.1 L513.0,1130.8 L517.4,1139.7 L523.4,1146.4 L532.3,1147.9 L543.5,1151.6 L554.6,1156.1 L569.5,1159.8 L584.4,1163.5 L599.2,1166.5 L614.1,1169.5 L624.9,1171.7 L614.1,1173.9 L599.2,1175.8 L604.4,1180.3 L621.5,1180.3 L650.0,1178.4 L658.0,1178.7 L696.4,1177.0 L725.2,1175.6 L754.0,1174.1 L782.8,1172.2 L792.4,1171.7 L791.7,1065.2 L782.8,1065.2 L757.4,1064.7 L748.3,1061.1 L736.2,1060.1 L700.9,1059.6 L685.8,1061.7 L670.6,1064.2 L634.3,1064.7 L600.0,1065.2 L555.1,1065.0 L522.0,1055.1 L497.1,1048.5 L474.8,1033.6 L477.2,1024.5 L477.2,1016.4Z" fill="#9cfd14" stroke="#0c1200" stroke-width="1.15" stroke-linejoin="round"/>
<path d="M387.8,1049.3 L402.7,1033.6 L417.6,1029.9 L439.1,1036.9 L464.0,1045.2 L488.8,1053.5 L522.0,1061.7 L555.1,1066.7 L600.0,1069.2 L650.5,1068.7 L700.9,1066.7 L741.3,1067.7 L782.8,1070.2 L791.7,1070.2 L792.4,1162.6 L782.8,1165.5 L758.8,1174.3 L696.4,1174.3 L653.2,1172.7 L621.5,1163.6 L621.5,1163.5 L599.2,1160.6 L584.4,1158.3 L569.5,1155.3 L562.0,1152.4 L554.6,1148.7 L544.2,1147.2 L539.7,1144.9 L532.3,1139.7 L530.8,1136.0 L527.1,1129.3 L523.4,1124.1 L514.5,1121.2 L455.7,1116.4 L439.1,1106.5 L422.6,1094.9 L417.6,1086.6 L409.3,1080.0 L397.7,1063.4 L387.8,1049.3Z" fill="#7cfd0a" stroke="#0c1200" stroke-width="1.15" stroke-linejoin="round"/>
<path d="M623.0,1147.2 L637.8,1138.6 L639.8,1131.9 L667.6,1128.0 L698.8,1124.7 L698.8,1141.0 L666.6,1146.8 L648.4,1147.7Z" fill="#9cfd14" stroke="#0c1200" stroke-width="1.15" stroke-linejoin="round"/>
<path d="M666.6,1146.8 L698.8,1141.0 L698.8,1147.2Z" fill="#dcfd2c" stroke="#0c1200" stroke-width="1.15" stroke-linejoin="round"/>
<path d="M748.7,1128.5 L759.8,1129.0 L792.4,1127.6 L792.4,1158.8 L748.7,1150.1Z" fill="#9cfd14" stroke="#0c1200" stroke-width="1.15" stroke-linejoin="round"/>
<path d="M748.7,1129.0 L759.8,1129.5 L792.4,1128.0 L792.4,1154.9 L748.7,1148.7Z" fill="#dcfd2c" stroke="#0c1200" stroke-width="1.15" stroke-linejoin="round"/>
<path d="M748.7,1141.5 L758.8,1142.2 L792.4,1143.2 L792.4,1147.2 L748.7,1148.0Z" fill="#f1cb1f" stroke="#0c1200" stroke-width="1.15" stroke-linejoin="round"/>
<path d="M534.5,1124.1 L542.0,1130.8 L544.9,1134.5 L547.2,1139.0 L557.6,1144.9 L573.2,1142.7 L591.8,1139.7 L597.0,1137.5 L601.5,1131.6 L621.5,1130.1 L650.0,1127.8 L650.0,1121.2 L532.3,1121.2Z" fill="#6afd08" stroke="#0c1200" stroke-width="1.15" stroke-linejoin="round"/>
<path d="M545.7,1124.5 L557.6,1131.9 L569.5,1131.6 L591.8,1130.1 L650.0,1125.6 L650.0,1121.2 L543.5,1121.2Z" fill="#68fd3a" stroke="#0c1200" stroke-width="1.15" stroke-linejoin="round"/>
<path d="M610.0,1148.7 L629.2,1148.2 L715.6,1150.1 L761.7,1164.5 L744.4,1171.2 L677.2,1171.2 L653.2,1166.5 L610.0,1154.9 L602.3,1153.0Z" fill="#6afd08" stroke="#0c1200" stroke-width="1.15" stroke-linejoin="round"/>
<path d="M610.0,1150.6 L643.6,1152.0 L696.4,1154.0 L730.0,1164.0 L715.6,1167.4 L677.2,1167.9 L638.8,1158.8 L610.0,1153.0Z" fill="#72fd0a" stroke="#0c1200" stroke-width="1.15" stroke-linejoin="round"/>
<path d="M677.2,1164.0 L700.2,1160.7 L727.1,1164.0 L700.2,1168.8Z" fill="#7cfd0a" stroke="#0c1200" stroke-width="1.15" stroke-linejoin="round"/>
<path d="M431.1,1095.5 L430.1,1081.4 L432.1,1064.2 L465.4,1058.7 L480.5,1064.2 L510.8,1070.3 L541.1,1074.3 L571.4,1076.3 L610.0,1077.3 L650.5,1074.8 L700.9,1072.8 L741.3,1074.3 L782.8,1077.8 L791.7,1078.3 L791.7,1120.2 L782.8,1120.2 L741.3,1120.7 L700.9,1122.2 L660.5,1124.2 L630.3,1128.2 L610.0,1131.3 L541.1,1130.8 L510.8,1127.8 L480.5,1120.7 L450.3,1106.6 L431.1,1095.5Z" fill="#6afd08" stroke="#0c1200" stroke-width="1.15" stroke-linejoin="round"/>
<path d="M439.2,1095.5 L448.2,1080.4 L463.4,1070.8 L490.6,1072.3 L520.9,1075.3 L561.3,1078.3 L610.0,1079.3 L650.5,1077.8 L700.9,1076.3 L741.3,1077.8 L782.8,1080.8 L791.7,1081.1 L791.7,1116.1 L782.8,1116.1 L741.3,1117.7 L700.9,1119.2 L660.5,1121.7 L630.3,1126.2 L610.0,1129.8 L561.3,1128.8 L520.9,1125.8 L490.6,1119.7 L460.4,1106.6 L439.2,1095.5Z" fill="#70fd1a" stroke="#0c1200" stroke-width="1.15" stroke-linejoin="round"/>
<path d="M447.2,1095.5 L464.4,1080.9 L482.6,1079.3 L510.8,1077.8 L541.1,1080.4 L610.0,1081.4 L650.5,1080.8 L700.9,1079.8 L741.3,1081.3 L782.8,1083.8 L791.7,1084.2 L791.7,1111.9 L782.8,1112.1 L741.3,1114.1 L700.9,1116.1 L660.5,1119.2 L630.3,1123.7 L610.0,1127.8 L561.3,1127.3 L531.0,1124.8 L500.7,1118.7 L470.4,1106.6 L447.2,1095.5Z" fill="#68fd3a" stroke="#0c1200" stroke-width="1.15" stroke-linejoin="round"/>
<path d="M455.3,1095.5 L468.4,1085.9 L495.7,1083.4 L510.8,1080.4 L541.1,1082.4 L610.0,1083.4 L650.5,1083.8 L700.9,1083.3 L741.3,1084.9 L782.8,1086.9 L791.7,1087.1 L791.7,1107.8 L782.8,1108.1 L741.3,1110.6 L700.9,1113.1 L660.5,1116.6 L630.3,1121.2 L610.0,1125.8 L541.1,1123.8 L510.8,1117.7 L480.5,1106.6 L455.3,1095.5Z" fill="#6efd6e" stroke="#0c1200" stroke-width="1.15" stroke-linejoin="round"/>
<path d="M463.4,1095.3 L476.5,1089.4 L510.8,1083.9 L541.1,1084.4 L610.0,1085.9 L650.5,1086.4 L700.9,1086.4 L741.3,1087.9 L782.8,1089.4 L791.7,1089.6 L791.7,1103.7 L782.8,1104.0 L741.3,1107.1 L700.9,1110.1 L660.5,1113.6 L630.3,1118.7 L610.0,1123.8 L551.2,1121.7 L520.9,1115.7 L490.6,1105.6 L463.4,1095.3Z" fill="#78fdc6" stroke="#0c1200" stroke-width="1.15" stroke-linejoin="round"/>
<path d="M473.5,1095.3 L490.6,1090.5 L510.8,1086.9 L541.1,1087.4 L610.0,1088.4 L650.5,1089.4 L700.9,1089.4 L741.3,1090.9 L782.8,1092.4 L791.7,1092.6 L791.7,1100.2 L782.8,1100.5 L741.3,1103.5 L700.9,1106.5 L660.5,1109.6 L630.3,1115.6 L610.0,1120.7 L561.3,1119.7 L531.0,1114.7 L500.7,1105.6 L473.5,1095.3Z" fill="#5efdee" stroke="#0c1200" stroke-width="1.15" stroke-linejoin="round"/>
<path d="M484.6,1095.3 L500.7,1091.5 L515.9,1090.0 L610.0,1090.0 L650.5,1090.9 L700.9,1091.9 L746.3,1093.4 L782.8,1095.0 L791.7,1095.2 L791.7,1097.7 L782.8,1098.0 L741.3,1100.0 L700.9,1102.5 L660.5,1105.5 L630.3,1112.6 L610.0,1117.7 L571.4,1116.7 L541.1,1112.7 L510.8,1104.6 L484.6,1095.3Z" fill="#3c8efd" stroke="#0c1200" stroke-width="1.15" stroke-linejoin="round"/>
<path d="M495.7,1095.3 L515.9,1092.0 L610.0,1092.0 L650.5,1092.4 L721.1,1094.4 L761.4,1095.5 L761.4,1095.5 L700.9,1098.0 L660.5,1100.0 L630.3,1106.5 L610.0,1113.7 L551.2,1110.6 L520.9,1102.6 L495.7,1095.3Z" fill="#2250fd" stroke="#0c1200" stroke-width="1.15" stroke-linejoin="round"/>
<path d="M505.8,1095.3 L520.9,1093.0 L610.0,1093.0 L610.1,1093.4 L648.4,1095.0 L677.7,1095.2 L677.7,1095.2 L650.5,1096.5 L625.2,1103.5 L610.0,1109.6 L561.3,1110.1 L531.0,1102.6 L505.8,1095.3Z" fill="#1c38fd" stroke="#0c1200" stroke-width="1.15" stroke-linejoin="round"/>
<path d="M533.0,1048.5 L537.2,1032.7 L558.7,1026.1 L582.7,1031.9 L607.6,1038.5 L630.8,1049.3 L612.5,1051.8 L582.7,1054.8 L557.9,1055.1Z" fill="#f1cb1f" stroke="#0c1200" stroke-width="1.15" stroke-linejoin="round"/>
<path d="M691.1,1234.1 L699.3,1220.2 L759.8,1234.1 L759.8,1239.4 L691.1,1239.4Z" fill="#f1cb1f" stroke="#0c1200" stroke-width="1.15" stroke-linejoin="round"/>
</g>
<rect x="698.8" y="1124.2" width="49.9" height="24.5" fill="#000"/>
<rect x="701.7" y="1127.1" width="43.7" height="18.7" fill="#fff"/>
</g>
<g id="panel-f">
<defs><clipPath id="clipF"><rect x="954.2" y="1039.8" width="781.8" height="224.0"/></clipPath></defs>
<g clip-path="url(#clipF)">
<rect x="949.2" y="1034.8" width="791.8" height="234.0" fill="#6cfd0a"/>
<path d="M939.8,1051.3 L954.2,1053.8 L992.5,1064.9 L1050.3,1072.5 L1077.5,1087.8 L1094.5,1094.6 L1136.9,1104.8 L1187.9,1113.3 L1230.4,1117.6 L1244.0,1120.1 L1262.7,1134.6 L1235.5,1140.5 L1204.9,1142.5 L1111.4,1143.1 L992.5,1143.4 L954.2,1141.4 L939.8,1141.4Z" fill="#68fd0c" stroke="#0c1200" stroke-width="1.15" stroke-linejoin="round"/>
<path d="M1250.0,1273.9 L1250.0,1263.7 L1238.9,1236.5 L1198.1,1228.0 L1184.5,1217.0 L1169.2,1211.9 L1154.8,1199.1 L1158.2,1189.8 L1170.9,1180.5 L1184.5,1176.7 L1221.9,1173.7 L1281.0,1172.0 L1330.3,1172.8 L1331.1,1180.5 L1325.2,1184.7 L1303.1,1189.8 L1316.7,1196.6 L1371.0,1199.1 L1377.8,1194.0 L1380.4,1182.2 L1376.2,1172.0 L1399.9,1166.9 L1419.5,1158.4 L1420.3,1165.2 L1450.9,1169.4 L1484.9,1172.8 L1496.8,1189.0 L1497.7,1195.8 L1495.1,1200.8 L1505.3,1214.4 L1512.1,1222.9 L1518.9,1236.5 L1522.3,1248.4 L1527.4,1263.7 L1528.2,1273.9Z" fill="#68fd0c" stroke="#0c1200" stroke-width="1.15" stroke-linejoin="round"/>
<path d="M1374.5,1263.7 L1384.7,1236.5 L1399.9,1221.2 L1413.5,1209.3 L1417.8,1200.8 L1414.4,1195.8 L1418.6,1182.2 L1444.1,1173.7 L1467.9,1173.3 L1468.9,1174.5 L1477.4,1185.5 L1474.8,1195.8 L1467.2,1200.0 L1465.5,1203.4 L1470.6,1212.7 L1481.6,1219.5 L1485.9,1231.4 L1490.1,1245.0 L1492.7,1263.7 L1493.5,1273.9 L1372.8,1273.9Z" fill="#6efd5a" stroke="#0c1200" stroke-width="1.15" stroke-linejoin="round"/>
<path d="M1439.0,1200.8 L1464.5,1203.4 L1467.2,1200.5" fill="none" stroke="#0c1200" stroke-width="1.2" stroke-linejoin="round"/>
<path d="M1159.0,1031.8 L1159.0,1039.7 L1182.8,1056.4 L1204.9,1064.9 L1238.9,1078.5 L1261.0,1088.7 L1269.9,1092.1 L1298.0,1104.0 L1340.5,1117.6 L1374.5,1127.8 L1399.9,1136.3 L1433.9,1146.5 L1459.4,1156.7 L1484.9,1165.2 L1501.9,1173.7 L1510.4,1182.2 L1522.3,1189.0 L1532.5,1199.1 L1539.3,1212.7 L1542.7,1222.9 L1550.5,1236.5 L1552.2,1248.4 L1558.1,1263.7 L1559.0,1273.9 L1746.0,1271.8 L1746.0,1031.8Z" fill="#8cfd12" stroke="#0c1200" stroke-width="1.15" stroke-linejoin="round"/>
<path d="M1588.7,1031.8 L1588.7,1039.7 L1584.5,1056.4 L1570.9,1073.4 L1559.0,1095.5 L1553.0,1119.3 L1558.1,1134.6 L1584.5,1147.3 L1609.9,1151.6 L1652.4,1155.0 L1652.4,1148.2 L1691.5,1148.2 L1694.9,1121.0 L1700.0,1113.3 L1736.0,1110.8 L1745.9,1110.4 L1746.0,1031.8Z" fill="#6cfd0a" stroke="#0c1200" stroke-width="1.15" stroke-linejoin="round"/>
<path d="M1578.5,1119.8 L1593.0,1105.7 L1605.7,1095.8 L1653.3,1096.3 L1664.3,1105.7 L1669.4,1119.3 L1660.9,1136.3 L1654.1,1142.2 L1606.5,1139.7 L1593.0,1133.7Z" fill="#68fd0c" stroke="#0c1200" stroke-width="1.15" stroke-linejoin="round"/>
<path d="M1679.6,1172.0 L1683.0,1185.5 L1688.1,1195.8 L1698.3,1200.0 L1728.9,1201.2 L1736.0,1203.4 L1745.9,1204.2 L1745.9,1164.7 L1736.0,1164.3 L1702.6,1162.6 L1702.6,1172.0Z" fill="#6cfd0a" stroke="#0c1200" stroke-width="1.15" stroke-linejoin="round"/>
<path d="M1700.9,1180.5 L1736.0,1179.6 L1745.9,1179.6 L1745.9,1187.2 L1736.0,1186.4 L1718.7,1184.7 L1701.7,1183.0Z" fill="#68fd0c" stroke="#0c1200" stroke-width="1.15" stroke-linejoin="round"/>
<path d="M1635.4,1165.2 L1652.4,1165.2" fill="none" stroke="#0c1200" stroke-width="1.15" stroke-linejoin="round"/>
<path d="M1250.7,1031.8 L1250.7,1039.7 L1264.0,1056.4 L1298.0,1075.1 L1325.2,1090.4 L1342.2,1104.0 L1374.5,1115.9 L1399.9,1127.8 L1425.4,1138.0 L1450.9,1146.5 L1476.4,1151.6 L1518.9,1161.8 L1537.5,1164.3 L1528.4,1172.0 L1519.9,1174.5 L1542.0,1187.2 L1562.4,1195.8 L1601.4,1200.0 L1626.9,1199.1 L1655.8,1197.4 L1661.8,1190.7 L1662.6,1182.2 L1655.8,1174.5 L1652.4,1172.8 L1635.4,1171.1 L1609.9,1166.9 L1576.0,1160.9 L1552.2,1156.7 L1540.3,1136.3 L1537.7,1121.0 L1536.9,1104.0 L1532.6,1087.0 L1530.1,1073.4 L1533.5,1061.5 L1536.9,1039.7 L1536.9,1031.8Z" fill="#d6fd2a" stroke="#0c1200" stroke-width="1.15" stroke-linejoin="round"/>
<path d="M1319.2,1031.8 L1319.2,1039.7 L1322.6,1056.4 L1335.4,1073.4 L1352.4,1088.7 L1366.0,1100.6 L1383.0,1112.5 L1399.9,1121.0 L1433.9,1131.2 L1467.9,1144.8 L1501.9,1148.5 L1521.5,1147.3 L1520.6,1131.2 L1517.2,1104.0 L1508.7,1092.1 L1501.9,1075.1 L1498.5,1039.7 L1498.5,1031.8Z" fill="#fba61e" stroke="#0c1200" stroke-width="1.15" stroke-linejoin="round"/>
<path d="M1394.8,1031.8 L1394.8,1039.7 L1383.0,1056.4 L1371.0,1072.5 L1379.5,1087.0 L1391.4,1104.0 L1408.4,1115.9 L1433.9,1126.1 L1466.2,1138.0 L1486.6,1134.6 L1501.1,1119.3 L1496.8,1104.0 L1484.9,1087.0 L1474.7,1070.0 L1466.2,1056.4 L1452.6,1039.7 L1452.6,1031.8Z" fill="#fd3c14" stroke="#0c1200" stroke-width="1.15" stroke-linejoin="round"/>
<path d="M1419.5,1070.0 L1410.1,1076.8 L1406.7,1088.7 L1411.8,1104.0 L1425.4,1112.5 L1447.5,1122.7 L1466.2,1129.1 L1483.2,1119.3 L1479.8,1107.4 L1474.7,1098.9 L1466.2,1090.4 L1442.4,1080.2Z" fill="#fd0f18" stroke="#0c1200" stroke-width="1.15" stroke-linejoin="round"/>
<path d="M1554.7,1173.7 L1570.9,1173.3 L1584.5,1181.3 L1559.0,1182.2Z" fill="#fba61e" stroke="#0c1200" stroke-width="1.15" stroke-linejoin="round"/>
<path d="M1592.1,1219.5 L1607.4,1213.6 L1637.1,1219.5 L1643.9,1228.0 L1643.1,1236.5 L1607.4,1247.6 L1602.3,1236.5 L1593.8,1226.3Z" fill="#d6fd2a" stroke="#0c1200" stroke-width="1.15" stroke-linejoin="round"/>
</g>
<rect x="1652.4" y="1148.2" width="50.1" height="25.5" fill="#000"/>
<rect x="1655.5" y="1151.9" width="44.0" height="18.3" fill="#fff"/>
</g>
<rect x="793" y="37.70" width="30.80" height="11.50" fill="#fd0f18"/>
<rect x="793" y="49.20" width="30.80" height="23.45" fill="#fd2a16"/>
<rect x="793" y="72.65" width="30.80" height="23.45" fill="#fd6c1a"/>
<rect x="793" y="96.10" width="30.80" height="23.45" fill="#f5be22"/>
<rect x="793" y="119.55" width="30.80" height="23.45" fill="#d6fd2a"/>
<rect x="793" y="143.00" width="30.80" height="23.45" fill="#98fd14"/>
<rect x="793" y="166.45" width="30.80" height="23.45" fill="#78fd0a"/>
<rect x="793" y="189.90" width="30.80" height="23.45" fill="#6cfd0a"/>
<rect x="793" y="213.35" width="30.80" height="23.45" fill="#66fd0a"/>
<rect x="793" y="236.80" width="30.80" height="23.45" fill="#68fd3a"/>
<rect x="793" y="260.25" width="30.80" height="23.45" fill="#6efd6e"/>
<rect x="793" y="283.70" width="30.80" height="23.45" fill="#74fdbe"/>
<rect x="793" y="307.15" width="30.80" height="23.45" fill="#58fdf4"/>
<rect x="793" y="330.60" width="30.80" height="23.45" fill="#3c8cfd"/>
<rect x="793" y="354.05" width="30.80" height="23.45" fill="#2250fd"/>
<rect x="793" y="377.50" width="30.80" height="13.00" fill="#1c38fd"/>
<line x1="793" x2="823.8" y1="49.20" y2="49.20" stroke="#111" stroke-width="1.2"/>
<line x1="793" x2="823.8" y1="72.65" y2="72.65" stroke="#111" stroke-width="1.2"/>
<line x1="793" x2="823.8" y1="96.10" y2="96.10" stroke="#111" stroke-width="1.2"/>
<line x1="793" x2="823.8" y1="119.55" y2="119.55" stroke="#111" stroke-width="1.2"/>
<line x1="793" x2="823.8" y1="143.00" y2="143.00" stroke="#111" stroke-width="1.2"/>
<line x1="793" x2="823.8" y1="166.45" y2="166.45" stroke="#111" stroke-width="1.2"/>
<line x1="793" x2="823.8" y1="189.90" y2="189.90" stroke="#111" stroke-width="1.2"/>
<line x1="793" x2="823.8" y1="213.35" y2="213.35" stroke="#111" stroke-width="1.2"/>
<line x1="793" x2="823.8" y1="236.80" y2="236.80" stroke="#111" stroke-width="1.2"/>
<line x1="793" x2="823.8" y1="260.25" y2="260.25" stroke="#111" stroke-width="1.2"/>
<line x1="793" x2="823.8" y1="283.70" y2="283.70" stroke="#111" stroke-width="1.2"/>
<line x1="793" x2="823.8" y1="307.15" y2="307.15" stroke="#111" stroke-width="1.2"/>
<line x1="793" x2="823.8" y1="330.60" y2="330.60" stroke="#111" stroke-width="1.2"/>
<line x1="793" x2="823.8" y1="354.05" y2="354.05" stroke="#111" stroke-width="1.2"/>
<line x1="793" x2="823.8" y1="377.50" y2="377.50" stroke="#111" stroke-width="1.2"/>
<rect x="793" y="37.7" width="30.80" height="352.80" fill="none" stroke="#1a0a0a" stroke-width="1.1"/>
<text class="t lab" style="font-size:25.6px" x="827.8" y="60.00"><tspan dy="2.1">−</tspan><tspan dy="-2.1">2</tspan></text>
<text class="t lab" style="font-size:25.6px" x="827.8" y="83.47"><tspan dy="2.1">−</tspan><tspan dy="-2.1">4</tspan></text>
<text class="t lab" style="font-size:25.6px" x="827.8" y="106.94"><tspan dy="2.1">−</tspan><tspan dy="-2.1">6</tspan></text>
<text class="t lab" style="font-size:25.6px" x="827.8" y="130.41"><tspan dy="2.1">−</tspan><tspan dy="-2.1">8</tspan></text>
<text class="t lab" style="font-size:25.6px" x="827.8" y="153.88"><tspan dy="2.1">−</tspan><tspan dy="-2.1">10</tspan></text>
<text class="t lab" style="font-size:25.6px" x="827.8" y="177.35"><tspan dy="2.1">−</tspan><tspan dy="-2.1">12</tspan></text>
<text class="t lab" style="font-size:25.6px" x="827.8" y="200.82"><tspan dy="2.1">−</tspan><tspan dy="-2.1">14</tspan></text>
<text class="t lab" style="font-size:25.6px" x="827.8" y="224.29"><tspan dy="2.1">−</tspan><tspan dy="-2.1">16</tspan></text>
<text class="t lab" style="font-size:25.6px" x="827.8" y="247.76"><tspan dy="2.1">−</tspan><tspan dy="-2.1">18</tspan></text>
<text class="t lab" style="font-size:25.6px" x="827.8" y="271.23"><tspan dy="2.1">−</tspan><tspan dy="-2.1">20</tspan></text>
<text class="t lab" style="font-size:25.6px" x="827.8" y="294.70"><tspan dy="2.1">−</tspan><tspan dy="-2.1">22</tspan></text>
<text class="t lab" style="font-size:25.6px" x="827.8" y="318.17"><tspan dy="2.1">−</tspan><tspan dy="-2.1">24</tspan></text>
<text class="t lab" style="font-size:25.6px" x="827.8" y="341.64"><tspan dy="2.1">−</tspan><tspan dy="-2.1">26</tspan></text>
<text class="t lab" style="font-size:25.6px" x="827.8" y="365.11"><tspan dy="2.1">−</tspan><tspan dy="-2.1">28</tspan></text>
<text class="t lab" style="font-size:25.6px" x="827.8" y="388.58"><tspan dy="2.1">−</tspan><tspan dy="-2.1">30</tspan></text>
<text class="t ttl" x="782" y="27.3" textLength="125.5" lengthAdjust="spacingAndGlyphs"><tspan font-style="italic">SZZ</tspan>/MPa</text>
<rect x="1747.3" y="63.60" width="27.20" height="10.25" fill="#fd0f18"/>
<rect x="1747.3" y="73.85" width="27.20" height="20.73" fill="#fd2a16"/>
<rect x="1747.3" y="94.58" width="27.20" height="20.73" fill="#fd6c1a"/>
<rect x="1747.3" y="115.31" width="27.20" height="20.73" fill="#f5be22"/>
<rect x="1747.3" y="136.04" width="27.20" height="20.73" fill="#d6fd2a"/>
<rect x="1747.3" y="156.77" width="27.20" height="20.73" fill="#98fd14"/>
<rect x="1747.3" y="177.50" width="27.20" height="20.73" fill="#78fd0a"/>
<rect x="1747.3" y="198.23" width="27.20" height="20.73" fill="#6cfd0a"/>
<rect x="1747.3" y="218.96" width="27.20" height="20.73" fill="#66fd0a"/>
<rect x="1747.3" y="239.69" width="27.20" height="20.73" fill="#68fd3a"/>
<rect x="1747.3" y="260.42" width="27.20" height="20.73" fill="#6efd6e"/>
<rect x="1747.3" y="281.15" width="27.20" height="20.73" fill="#74fdbe"/>
<rect x="1747.3" y="301.88" width="27.20" height="20.73" fill="#58fdf4"/>
<rect x="1747.3" y="322.61" width="27.20" height="20.73" fill="#3c8cfd"/>
<rect x="1747.3" y="343.34" width="27.20" height="20.73" fill="#2250fd"/>
<rect x="1747.3" y="364.07" width="27.20" height="10.53" fill="#1c38fd"/>
<line x1="1747.3" x2="1774.5" y1="73.85" y2="73.85" stroke="#111" stroke-width="1.2"/>
<line x1="1747.3" x2="1774.5" y1="94.58" y2="94.58" stroke="#111" stroke-width="1.2"/>
<line x1="1747.3" x2="1774.5" y1="115.31" y2="115.31" stroke="#111" stroke-width="1.2"/>
<line x1="1747.3" x2="1774.5" y1="136.04" y2="136.04" stroke="#111" stroke-width="1.2"/>
<line x1="1747.3" x2="1774.5" y1="156.77" y2="156.77" stroke="#111" stroke-width="1.2"/>
<line x1="1747.3" x2="1774.5" y1="177.50" y2="177.50" stroke="#111" stroke-width="1.2"/>
<line x1="1747.3" x2="1774.5" y1="198.23" y2="198.23" stroke="#111" stroke-width="1.2"/>
<line x1="1747.3" x2="1774.5" y1="218.96" y2="218.96" stroke="#111" stroke-width="1.2"/>
<line x1="1747.3" x2="1774.5" y1="239.69" y2="239.69" stroke="#111" stroke-width="1.2"/>
<line x1="1747.3" x2="1774.5" y1="260.42" y2="260.42" stroke="#111" stroke-width="1.2"/>
<line x1="1747.3" x2="1774.5" y1="281.15" y2="281.15" stroke="#111" stroke-width="1.2"/>
<line x1="1747.3" x2="1774.5" y1="301.88" y2="301.88" stroke="#111" stroke-width="1.2"/>
<line x1="1747.3" x2="1774.5" y1="322.61" y2="322.61" stroke="#111" stroke-width="1.2"/>
<line x1="1747.3" x2="1774.5" y1="343.34" y2="343.34" stroke="#111" stroke-width="1.2"/>
<line x1="1747.3" x2="1774.5" y1="364.07" y2="364.07" stroke="#111" stroke-width="1.2"/>
<rect x="1747.3" y="63.6" width="27.20" height="311.00" fill="none" stroke="#1a0a0a" stroke-width="1.1"/>
<text class="t lab" style="font-size:25.6px" x="1777.8" y="85.14"><tspan dy="2.1">−</tspan><tspan dy="-2.1">2</tspan></text>
<text class="t lab" style="font-size:25.6px" x="1777.8" y="105.83"><tspan dy="2.1">−</tspan><tspan dy="-2.1">4</tspan></text>
<text class="t lab" style="font-size:25.6px" x="1777.8" y="126.52"><tspan dy="2.1">−</tspan><tspan dy="-2.1">6</tspan></text>
<text class="t lab" style="font-size:25.6px" x="1777.8" y="147.21"><tspan dy="2.1">−</tspan><tspan dy="-2.1">8</tspan></text>
<text class="t lab" style="font-size:25.6px" x="1777.8" y="167.90"><tspan dy="2.1">−</tspan><tspan dy="-2.1">10</tspan></text>
<text class="t lab" style="font-size:25.6px" x="1777.8" y="188.59"><tspan dy="2.1">−</tspan><tspan dy="-2.1">12</tspan></text>
<text class="t lab" style="font-size:25.6px" x="1777.8" y="209.28"><tspan dy="2.1">−</tspan><tspan dy="-2.1">14</tspan></text>
<text class="t lab" style="font-size:25.6px" x="1777.8" y="229.97"><tspan dy="2.1">−</tspan><tspan dy="-2.1">16</tspan></text>
<text class="t lab" style="font-size:25.6px" x="1777.8" y="250.66"><tspan dy="2.1">−</tspan><tspan dy="-2.1">18</tspan></text>
<text class="t lab" style="font-size:25.6px" x="1777.8" y="271.35"><tspan dy="2.1">−</tspan><tspan dy="-2.1">20</tspan></text>
<text class="t lab" style="font-size:25.6px" x="1777.8" y="292.04"><tspan dy="2.1">−</tspan><tspan dy="-2.1">22</tspan></text>
<text class="t lab" style="font-size:25.6px" x="1777.8" y="312.73"><tspan dy="2.1">−</tspan><tspan dy="-2.1">24</tspan></text>
<text class="t lab" style="font-size:25.6px" x="1777.8" y="333.42"><tspan dy="2.1">−</tspan><tspan dy="-2.1">26</tspan></text>
<text class="t lab" style="font-size:25.6px" x="1777.8" y="354.11"><tspan dy="2.1">−</tspan><tspan dy="-2.1">28</tspan></text>
<text class="t lab" style="font-size:25.6px" x="1777.8" y="374.80"><tspan dy="2.1">−</tspan><tspan dy="-2.1">30</tspan></text>
<text class="t ttl" x="1732.5" y="54" textLength="125.5" lengthAdjust="spacingAndGlyphs"><tspan font-style="italic">SZZ</tspan>/MPa</text>
<rect x="778.5" y="512.80" width="30.20" height="11.80" fill="#fd0f18"/>
<rect x="778.5" y="524.60" width="30.20" height="23.76" fill="#fd2a16"/>
<rect x="778.5" y="548.36" width="30.20" height="23.76" fill="#fd6c1a"/>
<rect x="778.5" y="572.12" width="30.20" height="23.76" fill="#f5be22"/>
<rect x="778.5" y="595.88" width="30.20" height="23.76" fill="#d6fd2a"/>
<rect x="778.5" y="619.64" width="30.20" height="23.76" fill="#98fd14"/>
<rect x="778.5" y="643.40" width="30.20" height="23.76" fill="#78fd0a"/>
<rect x="778.5" y="667.16" width="30.20" height="23.76" fill="#6cfd0a"/>
<rect x="778.5" y="690.92" width="30.20" height="23.76" fill="#66fd0a"/>
<rect x="778.5" y="714.68" width="30.20" height="23.76" fill="#68fd3a"/>
<rect x="778.5" y="738.44" width="30.20" height="23.76" fill="#6efd6e"/>
<rect x="778.5" y="762.20" width="30.20" height="23.76" fill="#74fdbe"/>
<rect x="778.5" y="785.96" width="30.20" height="23.76" fill="#58fdf4"/>
<rect x="778.5" y="809.72" width="30.20" height="23.76" fill="#3c8cfd"/>
<rect x="778.5" y="833.48" width="30.20" height="23.76" fill="#2250fd"/>
<rect x="778.5" y="857.24" width="30.20" height="11.76" fill="#1c38fd"/>
<line x1="778.5" x2="808.7" y1="524.60" y2="524.60" stroke="#111" stroke-width="1.2"/>
<line x1="778.5" x2="808.7" y1="548.36" y2="548.36" stroke="#111" stroke-width="1.2"/>
<line x1="778.5" x2="808.7" y1="572.12" y2="572.12" stroke="#111" stroke-width="1.2"/>
<line x1="778.5" x2="808.7" y1="595.88" y2="595.88" stroke="#111" stroke-width="1.2"/>
<line x1="778.5" x2="808.7" y1="619.64" y2="619.64" stroke="#111" stroke-width="1.2"/>
<line x1="778.5" x2="808.7" y1="643.40" y2="643.40" stroke="#111" stroke-width="1.2"/>
<line x1="778.5" x2="808.7" y1="667.16" y2="667.16" stroke="#111" stroke-width="1.2"/>
<line x1="778.5" x2="808.7" y1="690.92" y2="690.92" stroke="#111" stroke-width="1.2"/>
<line x1="778.5" x2="808.7" y1="714.68" y2="714.68" stroke="#111" stroke-width="1.2"/>
<line x1="778.5" x2="808.7" y1="738.44" y2="738.44" stroke="#111" stroke-width="1.2"/>
<line x1="778.5" x2="808.7" y1="762.20" y2="762.20" stroke="#111" stroke-width="1.2"/>
<line x1="778.5" x2="808.7" y1="785.96" y2="785.96" stroke="#111" stroke-width="1.2"/>
<line x1="778.5" x2="808.7" y1="809.72" y2="809.72" stroke="#111" stroke-width="1.2"/>
<line x1="778.5" x2="808.7" y1="833.48" y2="833.48" stroke="#111" stroke-width="1.2"/>
<line x1="778.5" x2="808.7" y1="857.24" y2="857.24" stroke="#111" stroke-width="1.2"/>
<rect x="778.5" y="512.8" width="30.20" height="356.20" fill="none" stroke="#1a0a0a" stroke-width="1.1"/>
<text class="t lab" style="font-size:25.6px" x="814.6" y="535.60"><tspan dy="2.1">−</tspan><tspan dy="-2.1">20</tspan></text>
<text class="t lab" style="font-size:25.6px" x="814.6" y="559.28"><tspan dy="2.1">−</tspan><tspan dy="-2.1">40</tspan></text>
<text class="t lab" style="font-size:25.6px" x="814.6" y="582.96"><tspan dy="2.1">−</tspan><tspan dy="-2.1">60</tspan></text>
<text class="t lab" style="font-size:25.6px" x="814.6" y="606.64"><tspan dy="2.1">−</tspan><tspan dy="-2.1">80</tspan></text>
<text class="t lab" style="font-size:25.6px" x="814.6" y="630.32"><tspan dy="2.1">−</tspan><tspan dy="-2.1">100</tspan></text>
<text class="t lab" style="font-size:25.6px" x="814.6" y="654.00"><tspan dy="2.1">−</tspan><tspan dy="-2.1">120</tspan></text>
<text class="t lab" style="font-size:25.6px" x="814.6" y="677.68"><tspan dy="2.1">−</tspan><tspan dy="-2.1">140</tspan></text>
<text class="t lab" style="font-size:25.6px" x="814.6" y="701.36"><tspan dy="2.1">−</tspan><tspan dy="-2.1">160</tspan></text>
<text class="t lab" style="font-size:25.6px" x="814.6" y="725.04"><tspan dy="2.1">−</tspan><tspan dy="-2.1">180</tspan></text>
<text class="t lab" style="font-size:25.6px" x="814.6" y="748.72"><tspan dy="2.1">−</tspan><tspan dy="-2.1">200</tspan></text>
<text class="t lab" style="font-size:25.6px" x="814.6" y="772.40"><tspan dy="2.1">−</tspan><tspan dy="-2.1">220</tspan></text>
<text class="t lab" style="font-size:25.6px" x="814.6" y="796.08"><tspan dy="2.1">−</tspan><tspan dy="-2.1">240</tspan></text>
<text class="t lab" style="font-size:25.6px" x="814.6" y="819.76"><tspan dy="2.1">−</tspan><tspan dy="-2.1">260</tspan></text>
<text class="t lab" style="font-size:25.6px" x="814.6" y="843.44"><tspan dy="2.1">−</tspan><tspan dy="-2.1">280</tspan></text>
<text class="t lab" style="font-size:25.6px" x="814.6" y="867.12"><tspan dy="2.1">−</tspan><tspan dy="-2.1">300</tspan></text>
<text class="t ttl" x="779" y="501.7" textLength="151" lengthAdjust="spacingAndGlyphs"><tspan font-style="italic">ZDISP</tspan>/mm</text>
<rect x="1740.2" y="548.00" width="26.60" height="10.60" fill="#fd0f18"/>
<rect x="1740.2" y="558.60" width="26.60" height="20.66" fill="#fd2a16"/>
<rect x="1740.2" y="579.26" width="26.60" height="20.66" fill="#fd6c1a"/>
<rect x="1740.2" y="599.92" width="26.60" height="20.66" fill="#f5be22"/>
<rect x="1740.2" y="620.58" width="26.60" height="20.66" fill="#d6fd2a"/>
<rect x="1740.2" y="641.24" width="26.60" height="20.66" fill="#98fd14"/>
<rect x="1740.2" y="661.90" width="26.60" height="20.66" fill="#78fd0a"/>
<rect x="1740.2" y="682.56" width="26.60" height="20.66" fill="#6cfd0a"/>
<rect x="1740.2" y="703.22" width="26.60" height="20.66" fill="#66fd0a"/>
<rect x="1740.2" y="723.88" width="26.60" height="20.66" fill="#68fd3a"/>
<rect x="1740.2" y="744.54" width="26.60" height="20.66" fill="#6efd6e"/>
<rect x="1740.2" y="765.20" width="26.60" height="20.66" fill="#74fdbe"/>
<rect x="1740.2" y="785.86" width="26.60" height="20.66" fill="#58fdf4"/>
<rect x="1740.2" y="806.52" width="26.60" height="20.66" fill="#3c8cfd"/>
<rect x="1740.2" y="827.18" width="26.60" height="20.66" fill="#2250fd"/>
<rect x="1740.2" y="847.84" width="26.60" height="10.86" fill="#1c38fd"/>
<line x1="1740.2" x2="1766.8" y1="558.60" y2="558.60" stroke="#111" stroke-width="1.2"/>
<line x1="1740.2" x2="1766.8" y1="579.26" y2="579.26" stroke="#111" stroke-width="1.2"/>
<line x1="1740.2" x2="1766.8" y1="599.92" y2="599.92" stroke="#111" stroke-width="1.2"/>
<line x1="1740.2" x2="1766.8" y1="620.58" y2="620.58" stroke="#111" stroke-width="1.2"/>
<line x1="1740.2" x2="1766.8" y1="641.24" y2="641.24" stroke="#111" stroke-width="1.2"/>
<line x1="1740.2" x2="1766.8" y1="661.90" y2="661.90" stroke="#111" stroke-width="1.2"/>
<line x1="1740.2" x2="1766.8" y1="682.56" y2="682.56" stroke="#111" stroke-width="1.2"/>
<line x1="1740.2" x2="1766.8" y1="703.22" y2="703.22" stroke="#111" stroke-width="1.2"/>
<line x1="1740.2" x2="1766.8" y1="723.88" y2="723.88" stroke="#111" stroke-width="1.2"/>
<line x1="1740.2" x2="1766.8" y1="744.54" y2="744.54" stroke="#111" stroke-width="1.2"/>
<line x1="1740.2" x2="1766.8" y1="765.20" y2="765.20" stroke="#111" stroke-width="1.2"/>
<line x1="1740.2" x2="1766.8" y1="785.86" y2="785.86" stroke="#111" stroke-width="1.2"/>
<line x1="1740.2" x2="1766.8" y1="806.52" y2="806.52" stroke="#111" stroke-width="1.2"/>
<line x1="1740.2" x2="1766.8" y1="827.18" y2="827.18" stroke="#111" stroke-width="1.2"/>
<line x1="1740.2" x2="1766.8" y1="847.84" y2="847.84" stroke="#111" stroke-width="1.2"/>
<rect x="1740.2" y="548" width="26.60" height="310.70" fill="none" stroke="#1a0a0a" stroke-width="1.1"/>
<text class="t lab" style="font-size:25.6px" x="1767.8" y="571.25"><tspan dy="2.1">−</tspan><tspan dy="-2.1">20</tspan></text>
<text class="t lab" style="font-size:25.6px" x="1767.8" y="591.89"><tspan dy="2.1">−</tspan><tspan dy="-2.1">40</tspan></text>
<text class="t lab" style="font-size:25.6px" x="1767.8" y="612.53"><tspan dy="2.1">−</tspan><tspan dy="-2.1">60</tspan></text>
<text class="t lab" style="font-size:25.6px" x="1767.8" y="633.17"><tspan dy="2.1">−</tspan><tspan dy="-2.1">80</tspan></text>
<text class="t lab" style="font-size:25.6px" x="1767.8" y="653.81"><tspan dy="2.1">−</tspan><tspan dy="-2.1">100</tspan></text>
<text class="t lab" style="font-size:25.6px" x="1767.8" y="674.45"><tspan dy="2.1">−</tspan><tspan dy="-2.1">120</tspan></text>
<text class="t lab" style="font-size:25.6px" x="1767.8" y="695.09"><tspan dy="2.1">−</tspan><tspan dy="-2.1">140</tspan></text>
<text class="t lab" style="font-size:25.6px" x="1767.8" y="715.73"><tspan dy="2.1">−</tspan><tspan dy="-2.1">160</tspan></text>
<text class="t lab" style="font-size:25.6px" x="1767.8" y="736.37"><tspan dy="2.1">−</tspan><tspan dy="-2.1">180</tspan></text>
<text class="t lab" style="font-size:25.6px" x="1767.8" y="757.01"><tspan dy="2.1">−</tspan><tspan dy="-2.1">200</tspan></text>
<text class="t lab" style="font-size:25.6px" x="1767.8" y="777.65"><tspan dy="2.1">−</tspan><tspan dy="-2.1">220</tspan></text>
<text class="t lab" style="font-size:25.6px" x="1767.8" y="798.29"><tspan dy="2.1">−</tspan><tspan dy="-2.1">240</tspan></text>
<text class="t lab" style="font-size:25.6px" x="1767.8" y="818.93"><tspan dy="2.1">−</tspan><tspan dy="-2.1">260</tspan></text>
<text class="t lab" style="font-size:25.6px" x="1767.8" y="839.57"><tspan dy="2.1">−</tspan><tspan dy="-2.1">280</tspan></text>
<text class="t lab" style="font-size:25.6px" x="1767.8" y="860.21"><tspan dy="2.1">−</tspan><tspan dy="-2.1">300</tspan></text>
<text class="t ttl" x="1731.8" y="536.9" textLength="151" lengthAdjust="spacingAndGlyphs"><tspan font-style="italic">ZDISP</tspan>/mm</text>
<rect x="791" y="977.50" width="26.90" height="10.50" fill="#fd0f18"/>
<rect x="791" y="988.00" width="26.90" height="21.05" fill="#fd2a16"/>
<rect x="791" y="1009.05" width="26.90" height="21.05" fill="#fd6c1a"/>
<rect x="791" y="1030.10" width="26.90" height="21.05" fill="#f5be22"/>
<rect x="791" y="1051.15" width="26.90" height="21.05" fill="#d6fd2a"/>
<rect x="791" y="1072.20" width="26.90" height="21.05" fill="#98fd14"/>
<rect x="791" y="1093.25" width="26.90" height="21.05" fill="#78fd0a"/>
<rect x="791" y="1114.30" width="26.90" height="21.05" fill="#6cfd0a"/>
<rect x="791" y="1135.35" width="26.90" height="21.05" fill="#66fd0a"/>
<rect x="791" y="1156.40" width="26.90" height="21.05" fill="#68fd3a"/>
<rect x="791" y="1177.45" width="26.90" height="21.05" fill="#6efd6e"/>
<rect x="791" y="1198.50" width="26.90" height="21.05" fill="#74fdbe"/>
<rect x="791" y="1219.55" width="26.90" height="21.05" fill="#58fdf4"/>
<rect x="791" y="1240.60" width="26.90" height="21.05" fill="#3c8cfd"/>
<rect x="791" y="1261.65" width="26.90" height="21.05" fill="#2250fd"/>
<rect x="791" y="1282.70" width="26.90" height="10.80" fill="#1c38fd"/>
<line x1="791" x2="817.9" y1="988.00" y2="988.00" stroke="#111" stroke-width="1.2"/>
<line x1="791" x2="817.9" y1="1009.05" y2="1009.05" stroke="#111" stroke-width="1.2"/>
<line x1="791" x2="817.9" y1="1030.10" y2="1030.10" stroke="#111" stroke-width="1.2"/>
<line x1="791" x2="817.9" y1="1051.15" y2="1051.15" stroke="#111" stroke-width="1.2"/>
<line x1="791" x2="817.9" y1="1072.20" y2="1072.20" stroke="#111" stroke-width="1.2"/>
<line x1="791" x2="817.9" y1="1093.25" y2="1093.25" stroke="#111" stroke-width="1.2"/>
<line x1="791" x2="817.9" y1="1114.30" y2="1114.30" stroke="#111" stroke-width="1.2"/>
<line x1="791" x2="817.9" y1="1135.35" y2="1135.35" stroke="#111" stroke-width="1.2"/>
<line x1="791" x2="817.9" y1="1156.40" y2="1156.40" stroke="#111" stroke-width="1.2"/>
<line x1="791" x2="817.9" y1="1177.45" y2="1177.45" stroke="#111" stroke-width="1.2"/>
<line x1="791" x2="817.9" y1="1198.50" y2="1198.50" stroke="#111" stroke-width="1.2"/>
<line x1="791" x2="817.9" y1="1219.55" y2="1219.55" stroke="#111" stroke-width="1.2"/>
<line x1="791" x2="817.9" y1="1240.60" y2="1240.60" stroke="#111" stroke-width="1.2"/>
<line x1="791" x2="817.9" y1="1261.65" y2="1261.65" stroke="#111" stroke-width="1.2"/>
<line x1="791" x2="817.9" y1="1282.70" y2="1282.70" stroke="#111" stroke-width="1.2"/>
<rect x="791" y="977.5" width="26.90" height="316.00" fill="none" stroke="#1a0a0a" stroke-width="1.1"/>
<text class="t lab" style="font-size:25.6px" x="823.6" y="999.30">0</text>
<text class="t lab" style="font-size:25.6px" x="822.6" y="1020.24"><tspan dy="2.1">−</tspan><tspan dy="-2.1">2</tspan></text>
<text class="t lab" style="font-size:25.6px" x="822.6" y="1041.18"><tspan dy="2.1">−</tspan><tspan dy="-2.1">4</tspan></text>
<text class="t lab" style="font-size:25.6px" x="822.6" y="1062.12"><tspan dy="2.1">−</tspan><tspan dy="-2.1">6</tspan></text>
<text class="t lab" style="font-size:25.6px" x="822.6" y="1083.06"><tspan dy="2.1">−</tspan><tspan dy="-2.1">8</tspan></text>
<text class="t lab" style="font-size:25.6px" x="822.6" y="1104.00"><tspan dy="2.1">−</tspan><tspan dy="-2.1">10</tspan></text>
<text class="t lab" style="font-size:25.6px" x="822.6" y="1124.94"><tspan dy="2.1">−</tspan><tspan dy="-2.1">12</tspan></text>
<text class="t lab" style="font-size:25.6px" x="822.6" y="1145.88"><tspan dy="2.1">−</tspan><tspan dy="-2.1">14</tspan></text>
<text class="t lab" style="font-size:25.6px" x="822.6" y="1166.82"><tspan dy="2.1">−</tspan><tspan dy="-2.1">16</tspan></text>
<text class="t lab" style="font-size:25.6px" x="822.6" y="1187.76"><tspan dy="2.1">−</tspan><tspan dy="-2.1">18</tspan></text>
<text class="t lab" style="font-size:25.6px" x="822.6" y="1208.70"><tspan dy="2.1">−</tspan><tspan dy="-2.1">20</tspan></text>
<text class="t lab" style="font-size:25.6px" x="822.6" y="1229.64"><tspan dy="2.1">−</tspan><tspan dy="-2.1">22</tspan></text>
<text class="t lab" style="font-size:25.6px" x="822.6" y="1250.58"><tspan dy="2.1">−</tspan><tspan dy="-2.1">24</tspan></text>
<text class="t lab" style="font-size:25.6px" x="822.6" y="1271.52"><tspan dy="2.1">−</tspan><tspan dy="-2.1">26</tspan></text>
<text class="t lab" style="font-size:25.6px" x="822.6" y="1292.46"><tspan dy="2.1">−</tspan><tspan dy="-2.1">28</tspan></text>
<text class="t ttl" x="777" y="970.6" textLength="125.5" lengthAdjust="spacingAndGlyphs"><tspan font-style="italic">SYY</tspan>/MPa</text>
<rect x="1744.3" y="1035.10" width="27.40" height="10.30" fill="#fd0f18"/>
<rect x="1744.3" y="1045.40" width="27.40" height="21.20" fill="#fd3c14"/>
<rect x="1744.3" y="1066.60" width="27.40" height="21.20" fill="#fba61e"/>
<rect x="1744.3" y="1087.80" width="27.40" height="21.20" fill="#d6fd2a"/>
<rect x="1744.3" y="1109.00" width="27.40" height="21.20" fill="#8cfd12"/>
<rect x="1744.3" y="1130.20" width="27.40" height="21.20" fill="#6cfd0a"/>
<rect x="1744.3" y="1151.40" width="27.40" height="21.20" fill="#6cfd0a"/>
<rect x="1744.3" y="1172.60" width="27.40" height="21.20" fill="#6efd5a"/>
<rect x="1744.3" y="1193.80" width="27.40" height="21.20" fill="#74fdbe"/>
<rect x="1744.3" y="1215.00" width="27.40" height="21.20" fill="#54e6fd"/>
<rect x="1744.3" y="1236.20" width="27.40" height="21.20" fill="#2250fd"/>
<rect x="1744.3" y="1257.40" width="27.40" height="10.90" fill="#1c38fd"/>
<line x1="1744.3" x2="1771.7" y1="1045.40" y2="1045.40" stroke="#111" stroke-width="1.2"/>
<line x1="1744.3" x2="1771.7" y1="1066.60" y2="1066.60" stroke="#111" stroke-width="1.2"/>
<line x1="1744.3" x2="1771.7" y1="1087.80" y2="1087.80" stroke="#111" stroke-width="1.2"/>
<line x1="1744.3" x2="1771.7" y1="1109.00" y2="1109.00" stroke="#111" stroke-width="1.2"/>
<line x1="1744.3" x2="1771.7" y1="1130.20" y2="1130.20" stroke="#111" stroke-width="1.2"/>
<line x1="1744.3" x2="1771.7" y1="1151.40" y2="1151.40" stroke="#111" stroke-width="1.2"/>
<line x1="1744.3" x2="1771.7" y1="1172.60" y2="1172.60" stroke="#111" stroke-width="1.2"/>
<line x1="1744.3" x2="1771.7" y1="1193.80" y2="1193.80" stroke="#111" stroke-width="1.2"/>
<line x1="1744.3" x2="1771.7" y1="1215.00" y2="1215.00" stroke="#111" stroke-width="1.2"/>
<line x1="1744.3" x2="1771.7" y1="1236.20" y2="1236.20" stroke="#111" stroke-width="1.2"/>
<line x1="1744.3" x2="1771.7" y1="1257.40" y2="1257.40" stroke="#111" stroke-width="1.2"/>
<rect x="1744.3" y="1035.1" width="27.40" height="233.20" fill="none" stroke="#1a0a0a" stroke-width="1.1"/>
<text class="t lab" style="font-size:25.6px" x="1777.6" y="1055.00">10</text>
<text class="t lab" style="font-size:25.6px" x="1777.6" y="1076.34">8</text>
<text class="t lab" style="font-size:25.6px" x="1777.6" y="1097.68">6</text>
<text class="t lab" style="font-size:25.6px" x="1777.6" y="1119.02">4</text>
<text class="t lab" style="font-size:25.6px" x="1777.6" y="1140.36">2</text>
<text class="t lab" style="font-size:25.6px" x="1777.6" y="1161.70">0</text>
<text class="t lab" style="font-size:25.6px" x="1776.6" y="1183.04"><tspan dy="2.1">−</tspan><tspan dy="-2.1">2</tspan></text>
<text class="t lab" style="font-size:25.6px" x="1776.6" y="1204.38"><tspan dy="2.1">−</tspan><tspan dy="-2.1">4</tspan></text>
<text class="t lab" style="font-size:25.6px" x="1776.6" y="1225.72"><tspan dy="2.1">−</tspan><tspan dy="-2.1">6</tspan></text>
<text class="t lab" style="font-size:25.6px" x="1776.6" y="1247.06"><tspan dy="2.1">−</tspan><tspan dy="-2.1">8</tspan></text>
<text class="t lab" style="font-size:25.6px" x="1776.6" y="1268.40"><tspan dy="2.1">−</tspan><tspan dy="-2.1">10</tspan></text>
<text class="t ttl" x="1731" y="1027" textLength="125.5" lengthAdjust="spacingAndGlyphs"><tspan font-style="italic">SYZ</tspan>/MPa</text>
<text class="t cap" x="301.4" y="438" textLength="277.9" lengthAdjust="spacing" xml:space="preserve">(a) 垂直应力场切片</text>
<text class="t cap" x="1216.8" y="438" textLength="345.5" lengthAdjust="spacing" xml:space="preserve">(b) 垂直应力场局部切片</text>
<text class="t cap" x="300.6" y="915" textLength="279.0" lengthAdjust="spacing" xml:space="preserve">(c) 垂直位移场切片</text>
<text class="t cap" x="1218.8" y="915" textLength="346.0" lengthAdjust="spacing" xml:space="preserve">(d) 垂直位移场局部切片</text>
<text class="t cap" x="261.6" y="1343" textLength="345.0" lengthAdjust="spacing" xml:space="preserve">(e) 水平应力场局部切片</text>
<text class="t cap" x="1216.8" y="1343" textLength="343.0" lengthAdjust="spacing" xml:space="preserve">(f) 剪切应力场局部切片</text>
</svg></body></html>
